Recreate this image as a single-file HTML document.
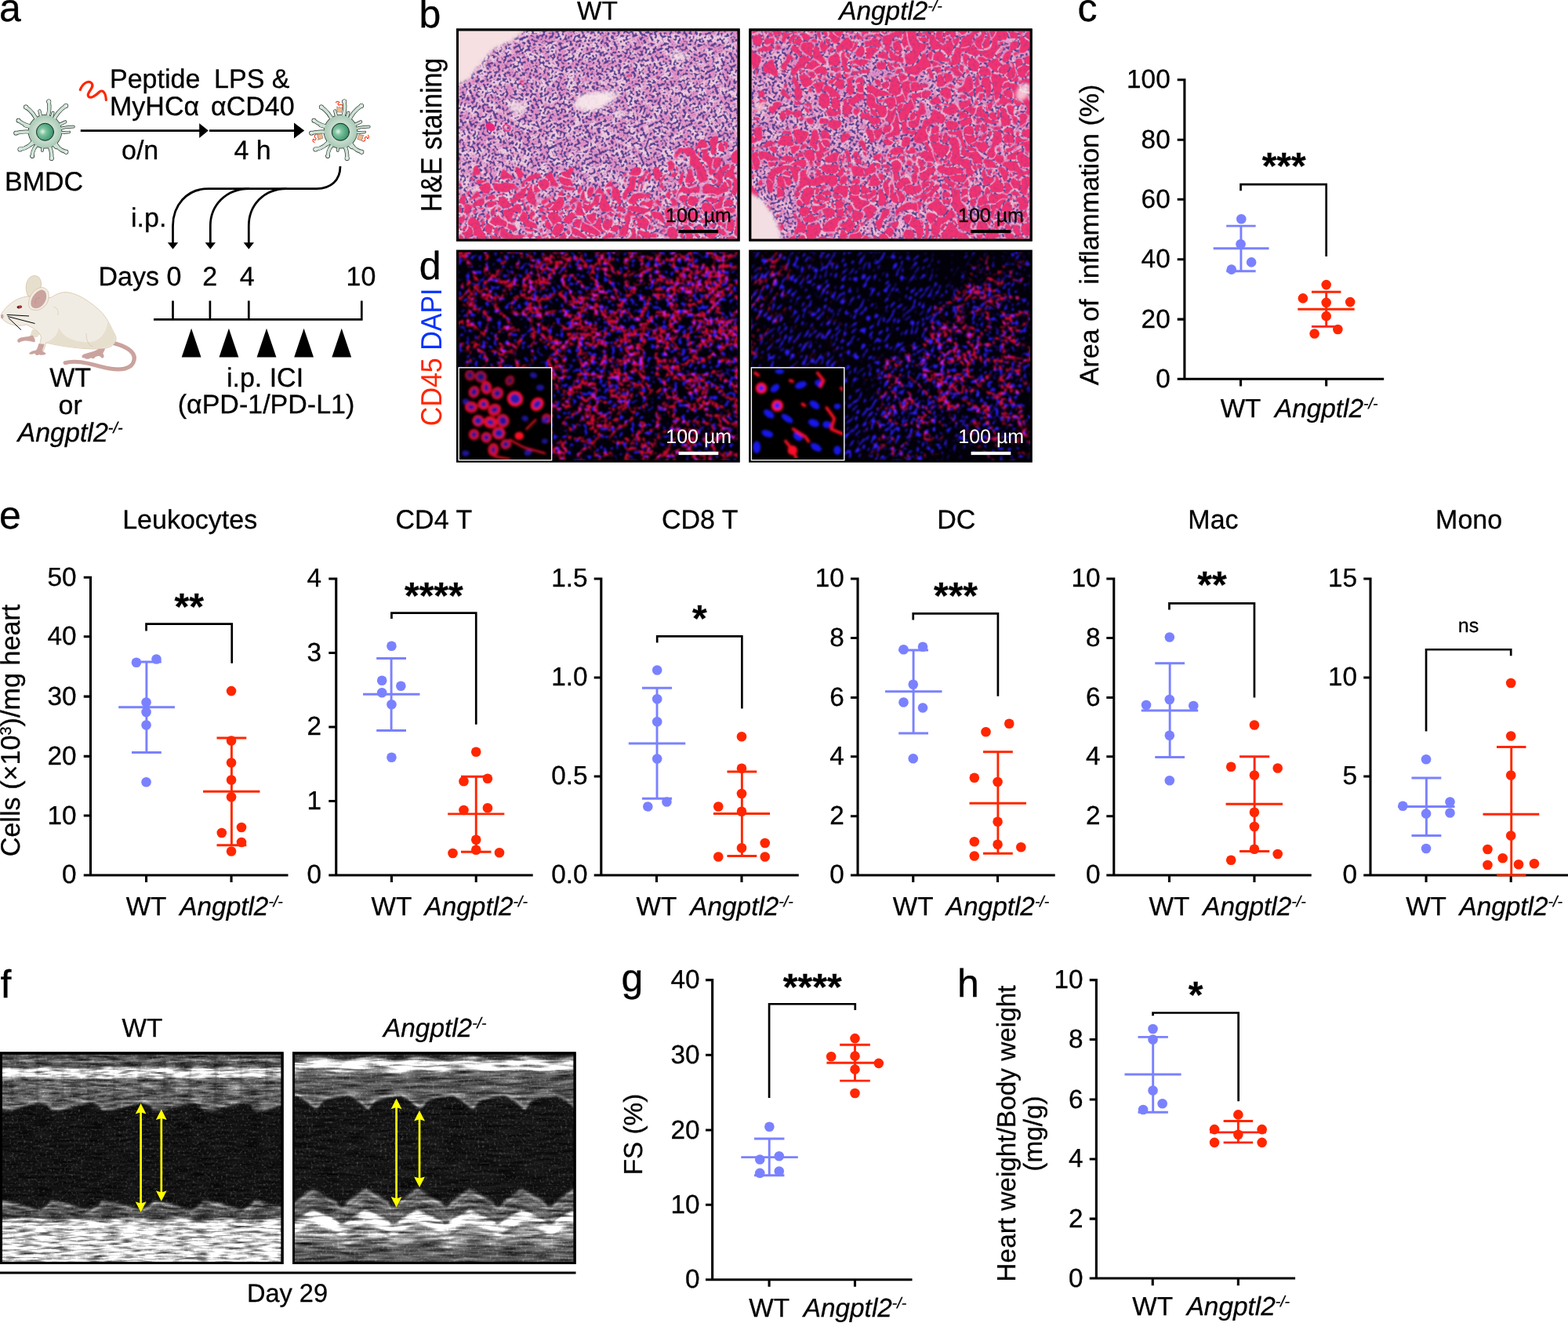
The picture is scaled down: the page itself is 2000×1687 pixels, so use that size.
<!DOCTYPE html>
<html lang="en">
<head>
<meta charset="utf-8">
<title>Figure</title>
<style>
html,body{margin:0;padding:0;background:#fff;}
body{width:2000px;height:1687px;overflow:hidden;}
svg{display:block;}
text{font-family:"Liberation Sans", sans-serif;text-rendering:geometricPrecision;}
text:not([fill]):not(.c){stroke:#000;stroke-width:0.3px;}
</style>
</head>
<body>
<svg width="2000" height="1687" viewBox="0 0 2000 1687">
<defs>
<clipPath id="clip_he_wt"><rect x="585.0" y="39.5" width="355.6" height="265.1"/></clipPath>
<clipPath id="clip_he_ko"><rect x="958.4" y="39.5" width="355.2" height="265.1"/></clipPath>
<clipPath id="clip_if_wt"><rect x="585.0" y="321.6" width="355.8" height="265.1"/></clipPath>
<clipPath id="clip_if_ko"><rect x="958.2" y="321.6" width="355.6" height="265.1"/></clipPath>
<g id="d_hewt_m"><rect x="562.0" y="16.5" width="401.6" height="311.1" fill="#000" fill-opacity="0.0"/><path d="M577.8 217.0 L628.5 210.1 L671.4 222.8 L706.5 217.0 L729.9 210.1 L745.5 238.4 L774.8 224.8 L794.3 213.1 L843.0 209.2 L858.6 187.7 L882.0 176.0 L917.1 172.1 L950.3 195.5 L950.3 316.4 L577.8 316.4Z" fill="#000" fill-opacity="0.9"/><path d="M577.8 250.1 L950.3 250.1 L950.3 316.4 L577.8 316.4Z" fill="#000" fill-opacity="0.6"/><ellipse cx="882.0" cy="189.7" rx="21.5" ry="13.7" fill="#000" fill-opacity="0.7"/><ellipse cx="913.2" cy="178.0" rx="9.8" ry="7.8" fill="#000" fill-opacity="0.7"/><ellipse cx="930.8" cy="224.8" rx="13.7" ry="11.7" fill="#000" fill-opacity="0.8"/><ellipse cx="726.0" cy="220.9" rx="17.6" ry="9.8" fill="#000" fill-opacity="0.6"/></g>
<g id="d_hewt_n"><rect x="562.0" y="16.5" width="401.6" height="311.1" fill="#000" fill-opacity="1.0"/></g>
<g id="d_heko_i"><rect x="935.4" y="16.5" width="401.2" height="311.1" fill="#000" fill-opacity="0.12"/><ellipse cx="984.9" cy="129.2" rx="33.2" ry="64.4" fill="#000" fill-opacity="0.55" transform="rotate(10 984.9 129.2)"/><ellipse cx="1094.1" cy="178.0" rx="33.2" ry="23.4" fill="#000" fill-opacity="0.7" transform="rotate(20 1094.1 178.0)"/><ellipse cx="1137.0" cy="277.4" rx="29.3" ry="17.6" fill="#000" fill-opacity="0.7"/><ellipse cx="984.9" cy="259.9" rx="23.4" ry="44.9" fill="#000" fill-opacity="0.6" transform="rotate(-35 984.9 259.9)"/><ellipse cx="1096.0" cy="101.9" rx="23.4" ry="39.0" fill="#000" fill-opacity="0.35" transform="rotate(30 1096.0 101.9)"/><ellipse cx="1049.2" cy="156.5" rx="39.0" ry="15.6" fill="#000" fill-opacity="0.4" transform="rotate(20 1049.2 156.5)"/><ellipse cx="1183.8" cy="137.0" rx="15.6" ry="58.5" fill="#000" fill-opacity="0.25" transform="rotate(15 1183.8 137.0)"/></g>
<g id="d_ifwt_r"><rect x="562.0" y="298.6" width="401.8" height="311.1" fill="#000" fill-opacity="0.5"/><ellipse cx="774.8" cy="441.5" rx="64.4" ry="81.9" fill="#000" fill-opacity="0.5"/><ellipse cx="891.8" cy="422.0" rx="54.6" ry="97.5" fill="#000" fill-opacity="0.5"/><ellipse cx="687.0" cy="363.5" rx="78.0" ry="39.0" fill="#000" fill-opacity="0.3"/><ellipse cx="872.3" cy="353.8" rx="48.8" ry="29.3" fill="#000" fill-opacity="0.4"/></g>
<g id="d_ifwt_b"><rect x="562.0" y="298.6" width="401.8" height="311.1" fill="#000" fill-opacity="1.0"/></g>
<g id="d_ifko_r"><rect x="935.2" y="298.6" width="401.6" height="311.1" fill="#000" fill-opacity="0.0"/><ellipse cx="1252.0" cy="451.3" rx="78.0" ry="93.6" fill="#000" fill-opacity="0.75"/><ellipse cx="1164.3" cy="490.3" rx="58.5" ry="50.7" fill="#000" fill-opacity="0.55"/><ellipse cx="1281.3" cy="548.8" rx="50.7" ry="50.7" fill="#000" fill-opacity="0.6"/><ellipse cx="1154.5" cy="558.5" rx="58.5" ry="39.0" fill="#000" fill-opacity="0.5"/><ellipse cx="1281.3" cy="353.8" rx="48.8" ry="39.0" fill="#000" fill-opacity="0.45"/></g>
<g id="d_ifko_bs"><rect x="935.2" y="298.6" width="401.6" height="311.1" fill="#000" fill-opacity="0.15"/><ellipse cx="1066.8" cy="422.0" rx="136.5" ry="175.5" fill="#000" fill-opacity="0.8"/><ellipse cx="1135.0" cy="558.5" rx="97.5" ry="58.5" fill="#000" fill-opacity="0.5"/></g>
<g id="d_ifko_rs"><rect x="935.2" y="298.6" width="401.6" height="311.1" fill="#000" fill-opacity="0.0"/><ellipse cx="973.2" cy="383.0" rx="25.4" ry="78.0" fill="#000" fill-opacity="0.9" transform="rotate(15 973.2 383.0)"/><ellipse cx="1037.5" cy="402.5" rx="48.8" ry="97.5" fill="#000" fill-opacity="0.3"/></g>
<filter id="heStroma" x="0" y="0" width="1" height="1" filterUnits="objectBoundingBox" color-interpolation-filters="sRGB"><feTurbulence type="fractalNoise" baseFrequency="0.09" numOctaves="2" seed="11" result="n"/><feComposite in="n" in2="SourceGraphic" operator="arithmetic" k1="0" k2="4.000" k3="-0.000" k4="-1.420" result="a"/><feFlood flood-color="#df8fc3" result="c"/><feComposite in="c" in2="a" operator="in"/></filter>
<filter id="heW" x="0" y="0" width="1" height="1" filterUnits="objectBoundingBox" color-interpolation-filters="sRGB"><feGaussianBlur in="SourceGraphic" stdDeviation="6" result="d"/><feTurbulence type="turbulence" baseFrequency="0.062" numOctaves="1" seed="5" result="n1"/><feTurbulence type="turbulence" baseFrequency="0.062" numOctaves="1" seed="36" result="n2"/><feComposite in="n1" in2="d" operator="arithmetic" k1="0" k2="16.000" k3="9.040" k4="-9.420" result="m1"/><feColorMatrix in="n2" type="matrix" values="0 0 0 0 0  0 0 0 0 0  0 0 0 0 0  0 0 0 16.000 -0.380" result="m2"/><feFlood flood-color="#f03272" flood-opacity="1" result="fib"/><feComposite in="fib" in2="m1" operator="in" result="fib"/><feComposite in="fib" in2="m2" operator="in" result="fib"/><feColorMatrix in="fib" type="matrix" values="1 0 0 0 0  0 1 0 0 0  0 0 1 0 0  0 0 0 0.80 0" result="fibA"/><feTurbulence type="fractalNoise" baseFrequency="0.31" numOctaves="1" seed="10" result="n3"/><feComposite in="n3" in2="d" operator="arithmetic" k1="0" k2="12.000" k3="-0.180" k4="-6.100" result="m3"/><feFlood flood-color="#55408f" flood-opacity="1" result="nuc"/><feComposite in="nuc" in2="m3" operator="in" result="nuc"/><feComposite in="nuc" in2="fibA" operator="out" result="nuc2"/><feMerge result="mg"><feMergeNode in="fib"/><feMergeNode in="nuc2"/></feMerge><feGaussianBlur in="mg" stdDeviation="0.55" result="o"/></filter>
<filter id="heK" x="0" y="0" width="1" height="1" filterUnits="objectBoundingBox" color-interpolation-filters="sRGB"><feGaussianBlur in="SourceGraphic" stdDeviation="8" result="d"/><feTurbulence type="turbulence" baseFrequency="0.062" numOctaves="1" seed="23" result="n1"/><feTurbulence type="turbulence" baseFrequency="0.062" numOctaves="1" seed="54" result="n2"/><feComposite in="n1" in2="d" operator="arithmetic" k1="0" k2="16.000" k3="-5.952" k4="0.052" result="m1"/><feColorMatrix in="n2" type="matrix" values="0 0 0 0 0  0 0 0 0 0  0 0 0 0 0  0 0 0 16.000 -0.140" result="m2"/><feFlood flood-color="#f03272" flood-opacity="1" result="fib"/><feComposite in="fib" in2="m1" operator="in" result="fib"/><feComposite in="fib" in2="m2" operator="in" result="fib"/><feColorMatrix in="fib" type="matrix" values="1 0 0 0 0  0 1 0 0 0  0 0 1 0 0  0 0 0 0.80 0" result="fibA"/><feTurbulence type="fractalNoise" baseFrequency="0.31" numOctaves="1" seed="28" result="n3"/><feComposite in="n3" in2="d" operator="arithmetic" k1="0" k2="12.000" k3="0.360" k4="-6.280" result="m3"/><feFlood flood-color="#55408f" flood-opacity="1" result="nuc"/><feComposite in="nuc" in2="m3" operator="in" result="nuc"/><feComposite in="nuc" in2="fibA" operator="out" result="nuc2"/><feMerge result="mg"><feMergeNode in="fib"/><feMergeNode in="nuc2"/></feMerge><feGaussianBlur in="mg" stdDeviation="0.55" result="o"/></filter>
<filter id="ifW" x="0" y="0" width="1" height="1" filterUnits="objectBoundingBox" color-interpolation-filters="sRGB"><feGaussianBlur in="SourceGraphic" stdDeviation="10" result="d"/><feTurbulence type="turbulence" baseFrequency="0.05" numOctaves="2" seed="4" result="n1"/><feTurbulence type="fractalNoise" baseFrequency="0.24" numOctaves="1" seed="11" result="n2"/><feTurbulence type="fractalNoise" baseFrequency="0.2" numOctaves="1" seed="17" result="n3"/><feComposite in="n1" in2="d" operator="arithmetic" k1="0" k2="-9.000" k3="2.430" k4="0.950" result="net"/><feColorMatrix in="n2" type="matrix" values="0 0 0 0 0  0 0 0 0 0  0 0 0 0 0  0 0 0 8.000 -3.380" result="m2"/><feFlood flood-color="#e80a34" flood-opacity="0.88" result="r"/><feComposite in="r" in2="net" operator="in" result="r"/><feComposite in="r" in2="m2" operator="in" result="r"/><feComposite in="n3" in2="d" operator="arithmetic" k1="0" k2="9.000" k3="1.260" k4="-5.800" result="m3"/><feFlood flood-color="#2418f0" flood-opacity="1" result="b"/><feComposite in="b" in2="m3" operator="in" result="b"/><feBlend in="r" in2="b" mode="screen" result="rb"/><feGaussianBlur in="rb" stdDeviation="0.95" result="o"/></filter>
<filter id="ifK" x="0" y="0" width="1" height="1" filterUnits="objectBoundingBox" color-interpolation-filters="sRGB"><feGaussianBlur in="SourceGraphic" stdDeviation="10" result="d"/><feTurbulence type="turbulence" baseFrequency="0.05" numOctaves="2" seed="9" result="n1"/><feTurbulence type="fractalNoise" baseFrequency="0.24" numOctaves="1" seed="16" result="n2"/><feTurbulence type="fractalNoise" baseFrequency="0.2" numOctaves="1" seed="22" result="n3"/><feComposite in="n1" in2="d" operator="arithmetic" k1="0" k2="-9.000" k3="3.060" k4="-0.040" result="net"/><feColorMatrix in="n2" type="matrix" values="0 0 0 0 0  0 0 0 0 0  0 0 0 0 0  0 0 0 8.000 -3.500" result="m2"/><feFlood flood-color="#e80a34" flood-opacity="0.88" result="r"/><feComposite in="r" in2="net" operator="in" result="r"/><feComposite in="r" in2="m2" operator="in" result="r"/><feComposite in="n3" in2="d" operator="arithmetic" k1="0" k2="9.000" k3="1.845" k4="-6.520" result="m3"/><feFlood flood-color="#2418f0" flood-opacity="1" result="b"/><feComposite in="b" in2="m3" operator="in" result="b"/><feBlend in="r" in2="b" mode="screen" result="rb"/><feGaussianBlur in="rb" stdDeviation="0.95" result="o"/></filter>
<filter id="ifKb" x="0" y="0" width="1" height="1" filterUnits="objectBoundingBox" color-interpolation-filters="sRGB"><feGaussianBlur in="SourceGraphic" stdDeviation="8" result="d"/><feTurbulence type="fractalNoise" baseFrequency="0.12 0.3" numOctaves="1" seed="31" result="n3"/><feComposite in="n3" in2="d" operator="arithmetic" k1="0" k2="10.000" k3="1.200" k4="-6.700" result="m3"/><feFlood flood-color="#2a1cff" flood-opacity="1" result="b"/><feComposite in="b" in2="m3" operator="in" result="b"/><feGaussianBlur in="b" stdDeviation="0.8" result="o"/></filter>
<filter id="ifKr" x="0" y="0" width="1" height="1" filterUnits="objectBoundingBox" color-interpolation-filters="sRGB"><feGaussianBlur in="SourceGraphic" stdDeviation="8" result="d"/><feTurbulence type="turbulence" baseFrequency="0.035 0.1" numOctaves="2" seed="12" result="n1"/><feTurbulence type="fractalNoise" baseFrequency="0.2" numOctaves="1" seed="19" result="n2"/><feComposite in="n1" in2="d" operator="arithmetic" k1="0" k2="-10.000" k3="2.300" k4="0.200" result="net"/><feColorMatrix in="n2" type="matrix" values="0 0 0 0 0  0 0 0 0 0  0 0 0 0 0  0 0 0 8.000 -3.500" result="m2"/><feFlood flood-color="#e80a34" flood-opacity="0.85" result="r"/><feComposite in="r" in2="net" operator="in" result="r"/><feComposite in="r" in2="m2" operator="in" result="r"/><feGaussianBlur in="r" stdDeviation="0.9" result="o"/></filter>
<clipPath id="clip_fwt"><rect x="2.8" y="1344.4" width="355.8" height="264.5"/></clipPath>
<clipPath id="clip_fko"><rect x="376.0" y="1344.4" width="355.6" height="264.5"/></clipPath>
<filter id="echoW" x="0" y="0" width="1" height="1" filterUnits="objectBoundingBox" color-interpolation-filters="sRGB"><feTurbulence type="fractalNoise" baseFrequency="0.045 0.30" numOctaves="2" seed="2" result="t1"/><feColorMatrix in="t1" type="matrix" values="0 0 0 1 0  0 0 0 1 0  0 0 0 1 0  0 0 0 0 1" result="g1"/><feTurbulence type="fractalNoise" baseFrequency="0.33" numOctaves="2" seed="5" result="t2"/><feColorMatrix in="t2" type="matrix" values="0 0 0 0.6 -0.33  0 0 0 0.6 -0.33  0 0 0 0.6 -0.33  0 0 0 0 1" result="g2"/><feComposite in="SourceGraphic" in2="g1" operator="arithmetic" k1="2.2" k2="-0.1" k3="0" k4="0" result="m"/><feComposite in="m" in2="g2" operator="arithmetic" k1="0" k2="1" k3="1" k4="0" result="o"/><feGaussianBlur in="o" stdDeviation="0.6"/></filter>
<filter id="echoK" x="0" y="0" width="1" height="1" filterUnits="objectBoundingBox" color-interpolation-filters="sRGB"><feTurbulence type="fractalNoise" baseFrequency="0.03 0.26" numOctaves="2" seed="6" result="t1"/><feColorMatrix in="t1" type="matrix" values="0 0 0 1 0  0 0 0 1 0  0 0 0 1 0  0 0 0 0 1" result="g1"/><feTurbulence type="fractalNoise" baseFrequency="0.33" numOctaves="2" seed="9" result="t2"/><feColorMatrix in="t2" type="matrix" values="0 0 0 0.6 -0.33  0 0 0 0.6 -0.33  0 0 0 0.6 -0.33  0 0 0 0 1" result="g2"/><feComposite in="SourceGraphic" in2="g1" operator="arithmetic" k1="2.2" k2="-0.1" k3="0" k4="0" result="m"/><feComposite in="m" in2="g2" operator="arithmetic" k1="0" k2="1" k3="1" k4="0" result="o"/><feGaussianBlur in="o" stdDeviation="0.6"/></filter>
<filter id="echoBlur" x="-0.05" y="-0.05" width="1.1" height="1.1"><feGaussianBlur stdDeviation="1.4"/></filter>
</defs>
<rect x="0" y="0" width="2000" height="1687" fill="#ffffff"/>
<g id="panel-a">
<text x="-1.00" y="27.00" font-size="50">a</text>
<radialGradient id="dcBody" cx="0" cy="0" r="166" gradientUnits="userSpaceOnUse"><stop offset="0" stop-color="#d9e8de"/><stop offset="0.62" stop-color="#c6dbcd"/><stop offset="1" stop-color="#a9c9b5"/></radialGradient>
<radialGradient id="dcNuc" cx="-25" cy="0" r="100" gradientUnits="userSpaceOnUse"><stop offset="0" stop-color="#e6f4ec"/><stop offset="0.35" stop-color="#7fc3a0"/><stop offset="1" stop-color="#3f9a72"/></radialGradient>
<g transform="translate(57.5 167.8) scale(0.125)" stroke-linecap="round">
<g fill="none" stroke="#24332b"><path d="M16 -129Q56 -215 38 -307" stroke-width="41"/><circle cx="38" cy="-307" r="24" stroke="none" fill="#24332b"/><path d="M82 -101Q120 -204 213 -263" stroke-width="41"/><circle cx="213" cy="-263" r="24" stroke="none" fill="#24332b"/><path d="M-80 -102Q-113 -196 -196 -250" stroke-width="41"/><circle cx="-196" cy="-250" r="24" stroke="none" fill="#24332b"/><path d="M-120 -50Q-205 -60 -272 -113" stroke-width="39"/><circle cx="-272" cy="-113" r="23" stroke="none" fill="#24332b"/><path d="M-130 7Q-215 -8 -298 15" stroke-width="39"/><circle cx="-298" cy="15" r="23" stroke="none" fill="#24332b"/><path d="M-106 75Q-153 167 -256 181" stroke-width="41"/><circle cx="-256" cy="181" r="24" stroke="none" fill="#24332b"/><path d="M-61 115Q-127 166 -131 250" stroke-width="39"/><circle cx="-131" cy="250" r="23" stroke="none" fill="#24332b"/><path d="M31 126Q73 194 66 273" stroke-width="41"/><circle cx="66" cy="273" r="24" stroke="none" fill="#24332b"/><path d="M94 90Q121 183 215 208" stroke-width="41"/><circle cx="215" cy="208" r="24" stroke="none" fill="#24332b"/><path d="M128 -21Q207 -51 291 -49" stroke-width="29"/><path d="M130 3Q188 14 247 6" stroke-width="27"/><path d="M117 -56Q162 -78 206 -99" stroke-width="33"/><path d="M-34 -125Q-46 -168 -57 -211" stroke-width="33"/><path d="M50 -120Q74 -152 80 -192" stroke-width="33"/><path d="M-125 -37Q-167 -49 -208 -61" stroke-width="31"/><path d="M-94 89Q-110 122 -143 135" stroke-width="31"/><path d="M-19 129Q-24 161 -29 193" stroke-width="29"/><path d="M74 107Q84 143 114 164" stroke-width="31"/></g>
<circle r="174" fill="#24332b"/>
<g fill="none" stroke="#cfe2d6"><path d="M16 -129Q56 -215 38 -307" stroke-width="30"/><circle cx="38" cy="-307" r="19" stroke="none" fill="#dcebe1"/><path d="M82 -101Q120 -204 213 -263" stroke-width="30"/><circle cx="213" cy="-263" r="19" stroke="none" fill="#dcebe1"/><path d="M-80 -102Q-113 -196 -196 -250" stroke-width="30"/><circle cx="-196" cy="-250" r="19" stroke="none" fill="#dcebe1"/><path d="M-120 -50Q-205 -60 -272 -113" stroke-width="28"/><circle cx="-272" cy="-113" r="17" stroke="none" fill="#dcebe1"/><path d="M-130 7Q-215 -8 -298 15" stroke-width="28"/><circle cx="-298" cy="15" r="17" stroke="none" fill="#dcebe1"/><path d="M-106 75Q-153 167 -256 181" stroke-width="30"/><circle cx="-256" cy="181" r="19" stroke="none" fill="#dcebe1"/><path d="M-61 115Q-127 166 -131 250" stroke-width="28"/><circle cx="-131" cy="250" r="17" stroke="none" fill="#dcebe1"/><path d="M31 126Q73 194 66 273" stroke-width="30"/><circle cx="66" cy="273" r="19" stroke="none" fill="#dcebe1"/><path d="M94 90Q121 183 215 208" stroke-width="30"/><circle cx="215" cy="208" r="19" stroke="none" fill="#dcebe1"/><path d="M128 -21Q207 -51 291 -49" stroke-width="18"/><path d="M130 3Q188 14 247 6" stroke-width="16"/><path d="M117 -56Q162 -78 206 -99" stroke-width="22"/><path d="M-34 -125Q-46 -168 -57 -211" stroke-width="22"/><path d="M50 -120Q74 -152 80 -192" stroke-width="22"/><path d="M-125 -37Q-167 -49 -208 -61" stroke-width="20"/><path d="M-94 89Q-110 122 -143 135" stroke-width="20"/><path d="M-19 129Q-24 161 -29 193" stroke-width="18"/><path d="M74 107Q84 143 114 164" stroke-width="20"/></g>
<circle r="168" fill="url(#dcBody)"/>
<circle cx="0" cy="4" r="88" fill="url(#dcNuc)" stroke="#14261d" stroke-width="8"/>
</g>
<g transform="translate(434.4 167.8) scale(0.125)" stroke-linecap="round">
<g fill="none" stroke="#24332b"><path d="M16 -129Q56 -215 38 -307" stroke-width="41"/><circle cx="38" cy="-307" r="24" stroke="none" fill="#24332b"/><path d="M82 -101Q120 -204 213 -263" stroke-width="41"/><circle cx="213" cy="-263" r="24" stroke="none" fill="#24332b"/><path d="M-80 -102Q-113 -196 -196 -250" stroke-width="41"/><circle cx="-196" cy="-250" r="24" stroke="none" fill="#24332b"/><path d="M-120 -50Q-205 -60 -272 -113" stroke-width="39"/><circle cx="-272" cy="-113" r="23" stroke="none" fill="#24332b"/><path d="M-130 7Q-215 -8 -298 15" stroke-width="39"/><circle cx="-298" cy="15" r="23" stroke="none" fill="#24332b"/><path d="M-106 75Q-153 167 -256 181" stroke-width="41"/><circle cx="-256" cy="181" r="24" stroke="none" fill="#24332b"/><path d="M-61 115Q-127 166 -131 250" stroke-width="39"/><circle cx="-131" cy="250" r="23" stroke="none" fill="#24332b"/><path d="M31 126Q73 194 66 273" stroke-width="41"/><circle cx="66" cy="273" r="24" stroke="none" fill="#24332b"/><path d="M94 90Q121 183 215 208" stroke-width="41"/><circle cx="215" cy="208" r="24" stroke="none" fill="#24332b"/><path d="M128 -21Q207 -51 291 -49" stroke-width="29"/><path d="M130 3Q188 14 247 6" stroke-width="27"/><path d="M117 -56Q162 -78 206 -99" stroke-width="33"/><path d="M-34 -125Q-46 -168 -57 -211" stroke-width="33"/><path d="M50 -120Q74 -152 80 -192" stroke-width="33"/><path d="M-125 -37Q-167 -49 -208 -61" stroke-width="31"/><path d="M-94 89Q-110 122 -143 135" stroke-width="31"/><path d="M-19 129Q-24 161 -29 193" stroke-width="29"/><path d="M74 107Q84 143 114 164" stroke-width="31"/></g>
<circle r="174" fill="#24332b"/>
<g fill="none" stroke="#cfe2d6"><path d="M16 -129Q56 -215 38 -307" stroke-width="30"/><circle cx="38" cy="-307" r="19" stroke="none" fill="#dcebe1"/><path d="M82 -101Q120 -204 213 -263" stroke-width="30"/><circle cx="213" cy="-263" r="19" stroke="none" fill="#dcebe1"/><path d="M-80 -102Q-113 -196 -196 -250" stroke-width="30"/><circle cx="-196" cy="-250" r="19" stroke="none" fill="#dcebe1"/><path d="M-120 -50Q-205 -60 -272 -113" stroke-width="28"/><circle cx="-272" cy="-113" r="17" stroke="none" fill="#dcebe1"/><path d="M-130 7Q-215 -8 -298 15" stroke-width="28"/><circle cx="-298" cy="15" r="17" stroke="none" fill="#dcebe1"/><path d="M-106 75Q-153 167 -256 181" stroke-width="30"/><circle cx="-256" cy="181" r="19" stroke="none" fill="#dcebe1"/><path d="M-61 115Q-127 166 -131 250" stroke-width="28"/><circle cx="-131" cy="250" r="17" stroke="none" fill="#dcebe1"/><path d="M31 126Q73 194 66 273" stroke-width="30"/><circle cx="66" cy="273" r="19" stroke="none" fill="#dcebe1"/><path d="M94 90Q121 183 215 208" stroke-width="30"/><circle cx="215" cy="208" r="19" stroke="none" fill="#dcebe1"/><path d="M128 -21Q207 -51 291 -49" stroke-width="18"/><path d="M130 3Q188 14 247 6" stroke-width="16"/><path d="M117 -56Q162 -78 206 -99" stroke-width="22"/><path d="M-34 -125Q-46 -168 -57 -211" stroke-width="22"/><path d="M50 -120Q74 -152 80 -192" stroke-width="22"/><path d="M-125 -37Q-167 -49 -208 -61" stroke-width="20"/><path d="M-94 89Q-110 122 -143 135" stroke-width="20"/><path d="M-19 129Q-24 161 -29 193" stroke-width="18"/><path d="M74 107Q84 143 114 164" stroke-width="20"/></g>
<circle r="168" fill="url(#dcBody)"/>
<circle cx="0" cy="4" r="88" fill="url(#dcNuc)" stroke="#14261d" stroke-width="8"/>
<g transform="translate(-10 -232) rotate(5)"><path d="M-24 30 L-28 -22 L-12 -8 L0 -20 L12 -8 L28 -22 L24 30 Z" fill="#f2b98c" stroke="#8a6a55" stroke-width="5"/><path d="M-44 -62 q22 -24 36 -2 q-28 14 -2 28 q28 -24 42 8" fill="none" stroke="#ff2600" stroke-width="8"/></g>
<g transform="translate(-218 52) rotate(-105)"><path d="M-24 30 L-28 -22 L-12 -8 L0 -20 L12 -8 L28 -22 L24 30 Z" fill="#f2b98c" stroke="#8a6a55" stroke-width="5"/><path d="M-44 -62 q22 -24 36 -2 q-28 14 -2 28 q28 -24 42 8" fill="none" stroke="#ff2600" stroke-width="8"/></g>
<g transform="translate(210 62) rotate(105)"><path d="M-24 30 L-28 -22 L-12 -8 L0 -20 L12 -8 L28 -22 L24 30 Z" fill="#f2b98c" stroke="#8a6a55" stroke-width="5"/><path d="M-44 -62 q22 -24 36 -2 q-28 14 -2 28 q28 -24 42 8" fill="none" stroke="#ff2600" stroke-width="8"/></g>
</g>
<path d="M102.3 114.5 C105 107 112.5 101.5 116.8 106 C121.5 111.5 110 118 112.5 122.5 C115 127 122.5 121.5 127 117 C131.5 113.5 135 119.5 135.3 127.5" fill="none" stroke="#ff2600" stroke-width="3.2" stroke-linecap="round"/>
<text x="140.00" y="111.80" font-size="34">Peptide</text>
<text x="140.00" y="147.00" font-size="34">MyHCα</text>
<text x="273.10" y="111.80" font-size="34">LPS &amp;</text>
<text x="269.00" y="147.00" font-size="34">αCD40</text>
<text x="155.00" y="202.60" font-size="34">o/n</text>
<text x="298.50" y="202.60" font-size="34">4 h</text>
<text x="6.00" y="242.50" font-size="34">BMDC</text>
<path d="M102.8 166.6 H256 M267 166.6 H377" fill="none" stroke="#000" stroke-width="2.75"/>
<path d="M254.2 157.2 L265.8 166.6 L254.2 176 Z M375 156.6 L388.2 166.6 L375 176.6 Z" fill="#000"/>
<path d="M434 212 C434 230 422 240.6 404 240.6 H266 C238 240.6 220.5 262 220.5 288 V310" fill="none" stroke="#000" stroke-width="2.75"/>
<path d="M318 240.6 C288 240.6 268.3 262 268.3 288 V310" fill="none" stroke="#000" stroke-width="2.75"/>
<path d="M366 240.6 C336 240.6 317.3 262 317.3 288 V310" fill="none" stroke="#000" stroke-width="2.75"/>
<path d="M213.8 309.2 H227.2 L220.5 317.8 Z" fill="#000"/>
<path d="M261.6 309.2 H275.0 L268.3 317.8 Z" fill="#000"/>
<path d="M310.6 309.2 H324.0 L317.3 317.8 Z" fill="#000"/>
<text x="167.00" y="289.30" font-size="34">i.p.</text>
<text x="125.50" y="363.50" font-size="34">Days 0</text>
<text x="267.60" y="363.50" font-size="34" text-anchor="middle">2</text>
<text x="315.30" y="363.50" font-size="34" text-anchor="middle">4</text>
<text x="460.50" y="363.50" font-size="34" text-anchor="middle">10</text>
<path d="M196 407.3 H462.6 M220.5 383.4 V407.3 M267.9 383.4 V407.3 M317.3 383.4 V407.3 M461.3 383.4 V407.3" fill="none" stroke="#000" stroke-width="2.7"/>
<path d="M244.1 418.8 L256.5 455.6 H231.7 Z" fill="#000"/>
<path d="M291.9 418.8 L304.29999999999995 455.6 H279.5 Z" fill="#000"/>
<path d="M340 418.8 L352.4 455.6 H327.6 Z" fill="#000"/>
<path d="M387.6 418.8 L400.0 455.6 H375.20000000000005 Z" fill="#000"/>
<path d="M435.75 418.8 L448.15 455.6 H423.35 Z" fill="#000"/>
<text x="338.00" y="493.40" font-size="34" text-anchor="middle">i.p. ICI</text>
<text x="339.50" y="527.30" font-size="34" text-anchor="middle">(αPD-1/PD-L1)</text>
<text x="89.70" y="493.40" font-size="34" text-anchor="middle">WT</text>
<text x="89.70" y="528.00" font-size="34" text-anchor="middle">or</text>
<text x="89.50" y="563.30" font-size="34" font-style="italic" text-anchor="middle">Angptl2<tspan font-size="19.82" dy="-11.32">-/-</tspan></text>
<g transform="translate(0 330) scale(0.125)" stroke-linejoin="round">
<path d="M1120 850 C1260 880 1390 940 1370 1030 C1350 1130 1230 1140 1120 1120 C980 1095 800 1020 665 1062" fill="none" stroke="#cba39e" stroke-width="40" stroke-linecap="round"/>
<path d="M1120 866 C1250 895 1360 950 1352 1030 C1338 1110 1230 1125 1120 1106" fill="none" stroke="#b98d88" stroke-width="8" stroke-linecap="round" opacity="0.5"/>
<path d="M285 380 C240 280 280 175 350 172 C415 170 435 250 410 310 C390 350 330 390 285 380Z" fill="#e7dfce" stroke="#cdb594" stroke-width="5"/>
<path d="M330 720 L300 800 L380 800 L420 740Z" fill="#e7dfce"/>
<path d="M178 832 C185 800 240 800 300 790 L330 780 C350 800 365 830 355 850 C330 850 300 835 280 838 C250 832 215 840 195 855 C180 850 175 842 178 832Z" fill="#cba39e"/>
<path d="M1010 915 C960 950 890 955 850 975 C825 990 835 1015 865 1012 C870 1025 900 1028 930 1010 C940 1025 960 1020 975 1000 C1000 990 1020 985 1035 1010 C1060 1020 1070 990 1050 965 C1060 945 1075 925 1070 910Z" fill="#cba39e"/>
<path d="M10 585 C5 560 60 490 130 440 C190 400 250 385 290 385 C380 380 470 400 520 395 C570 365 620 335 690 342 C800 355 920 440 1010 520 C1090 590 1130 690 1180 790 C1195 830 1170 880 1120 900 C1050 925 950 922 850 915 C720 905 560 880 470 855 L445 935 L395 925 L420 800 C400 740 340 705 270 672 C200 690 120 680 70 650 C40 630 15 610 10 585Z" fill="#f1ece3" stroke="#cdb594" stroke-width="5"/>
<path d="M600 700 C640 800 760 850 900 850 C1000 850 1080 780 1100 640 C1160 720 1185 800 1170 850 C1140 900 1050 920 850 912 C720 904 560 878 470 853 C520 830 590 790 600 700Z" fill="#e7dfce"/>
<path d="M880 760 C880 830 900 880 945 895" fill="none" stroke="#cdb594" stroke-width="4"/>
<path d="M545 490 C590 500 600 540 590 575" fill="none" stroke="#cdb594" stroke-width="4"/>
<path d="M395 865 C385 900 380 925 360 935 C330 935 305 950 295 968 C310 980 335 970 355 965 C365 985 385 992 395 975 C420 985 455 985 470 968 C455 950 440 945 430 935 C440 910 450 890 452 870Z" fill="#cba39e"/>
<path d="M300 500 C270 420 330 310 420 292 C480 290 510 340 495 410 C485 470 430 520 370 525 C340 525 310 515 300 500Z" fill="#f1ece3" stroke="#cdb594" stroke-width="5"/>
<path d="M318 478 C300 420 350 335 420 315 C465 315 480 360 470 410 C455 460 420 500 370 505 C345 505 325 495 318 478Z" fill="#cba39e"/>
<path d="M360 455 C355 420 375 390 405 400" fill="none" stroke="#b98d88" stroke-width="6" stroke-linecap="round"/>
<ellipse cx="22" cy="588" rx="14" ry="22" fill="#cba39e"/>
<ellipse cx="198" cy="492" rx="26" ry="15" transform="rotate(-8 198 492)" fill="#5a1a1a"/>
<ellipse cx="203" cy="492" rx="13" ry="10" fill="#d23a3a"/>
<path d="M70 571 L296 584 M78 588 L356 660 M86 603 L215 725" fill="none" stroke="#000" stroke-width="8"/>
</g>
</g>
<g id="images">
<filter id="softblur" x="-0.1" y="-0.1" width="1.2" height="1.2"><feGaussianBlur stdDeviation="2.2"/></filter>
<filter id="softblur1" x="-0.2" y="-0.2" width="1.4" height="1.4"><feGaussianBlur stdDeviation="0.7"/></filter>
<filter id="insblur" x="0" y="0" width="1" height="1"><feGaussianBlur stdDeviation="1.7"/></filter>
<text x="534.50" y="35.30" font-size="50">b</text>
<text x="534.80" y="355.60" font-size="50">d</text>
<text x="762.00" y="24.60" font-size="33.33" text-anchor="middle">WT</text>
<text x="1136.00" y="24.60" font-size="33.33" font-style="italic" text-anchor="middle">Angptl2<tspan font-size="19.43" dy="-11.10">-/-</tspan></text>
<text transform="translate(563 172) rotate(-90) scale(1 1.1)" font-size="34" text-anchor="middle">H&amp;E staining</text>
<text class="c" transform="translate(563 455.3) rotate(-90) scale(1 1.1)" font-size="34" text-anchor="middle"><tspan fill="#ff2600">CD45</tspan> <tspan fill="#0433ff">DAPI</tspan></text>
<rect x="582.0" y="36.5" width="361.6" height="271.1" fill="#000"/>
<rect x="585.0" y="39.5" width="355.6" height="265.1" fill="#eec9de"/>
<g clip-path="url(#clip_he_wt)"><g filter="url(#heStroma)"><use href="#d_hewt_n"/></g></g>
<g clip-path="url(#clip_he_wt)"><g transform="rotate(-24 762.8 172.1)"><g filter="url(#heW)"><g transform="rotate(24 762.8 172.1)"><use href="#d_hewt_m"/></g></g></g></g>
<g filter="url(#softblur1)"><ellipse cx="625.5" cy="161.8" rx="6.6" ry="4.8" transform="rotate(35 625.5 161.8)" fill="#e9267c"/><ellipse cx="646.3" cy="163" rx="4.6" ry="3.6" transform="rotate(30 646.3 163)" fill="none" stroke="#ee3f8c" stroke-width="2.2"/></g>
<g clip-path="url(#clip_he_wt)"><g filter="url(#softblur)"><path d="M577.8 31.7 L679.2 31.7 L653.9 51.2 L628.5 63.9 L611.0 84.4 L597.3 101.9 L577.8 110.7Z" fill="#f6e0e2" fill-opacity="1.0"/><ellipse cx="755.3" cy="129.2" rx="23.4" ry="11.7" fill="#f8e6ea" fill-opacity="0.95" transform="rotate(-10 755.3 129.2)"/><ellipse cx="774.8" cy="123.4" rx="13.7" ry="7.8" fill="#f8e6ea" fill-opacity="0.8" transform="rotate(-10 774.8 123.4)"/><ellipse cx="659.7" cy="137.0" rx="11.7" ry="7.8" fill="#f8e6ea" fill-opacity="0.8" transform="rotate(20 659.7 137.0)"/><ellipse cx="866.4" cy="71.7" rx="9.8" ry="5.9" fill="#f8e6ea" fill-opacity="0.7"/><ellipse cx="790.4" cy="144.8" rx="7.8" ry="4.9" fill="#f8e6ea" fill-opacity="0.7"/></g></g>
<rect x="955.4" y="36.5" width="361.2" height="271.1" fill="#000"/>
<rect x="958.4" y="39.5" width="355.2" height="265.1" fill="#efbad5"/>
<g clip-path="url(#clip_he_ko)"><g filter="url(#heStroma)"><use href="#d_heko_i"/></g></g>
<g clip-path="url(#clip_he_ko)"><g transform="rotate(33 1136.0 172.1)"><g filter="url(#heK)"><g transform="rotate(-33 1136.0 172.1)"><use href="#d_heko_i"/></g></g></g></g>
<g clip-path="url(#clip_he_ko)"><g filter="url(#softblur)"><path d="M951.7 242.3 L971.2 254.0 L984.9 271.6 L994.6 293.0 L998.5 312.5 L951.7 312.5Z" fill="#f3dfe3" fill-opacity="1.0"/><ellipse cx="1304.7" cy="117.5" rx="7.8" ry="11.7" fill="#f8e6ea" fill-opacity="0.8" transform="rotate(30 1304.7 117.5)"/><ellipse cx="969.3" cy="137.0" rx="7.8" ry="5.9" fill="#f8e6ea" fill-opacity="0.7"/></g></g>
<rect x="582.0" y="318.6" width="361.8" height="271.1" fill="#000"/>
<rect x="585.0" y="321.6" width="355.8" height="265.1" fill="#020008"/>
<g clip-path="url(#clip_if_wt)"><g filter="url(#ifW)"><use href="#d_ifwt_r"/></g></g>
<rect x="955.2" y="318.6" width="361.6" height="271.1" fill="#000"/>
<rect x="958.2" y="321.6" width="355.6" height="265.1" fill="#020008"/>
<g clip-path="url(#clip_if_ko)"><g transform="rotate(-58 1136.0 454.2)"><g filter="url(#ifKb)"><g transform="rotate(58 1136.0 454.2)"><use href="#d_ifko_bs"/></g></g></g></g>
<g style="mix-blend-mode:screen"><g clip-path="url(#clip_if_ko)"><g transform="rotate(-62 1136.0 454.2)"><g filter="url(#ifKr)"><g transform="rotate(62 1136.0 454.2)"><use href="#d_ifko_rs"/></g></g></g></g>
</g><g style="mix-blend-mode:screen"><g clip-path="url(#clip_if_ko)"><g filter="url(#ifK)"><use href="#d_ifko_r"/></g></g>
</g><rect x="585.2" y="468.8" width="118.4" height="118.0" fill="#000"/>
<g filter="url(#insblur)"><svg x="586.2" y="469.8" width="116.4" height="116.0" viewBox="0 0 600 600" preserveAspectRatio="none"><ellipse cx="365" cy="200" rx="42" ry="44" transform="rotate(119 365 200)" fill="#2a1ed0" fill-opacity="0.85" stroke="#ff1024" stroke-opacity="1.00" stroke-width="19"/><ellipse cx="510" cy="236" rx="39" ry="31" transform="rotate(131 510 236)" fill="#2a1ed0" fill-opacity="0.85" stroke="#ff1024" stroke-opacity="1.00" stroke-width="19"/><ellipse cx="95" cy="155" rx="32" ry="27" transform="rotate(114 95 155)" fill="#2a1ed0" fill-opacity="0.68" stroke="#ff1024" stroke-opacity="0.80" stroke-width="18"/><ellipse cx="176" cy="127" rx="26" ry="34" transform="rotate(177 176 127)" fill="#2a1ed0" fill-opacity="0.72" stroke="#ff1024" stroke-opacity="0.85" stroke-width="21"/><ellipse cx="248" cy="164" rx="32" ry="30" transform="rotate(115 248 164)" fill="#2a1ed0" fill-opacity="0.68" stroke="#ff1024" stroke-opacity="0.80" stroke-width="21"/><ellipse cx="77" cy="255" rx="32" ry="27" transform="rotate(3 77 255)" fill="#2a1ed0" fill-opacity="0.72" stroke="#ff1024" stroke-opacity="0.85" stroke-width="22"/><ellipse cx="158" cy="236" rx="28" ry="28" transform="rotate(61 158 236)" fill="#2a1ed0" fill-opacity="0.77" stroke="#ff1024" stroke-opacity="0.90" stroke-width="20"/><ellipse cx="230" cy="273" rx="34" ry="29" transform="rotate(151 230 273)" fill="#2a1ed0" fill-opacity="0.72" stroke="#ff1024" stroke-opacity="0.85" stroke-width="23"/><ellipse cx="122" cy="345" rx="31" ry="32" transform="rotate(127 122 345)" fill="#2a1ed0" fill-opacity="0.77" stroke="#ff1024" stroke-opacity="0.90" stroke-width="15"/><ellipse cx="203" cy="355" rx="28" ry="35" transform="rotate(104 203 355)" fill="#2a1ed0" fill-opacity="0.77" stroke="#ff1024" stroke-opacity="0.90" stroke-width="24"/><ellipse cx="285" cy="345" rx="36" ry="34" transform="rotate(65 285 345)" fill="#2a1ed0" fill-opacity="0.72" stroke="#ff1024" stroke-opacity="0.85" stroke-width="18"/><ellipse cx="95" cy="436" rx="26" ry="27" transform="rotate(17 95 436)" fill="#2a1ed0" fill-opacity="0.68" stroke="#ff1024" stroke-opacity="0.80" stroke-width="20"/><ellipse cx="176" cy="455" rx="27" ry="27" transform="rotate(74 176 455)" fill="#2a1ed0" fill-opacity="0.72" stroke="#ff1024" stroke-opacity="0.85" stroke-width="18"/><ellipse cx="258" cy="427" rx="36" ry="34" transform="rotate(0 258 427)" fill="#2a1ed0" fill-opacity="0.77" stroke="#ff1024" stroke-opacity="0.90" stroke-width="17"/><ellipse cx="222" cy="536" rx="33" ry="24" transform="rotate(96 222 536)" fill="#2a1ed0" fill-opacity="0.68" stroke="#ff1024" stroke-opacity="0.80" stroke-width="24"/><ellipse cx="304" cy="500" rx="28" ry="25" transform="rotate(161 304 500)" fill="#2a1ed0" fill-opacity="0.68" stroke="#ff1024" stroke-opacity="0.80" stroke-width="17"/><ellipse cx="68" cy="45" rx="28" ry="25" transform="rotate(79 68 45)" fill="#2a1ed0" fill-opacity="0.51" stroke="#ff1024" stroke-opacity="0.60" stroke-width="18"/><ellipse cx="140" cy="55" rx="33" ry="31" transform="rotate(30 140 55)" fill="#2a1ed0" fill-opacity="0.55" stroke="#ff1024" stroke-opacity="0.65" stroke-width="16"/><ellipse cx="330" cy="80" rx="26" ry="20" transform="rotate(119 330 80)" fill="#2a1ed0" fill-opacity="0.42" stroke="#ff1024" stroke-opacity="0.50" stroke-width="22"/><ellipse cx="575" cy="330" rx="22" ry="25" transform="rotate(114 575 330)" fill="#2a1ed0" fill-opacity="0.59" stroke="#ff1024" stroke-opacity="0.70" stroke-width="20"/><ellipse cx="392" cy="445" rx="30" ry="26" fill="#ff1024"/><ellipse cx="530" cy="127" rx="26" ry="20" fill="#2418c0" fill-opacity="0.8" transform="rotate(0 530 127)"/><ellipse cx="486" cy="45" rx="24" ry="18" fill="#2418c0" fill-opacity="0.8" transform="rotate(20 486 45)"/><ellipse cx="40" cy="218" rx="22" ry="18" fill="#2418c0" fill-opacity="0.8" transform="rotate(0 40 218)"/><ellipse cx="560" cy="345" rx="22" ry="18" fill="#2418c0" fill-opacity="0.8" transform="rotate(0 560 345)"/><ellipse cx="450" cy="555" rx="26" ry="20" fill="#2418c0" fill-opacity="0.8" transform="rotate(-20 450 555)"/><ellipse cx="430" cy="330" rx="22" ry="18" fill="#2418c0" fill-opacity="0.8" transform="rotate(30 430 330)"/><ellipse cx="560" cy="480" rx="20" ry="16" fill="#2418c0" fill-opacity="0.8" transform="rotate(0 560 480)"/><ellipse cx="40" cy="560" rx="24" ry="18" fill="#2418c0" fill-opacity="0.8" transform="rotate(0 40 560)"/><path d="M330 470 L420 520 L560 560 M230 580 L330 598 M440 400 L500 340" stroke="#ff1024" stroke-opacity="0.85" stroke-width="14" stroke-linecap="round" fill="none"/></svg></g>
<rect x="585.2" y="468.8" width="118.4" height="118.0" fill="none" stroke="#fff" stroke-width="1.4"/>
<rect x="958.4000000000001" y="468.8" width="118.4" height="118.0" fill="#000"/>
<g filter="url(#insblur)"><svg x="959.4000000000001" y="469.8" width="116.4" height="116.0" viewBox="0 0 600 600" preserveAspectRatio="none"><circle cx="165" cy="245" r="30" fill="#2a22ff" stroke="#ff1020" stroke-width="20"/><circle cx="60" cy="130" r="28" fill="#2a22ff" stroke="#ff1020" stroke-width="20"/><circle cx="265" cy="540" r="22" fill="#2a22ff" stroke="#ff1020" stroke-width="20"/><ellipse cx="320" cy="110" rx="40" ry="22" fill="#1414ee" transform="rotate(-20 320 110)"/><ellipse cx="150" cy="130" rx="34" ry="22" fill="#1414ee" transform="rotate(-40 150 130)"/><ellipse cx="440" cy="100" rx="30" ry="22" fill="#1414ee" transform="rotate(30 440 100)"/><ellipse cx="110" cy="300" rx="40" ry="22" fill="#1414ee" transform="rotate(35 110 300)"/><ellipse cx="230" cy="330" rx="44" ry="20" fill="#1414ee" transform="rotate(35 230 330)"/><ellipse cx="410" cy="240" rx="38" ry="22" fill="#1414ee" transform="rotate(35 410 240)"/><ellipse cx="405" cy="360" rx="38" ry="24" fill="#1414ee" transform="rotate(20 405 360)"/><ellipse cx="490" cy="370" rx="26" ry="24" fill="#1414ee" transform="rotate(0 490 370)"/><ellipse cx="300" cy="450" rx="34" ry="24" fill="#1414ee" transform="rotate(40 300 450)"/><ellipse cx="100" cy="430" rx="40" ry="22" fill="#1414ee" transform="rotate(20 100 430)"/><ellipse cx="30" cy="520" rx="26" ry="40" fill="#1414ee" transform="rotate(0 30 520)"/><ellipse cx="420" cy="520" rx="40" ry="22" fill="#1414ee" transform="rotate(30 420 520)"/><ellipse cx="560" cy="540" rx="24" ry="30" fill="#1414ee" transform="rotate(0 560 540)"/><ellipse cx="180" cy="20" rx="30" ry="16" fill="#1414ee" transform="rotate(0 180 20)"/><ellipse cx="560" cy="250" rx="22" ry="18" fill="#1414ee" transform="rotate(0 560 250)"/><path d="M430 30 L470 80 L450 120 M490 260 L540 330 L520 400 L590 430 M270 400 L350 450 L370 480 M220 480 L260 530 L290 590 M250 80 L265 85 M330 235 L345 245 M585 130 L595 140 M20 30 L40 45" stroke="#ff1020" stroke-width="20" stroke-linecap="round" stroke-linejoin="round" fill="none"/></svg></g>
<rect x="958.4000000000001" y="468.8" width="118.4" height="118.0" fill="none" stroke="#fff" stroke-width="1.4"/>
<rect x="583.5" y="38.0" width="358.6" height="268.1" fill="none" stroke="#000" stroke-width="3.0"/>
<rect x="956.9" y="38.0" width="358.2" height="268.1" fill="none" stroke="#000" stroke-width="3.0"/>
<text x="891.00" y="282.50" font-size="25" text-anchor="middle">100 µm</text>
<rect x="865.4" y="293.0" width="50.7" height="4.2" fill="#000"/>
<text x="1264.00" y="282.50" font-size="25" text-anchor="middle">100 µm</text>
<rect x="1238.4" y="293.0" width="50.7" height="4.2" fill="#000"/>
<text x="891.20" y="565.40" font-size="25" text-anchor="middle" fill="#fff">100 µm</text>
<rect x="865.6" y="575.9" width="50.7" height="4.2" fill="#fff"/>
<text x="1264.20" y="565.40" font-size="25" text-anchor="middle" fill="#fff">100 µm</text>
<rect x="1238.6" y="575.9" width="50.7" height="4.2" fill="#fff"/>
</g>
<g id="plots">
<text x="1374.50" y="27.00" font-size="50">c</text>
<text transform="translate(1401.00 299.50) rotate(-90)" font-size="34" text-anchor="middle" xml:space="preserve">Area of  inflammation (%)</text>
<path d="M1510.88 100.24 V484.79 M1501.69 483.24 H1765.18 M1501.69 101.79 H1510.88 M1501.69 178.23 H1510.88 M1501.69 254.30 H1510.88 M1501.69 330.74 H1510.88 M1501.69 407.17 H1510.88 M1582.54 483.24 V492.43 M1691.68 483.24 V492.43" fill="none" stroke="#000" stroke-width="3.1"/>
<text x="1492.70" y="112.33" font-size="33.33" text-anchor="end">100</text>
<text x="1492.70" y="188.76" font-size="33.33" text-anchor="end">80</text>
<text x="1492.70" y="264.83" font-size="33.33" text-anchor="end">60</text>
<text x="1492.70" y="341.27" font-size="33.33" text-anchor="end">40</text>
<text x="1492.70" y="417.71" font-size="33.33" text-anchor="end">20</text>
<text x="1492.70" y="493.77" font-size="33.33" text-anchor="end">0</text>
<text x="1582.54" y="532.22" font-size="33.33" text-anchor="middle">WT</text>
<text x="1691.68" y="532.22" font-size="33.33" font-style="italic" text-anchor="middle">Angptl2<tspan font-size="19.43" dy="-11.10">-/-</tspan></text>
<path d="M1582.54 243.28 V235.19 H1691.68 V327.06" fill="none" stroke="#000" stroke-width="2.7"/>
<text x="1637.66" y="228.35" font-size="48" text-anchor="middle" font-weight="bold">***</text>
<path d="M1547.63 316.77 H1618.55 M1564.17 288.11 H1601.65 M1564.17 345.80 H1601.65 M1582.91 288.11 V345.80" fill="none" stroke="#7a81ff" stroke-width="2.9"/>
<g fill="#7a81ff"><circle cx="1583.28" cy="279.29" r="6.3"/><circle cx="1582.54" cy="311.26" r="6.3"/><circle cx="1596.14" cy="334.41" r="6.3"/><circle cx="1570.78" cy="343.60" r="6.3"/></g>
<path d="M1655.30 394.31 H1727.70 M1672.94 372.26 H1710.42 M1672.94 416.36 H1710.42 M1691.68 372.26 V416.36" fill="none" stroke="#ff2600" stroke-width="2.9"/>
<g fill="#ff2600"><circle cx="1691.68" cy="363.08" r="6.3"/><circle cx="1661.92" cy="380.35" r="6.3"/><circle cx="1691.68" cy="385.86" r="6.3"/><circle cx="1722.18" cy="385.12" r="6.3"/><circle cx="1691.68" cy="403.13" r="6.3"/><circle cx="1706.38" cy="420.04" r="6.3"/><circle cx="1676.62" cy="425.55" r="6.3"/></g>
<text x="-1.00" y="674.00" font-size="50">e</text>
<text transform="translate(25.00 931.50) rotate(-90)" font-size="34.2" text-anchor="middle">Cells (×10<tspan font-size="19.8" dy="-11.3">3</tspan><tspan dy="11.3">)/mg heart</tspan></text>
<path d="M115.50 734.65 V1117.50 M106.75 1115.95 H367.50 M106.75 736.20 H115.50 M106.75 811.80 H115.50 M106.75 888.10 H115.50 M106.75 964.40 H115.50 M106.75 1040.00 H115.50 M186.55 1115.95 V1125.05 M295.05 1115.95 V1125.05" fill="none" stroke="#000" stroke-width="3.1"/>
<text x="97.55" y="746.73" font-size="33.33" text-anchor="end">50</text>
<text x="97.55" y="822.33" font-size="33.33" text-anchor="end">40</text>
<text x="97.55" y="898.63" font-size="33.33" text-anchor="end">30</text>
<text x="97.55" y="974.93" font-size="33.33" text-anchor="end">20</text>
<text x="97.55" y="1050.53" font-size="33.33" text-anchor="end">10</text>
<text x="97.55" y="1126.48" font-size="33.33" text-anchor="end">0</text>
<text x="186.55" y="1167.20" font-size="33.33" text-anchor="middle">WT</text>
<text x="295.05" y="1167.20" font-size="33.33" font-style="italic" text-anchor="middle">Angptl2<tspan font-size="19.43" dy="-11.10">-/-</tspan></text>
<text x="242.20" y="674.25" font-size="34" text-anchor="middle">Leukocytes</text>
<path d="M186.55 804.45 V795.70 H295.75 V845.75" fill="none" stroke="#000" stroke-width="2.7"/>
<text x="241.15" y="789.56" font-size="48" text-anchor="middle" font-weight="bold">**</text>
<path d="M151.20 901.75 H222.95 M168.00 844.00 H205.80 M168.00 959.50 H205.80 M186.90 844.00 V959.50" fill="none" stroke="#7a81ff" stroke-width="2.9"/>
<g fill="#7a81ff"><circle cx="173.95" cy="844.70" r="6.3"/><circle cx="199.50" cy="840.50" r="6.3"/><circle cx="186.55" cy="895.45" r="6.3"/><circle cx="186.55" cy="908.05" r="6.3"/><circle cx="186.55" cy="924.50" r="6.3"/><circle cx="186.55" cy="997.30" r="6.3"/></g>
<path d="M259.00 1009.20 H331.45 M276.50 940.95 H314.30 M276.50 1077.80 H314.30 M295.40 940.95 V1077.80" fill="none" stroke="#ff2600" stroke-width="2.9"/>
<g fill="#ff2600"><circle cx="295.05" cy="881.10" r="6.3"/><circle cx="295.05" cy="944.45" r="6.3"/><circle cx="295.05" cy="972.45" r="6.3"/><circle cx="295.05" cy="994.50" r="6.3"/><circle cx="295.05" cy="1016.20" r="6.3"/><circle cx="308.00" cy="1055.05" r="6.3"/><circle cx="282.80" cy="1062.05" r="6.3"/><circle cx="308.00" cy="1073.95" r="6.3"/><circle cx="295.05" cy="1085.50" r="6.3"/></g>
<path d="M428.75 736.40 V1117.50 M419.30 1115.95 H679.70 M419.30 737.95 H428.75 M419.30 832.45 H428.75 M419.30 926.95 H428.75 M419.30 1021.45 H428.75 M499.45 1115.95 V1125.05 M607.25 1115.95 V1125.05" fill="none" stroke="#000" stroke-width="3.1"/>
<text x="410.10" y="748.48" font-size="33.33" text-anchor="end">4</text>
<text x="410.10" y="842.98" font-size="33.33" text-anchor="end">3</text>
<text x="410.10" y="937.48" font-size="33.33" text-anchor="end">2</text>
<text x="410.10" y="1031.98" font-size="33.33" text-anchor="end">1</text>
<text x="410.10" y="1126.48" font-size="33.33" text-anchor="end">0</text>
<text x="499.45" y="1167.20" font-size="33.33" text-anchor="middle">WT</text>
<text x="607.25" y="1167.20" font-size="33.33" font-style="italic" text-anchor="middle">Angptl2<tspan font-size="19.43" dy="-11.10">-/-</tspan></text>
<text x="553.35" y="674.25" font-size="34" text-anchor="middle">CD4 T</text>
<path d="M499.45 789.05 V781.70 H607.25 V923.80" fill="none" stroke="#000" stroke-width="2.7"/>
<text x="553.35" y="775.56" font-size="48" text-anchor="middle" font-weight="bold">****</text>
<path d="M463.05 885.30 H535.50 M480.20 839.45 H518.00 M480.20 931.50 H518.00 M499.10 839.45 V931.50" fill="none" stroke="#7a81ff" stroke-width="2.9"/>
<g fill="#7a81ff"><circle cx="499.45" cy="823.70" r="6.3"/><circle cx="487.20" cy="867.80" r="6.3"/><circle cx="511.35" cy="874.80" r="6.3"/><circle cx="487.20" cy="883.20" r="6.3"/><circle cx="499.45" cy="898.25" r="6.3"/><circle cx="499.45" cy="965.80" r="6.3"/></g>
<path d="M571.20 1037.90 H643.30 M588.00 990.30 H626.50 M588.00 1086.20 H626.50 M607.25 990.30 V1086.20" fill="none" stroke="#ff2600" stroke-width="2.9"/>
<g fill="#ff2600"><circle cx="607.25" cy="958.80" r="6.3"/><circle cx="591.50" cy="996.25" r="6.3"/><circle cx="621.95" cy="992.75" r="6.3"/><circle cx="591.50" cy="1033.00" r="6.3"/><circle cx="621.95" cy="1030.20" r="6.3"/><circle cx="607.25" cy="1070.80" r="6.3"/><circle cx="607.25" cy="1083.75" r="6.3"/><circle cx="577.50" cy="1087.95" r="6.3"/><circle cx="637.00" cy="1087.25" r="6.3"/></g>
<path d="M766.80 736.40 V1117.50 M757.70 1115.95 H1018.80 M757.70 737.95 H766.80 M757.70 863.95 H766.80 M757.70 989.95 H766.80 M837.50 1115.95 V1125.05 M946.00 1115.95 V1125.05" fill="none" stroke="#000" stroke-width="3.1"/>
<text x="749.55" y="748.48" font-size="33.33" text-anchor="end">1.5</text>
<text x="749.55" y="874.48" font-size="33.33" text-anchor="end">1.0</text>
<text x="749.55" y="1000.48" font-size="33.33" text-anchor="end">0.5</text>
<text x="749.55" y="1126.48" font-size="33.33" text-anchor="end">0.0</text>
<text x="837.50" y="1167.20" font-size="33.33" text-anchor="middle">WT</text>
<text x="946.00" y="1167.20" font-size="33.33" font-style="italic" text-anchor="middle">Angptl2<tspan font-size="19.43" dy="-11.10">-/-</tspan></text>
<text x="892.80" y="674.25" font-size="34" text-anchor="middle">CD8 T</text>
<path d="M838.20 819.50 V811.45 H946.35 V903.50" fill="none" stroke="#000" stroke-width="2.7"/>
<text x="892.45" y="805.31" font-size="48" text-anchor="middle" font-weight="bold">*</text>
<path d="M801.80 947.95 H874.25 M818.95 877.25 H857.10 M818.95 1018.30 H857.10 M838.03 877.25 V1018.30" fill="none" stroke="#7a81ff" stroke-width="2.9"/>
<g fill="#7a81ff"><circle cx="838.20" cy="854.50" r="6.3"/><circle cx="838.20" cy="891.25" r="6.3"/><circle cx="838.20" cy="920.30" r="6.3"/><circle cx="838.20" cy="967.55" r="6.3"/><circle cx="850.45" cy="1022.50" r="6.3"/><circle cx="826.30" cy="1028.45" r="6.3"/></g>
<path d="M909.95 1037.55 H982.05 M927.45 984.00 H965.25 M927.45 1091.45 H965.25 M946.35 984.00 V1091.45" fill="none" stroke="#ff2600" stroke-width="2.9"/>
<g fill="#ff2600"><circle cx="946.00" cy="939.20" r="6.3"/><circle cx="946.00" cy="979.80" r="6.3"/><circle cx="946.00" cy="1012.00" r="6.3"/><circle cx="916.25" cy="1028.45" r="6.3"/><circle cx="946.00" cy="1034.75" r="6.3"/><circle cx="975.75" cy="1075.00" r="6.3"/><circle cx="946.00" cy="1081.30" r="6.3"/><circle cx="916.25" cy="1092.50" r="6.3"/><circle cx="975.75" cy="1092.50" r="6.3"/></g>
<path d="M1094.05 736.40 V1117.50 M1084.95 1115.95 H1345.70 M1084.95 737.95 H1094.05 M1084.95 813.55 H1094.05 M1084.95 889.50 H1094.05 M1084.95 964.75 H1094.05 M1084.95 1040.70 H1094.05 M1164.75 1115.95 V1125.05 M1272.55 1115.95 V1125.05" fill="none" stroke="#000" stroke-width="3.1"/>
<text x="1076.80" y="748.48" font-size="33.33" text-anchor="end">10</text>
<text x="1076.80" y="824.08" font-size="33.33" text-anchor="end">8</text>
<text x="1076.80" y="900.03" font-size="33.33" text-anchor="end">6</text>
<text x="1076.80" y="975.28" font-size="33.33" text-anchor="end">4</text>
<text x="1076.80" y="1051.23" font-size="33.33" text-anchor="end">2</text>
<text x="1076.80" y="1126.48" font-size="33.33" text-anchor="end">0</text>
<text x="1164.75" y="1167.20" font-size="33.33" text-anchor="middle">WT</text>
<text x="1272.55" y="1167.20" font-size="33.33" font-style="italic" text-anchor="middle">Angptl2<tspan font-size="19.43" dy="-11.10">-/-</tspan></text>
<text x="1219.70" y="674.25" font-size="34" text-anchor="middle">DC</text>
<path d="M1164.75 790.45 V782.40 H1272.90 V887.75" fill="none" stroke="#000" stroke-width="2.7"/>
<text x="1219.00" y="775.56" font-size="48" text-anchor="middle" font-weight="bold">***</text>
<path d="M1129.05 881.80 H1201.50 M1146.20 828.95 H1184.00 M1146.20 935.00 H1184.00 M1165.10 828.95 V935.00" fill="none" stroke="#7a81ff" stroke-width="2.9"/>
<g fill="#7a81ff"><circle cx="1152.50" cy="828.25" r="6.3"/><circle cx="1177.00" cy="824.75" r="6.3"/><circle cx="1164.75" cy="872.70" r="6.3"/><circle cx="1152.50" cy="895.45" r="6.3"/><circle cx="1177.00" cy="902.45" r="6.3"/><circle cx="1164.75" cy="967.20" r="6.3"/></g>
<path d="M1236.50 1024.25 H1308.95 M1254.00 958.80 H1291.80 M1254.00 1088.30 H1291.80 M1272.90 958.80 V1088.30" fill="none" stroke="#ff2600" stroke-width="2.9"/>
<g fill="#ff2600"><circle cx="1257.50" cy="933.25" r="6.3"/><circle cx="1287.25" cy="922.75" r="6.3"/><circle cx="1242.80" cy="991.70" r="6.3"/><circle cx="1272.55" cy="996.95" r="6.3"/><circle cx="1272.55" cy="1047.70" r="6.3"/><circle cx="1242.80" cy="1073.25" r="6.3"/><circle cx="1272.55" cy="1076.75" r="6.3"/><circle cx="1302.30" cy="1080.25" r="6.3"/><circle cx="1242.80" cy="1091.45" r="6.3"/></g>
<path d="M1420.75 736.40 V1117.50 M1411.30 1115.95 H1672.75 M1411.30 737.95 H1420.75 M1411.30 813.55 H1420.75 M1411.30 889.50 H1420.75 M1411.30 964.75 H1420.75 M1411.30 1040.70 H1420.75 M1491.45 1115.95 V1125.05 M1599.95 1115.95 V1125.05" fill="none" stroke="#000" stroke-width="3.1"/>
<text x="1403.50" y="748.48" font-size="33.33" text-anchor="end">10</text>
<text x="1403.50" y="824.08" font-size="33.33" text-anchor="end">8</text>
<text x="1403.50" y="900.03" font-size="33.33" text-anchor="end">6</text>
<text x="1403.50" y="975.28" font-size="33.33" text-anchor="end">4</text>
<text x="1403.50" y="1051.23" font-size="33.33" text-anchor="end">2</text>
<text x="1403.50" y="1126.48" font-size="33.33" text-anchor="end">0</text>
<text x="1491.45" y="1167.20" font-size="33.33" text-anchor="middle">WT</text>
<text x="1599.95" y="1167.20" font-size="33.33" font-style="italic" text-anchor="middle">Angptl2<tspan font-size="19.43" dy="-11.10">-/-</tspan></text>
<text x="1547.45" y="674.25" font-size="34" text-anchor="middle">Mac</text>
<path d="M1491.45 777.50 V769.45 H1599.95 V889.50" fill="none" stroke="#000" stroke-width="2.7"/>
<text x="1546.05" y="761.56" font-size="48" text-anchor="middle" font-weight="bold">**</text>
<path d="M1455.75 905.95 H1528.20 M1473.25 845.75 H1511.05 M1473.25 965.45 H1511.05 M1492.15 845.75 V965.45" fill="none" stroke="#7a81ff" stroke-width="2.9"/>
<g fill="#7a81ff"><circle cx="1491.80" cy="812.50" r="6.3"/><circle cx="1462.05" cy="898.95" r="6.3"/><circle cx="1491.80" cy="891.95" r="6.3"/><circle cx="1522.25" cy="900.00" r="6.3"/><circle cx="1491.80" cy="937.80" r="6.3"/><circle cx="1491.80" cy="995.20" r="6.3"/></g>
<path d="M1563.55 1025.30 H1636.00 M1581.05 964.75 H1619.20 M1581.05 1085.50 H1619.20 M1600.12 964.75 V1085.50" fill="none" stroke="#ff2600" stroke-width="2.9"/>
<g fill="#ff2600"><circle cx="1599.95" cy="924.50" r="6.3"/><circle cx="1570.20" cy="977.70" r="6.3"/><circle cx="1629.70" cy="979.45" r="6.3"/><circle cx="1599.95" cy="988.55" r="6.3"/><circle cx="1599.95" cy="1035.80" r="6.3"/><circle cx="1599.95" cy="1054.00" r="6.3"/><circle cx="1599.95" cy="1082.70" r="6.3"/><circle cx="1570.20" cy="1096.70" r="6.3"/><circle cx="1629.70" cy="1089.00" r="6.3"/></g>
<path d="M1748.00 736.40 V1117.50 M1739.25 1115.95 H2000.70 M1739.25 737.95 H1748.00 M1739.25 863.95 H1748.00 M1739.25 989.95 H1748.00 M1819.05 1115.95 V1125.05 M1927.20 1115.95 V1125.05" fill="none" stroke="#000" stroke-width="3.1"/>
<text x="1731.10" y="748.48" font-size="33.33" text-anchor="end">15</text>
<text x="1731.10" y="874.48" font-size="33.33" text-anchor="end">10</text>
<text x="1731.10" y="1000.48" font-size="33.33" text-anchor="end">5</text>
<text x="1731.10" y="1126.48" font-size="33.33" text-anchor="end">0</text>
<text x="1819.05" y="1167.20" font-size="33.33" text-anchor="middle">WT</text>
<text x="1927.20" y="1167.20" font-size="33.33" font-style="italic" text-anchor="middle">Angptl2<tspan font-size="19.43" dy="-11.10">-/-</tspan></text>
<text x="1873.65" y="674.25" font-size="34" text-anchor="middle">Mono</text>
<path d="M1819.05 932.55 V828.25 H1927.20 V836.30" fill="none" stroke="#000" stroke-width="2.7"/>
<text x="1872.95" y="805.65" font-size="25" text-anchor="middle">ns</text>
<path d="M1783.00 1028.45 H1855.45 M1800.50 992.05 H1838.30 M1800.50 1065.55 H1838.30 M1819.40 992.05 V1065.55" fill="none" stroke="#7a81ff" stroke-width="2.9"/>
<g fill="#7a81ff"><circle cx="1819.05" cy="968.25" r="6.3"/><circle cx="1789.30" cy="1027.75" r="6.3"/><circle cx="1849.50" cy="1022.50" r="6.3"/><circle cx="1819.05" cy="1037.55" r="6.3"/><circle cx="1849.50" cy="1036.50" r="6.3"/><circle cx="1819.05" cy="1082.00" r="6.3"/></g>
<path d="M1891.50 1038.25 H1963.25 M1909.00 952.50 H1946.45 M1909.00 1115.95 H1946.45 M1927.72 952.50 V1115.95" fill="none" stroke="#ff2600" stroke-width="2.9"/>
<g fill="#ff2600"><circle cx="1927.20" cy="870.95" r="6.3"/><circle cx="1927.20" cy="938.50" r="6.3"/><circle cx="1927.20" cy="988.55" r="6.3"/><circle cx="1927.20" cy="1065.55" r="6.3"/><circle cx="1897.45" cy="1083.05" r="6.3"/><circle cx="1916.70" cy="1094.25" r="6.3"/><circle cx="1897.45" cy="1103.00" r="6.3"/><circle cx="1937.00" cy="1102.30" r="6.3"/><circle cx="1956.95" cy="1101.25" r="6.3"/></g>
<text x="792.50" y="1263.50" font-size="50">g</text>
<text transform="translate(819.00 1446.50) rotate(-90)" font-size="33.33" text-anchor="middle">FS (%)</text>
<path d="M908.65 1248.10 V1633.35 M899.99 1631.80 H1163.51 M899.99 1249.65 H908.65 M899.99 1345.18 H908.65 M899.99 1441.01 H908.65 M899.99 1536.26 H908.65 M981.09 1631.80 V1640.75 M1090.49 1631.80 V1640.75" fill="none" stroke="#000" stroke-width="3.1"/>
<text x="892.63" y="1260.18" font-size="33.33" text-anchor="end">40</text>
<text x="892.63" y="1355.72" font-size="33.33" text-anchor="end">30</text>
<text x="892.63" y="1451.54" font-size="33.33" text-anchor="end">20</text>
<text x="892.63" y="1546.79" font-size="33.33" text-anchor="end">10</text>
<text x="892.63" y="1642.33" font-size="33.33" text-anchor="end">0</text>
<text x="981.09" y="1678.89" font-size="33.33" text-anchor="middle">WT</text>
<text x="1090.49" y="1678.89" font-size="33.33" font-style="italic" text-anchor="middle">Angptl2<tspan font-size="19.43" dy="-11.10">-/-</tspan></text>
<path d="M981.09 1400.02 V1280.24 H1090.78 V1288.03" fill="none" stroke="#000" stroke-width="2.7"/>
<text x="1036.22" y="1274.51" font-size="48" text-anchor="middle" font-weight="bold">****</text>
<path d="M945.30 1475.65 H1017.75 M962.04 1451.98 H1000.43 M962.04 1498.74 H1000.43 M981.24 1451.98 V1498.74" fill="none" stroke="#7a81ff" stroke-width="2.9"/>
<g fill="#7a81ff"><circle cx="981.38" cy="1436.68" r="6.3"/><circle cx="969.26" cy="1478.53" r="6.3"/><circle cx="993.79" cy="1474.20" r="6.3"/><circle cx="969.26" cy="1495.85" r="6.3"/><circle cx="993.79" cy="1493.54" r="6.3"/></g>
<path d="M1054.41 1355.29 H1126.57 M1071.15 1332.19 H1109.83 M1071.15 1378.09 H1109.83 M1090.49 1332.19 V1378.09" fill="none" stroke="#ff2600" stroke-width="2.9"/>
<g fill="#ff2600"><circle cx="1090.49" cy="1324.11" r="6.3"/><circle cx="1060.18" cy="1347.20" r="6.3"/><circle cx="1090.49" cy="1346.63" r="6.3"/><circle cx="1120.79" cy="1355.86" r="6.3"/><circle cx="1090.49" cy="1363.66" r="6.3"/><circle cx="1090.49" cy="1393.96" r="6.3"/></g>
<text x="1221.00" y="1270.70" font-size="50">h</text>
<text transform="translate(1294.50 1445.50) rotate(-90)" font-size="33.33" text-anchor="middle">Heart weight/Body weight</text>
<text transform="translate(1329.00 1445.50) rotate(-90)" font-size="33.33" text-anchor="middle">(mg/g)</text>
<path d="M1398.38 1248.10 V1631.62 M1389.72 1630.07 H1652.09 M1389.72 1249.65 H1398.38 M1389.72 1325.56 H1398.38 M1389.72 1402.04 H1398.38 M1389.72 1477.96 H1398.38 M1389.72 1554.16 H1398.38 M1470.25 1630.07 V1639.30 M1579.35 1630.07 V1639.30" fill="none" stroke="#000" stroke-width="3.1"/>
<text x="1381.49" y="1260.18" font-size="33.33" text-anchor="end">10</text>
<text x="1381.49" y="1336.09" font-size="33.33" text-anchor="end">8</text>
<text x="1381.49" y="1412.58" font-size="33.33" text-anchor="end">6</text>
<text x="1381.49" y="1488.49" font-size="33.33" text-anchor="end">4</text>
<text x="1381.49" y="1564.69" font-size="33.33" text-anchor="end">2</text>
<text x="1381.49" y="1640.60" font-size="33.33" text-anchor="end">0</text>
<text x="1470.25" y="1677.45" font-size="33.33" text-anchor="middle">WT</text>
<text x="1579.35" y="1677.45" font-size="33.33" font-style="italic" text-anchor="middle">Angptl2<tspan font-size="19.43" dy="-11.10">-/-</tspan></text>
<path d="M1470.54 1295.25 V1291.50 H1579.64 V1404.35" fill="none" stroke="#000" stroke-width="2.7"/>
<text x="1525.09" y="1284.62" font-size="48" text-anchor="middle" font-weight="bold">*</text>
<path d="M1434.46 1370.01 H1506.61 M1451.49 1322.38 H1489.87 M1451.49 1418.21 H1489.87 M1470.68 1322.38 V1418.21" fill="none" stroke="#7a81ff" stroke-width="2.9"/>
<g fill="#7a81ff"><circle cx="1470.54" cy="1311.99" r="6.3"/><circle cx="1470.54" cy="1325.56" r="6.3"/><circle cx="1470.54" cy="1390.50" r="6.3"/><circle cx="1482.66" cy="1407.24" r="6.3"/><circle cx="1458.12" cy="1415.03" r="6.3"/></g>
<path d="M1543.27 1443.90 H1614.85 M1560.59 1429.46 H1598.11 M1560.59 1456.89 H1598.11 M1579.35 1429.46 V1456.89" fill="none" stroke="#ff2600" stroke-width="2.9"/>
<g fill="#ff2600"><circle cx="1579.35" cy="1421.38" r="6.3"/><circle cx="1549.04" cy="1440.14" r="6.3"/><circle cx="1609.66" cy="1440.14" r="6.3"/><circle cx="1579.35" cy="1446.78" r="6.3"/><circle cx="1549.04" cy="1456.89" r="6.3"/><circle cx="1609.66" cy="1456.89" r="6.3"/></g>
</g>
<g id="panel-f">
<text x="0.50" y="1272.30" font-size="50">f</text>
<text x="181.40" y="1321.60" font-size="33.33" text-anchor="middle">WT</text>
<text x="554.80" y="1321.60" font-size="33.33" font-style="italic" text-anchor="middle">Angptl2<tspan font-size="19.43" dy="-11.10">-/-</tspan></text>
<rect x="-0.2" y="1341.4" width="361.8" height="270.5" fill="#000"/>
<g clip-path="url(#clip_fwt)"><g filter="url(#echoW)"><rect x="-0.2" y="1341.4" width="361.8" height="270.5" fill="#111111"/><g filter="url(#echoBlur)"><path d="M-3.8 1341.4 -1.0 1341.4 1.9 1341.4 4.8 1341.4 7.6 1341.4 10.5 1341.4 13.3 1341.4 16.2 1341.4 19.0 1341.4 21.9 1341.4 24.7 1341.4 27.6 1341.4 30.4 1341.4 33.3 1341.4 36.1 1341.4 39.0 1341.4 41.8 1341.4 44.7 1341.4 47.5 1341.4 50.4 1341.4 53.2 1341.4 56.1 1341.4 58.9 1341.4 61.8 1341.4 64.6 1341.4 67.5 1341.4 70.3 1341.4 73.2 1341.4 76.0 1341.4 78.9 1341.4 81.7 1341.4 84.6 1341.4 87.4 1341.4 90.3 1341.4 93.1 1341.4 96.0 1341.4 98.8 1341.4 101.7 1341.4 104.5 1341.4 107.4 1341.4 110.2 1341.4 113.1 1341.4 115.9 1341.4 118.8 1341.4 121.6 1341.4 124.5 1341.4 127.3 1341.4 130.2 1341.4 133.0 1341.4 135.9 1341.4 138.7 1341.4 141.6 1341.4 144.4 1341.4 147.3 1341.4 150.1 1341.4 153.0 1341.4 155.8 1341.4 158.7 1341.4 161.5 1341.4 164.4 1341.4 167.2 1341.4 170.1 1341.4 172.9 1341.4 175.8 1341.4 178.6 1341.4 181.5 1341.4 184.3 1341.4 187.2 1341.4 190.0 1341.4 192.9 1341.4 195.7 1341.4 198.6 1341.4 201.4 1341.4 204.3 1341.4 207.1 1341.4 210.0 1341.4 212.8 1341.4 215.7 1341.4 218.5 1341.4 221.4 1341.4 224.2 1341.4 227.1 1341.4 229.9 1341.4 232.8 1341.4 235.6 1341.4 238.5 1341.4 241.3 1341.4 244.2 1341.4 247.0 1341.4 249.9 1341.4 252.7 1341.4 255.6 1341.4 258.4 1341.4 261.3 1341.4 264.1 1341.4 267.0 1341.4 269.8 1341.4 272.7 1341.4 275.5 1341.4 278.4 1341.4 281.2 1341.4 284.1 1341.4 286.9 1341.4 289.8 1341.4 292.6 1341.4 295.5 1341.4 298.3 1341.4 301.2 1341.4 304.0 1341.4 306.9 1341.4 309.7 1341.4 312.6 1341.4 315.4 1341.4 318.3 1341.4 321.1 1341.4 324.0 1341.4 326.8 1341.4 329.7 1341.4 332.5 1341.4 335.4 1341.4 338.2 1341.4 341.1 1341.4 343.9 1341.4 346.8 1341.4 349.6 1341.4 352.5 1341.4 355.3 1341.4 358.2 1341.4 361.0 1341.4 363.9 1341.4 366.7 1341.4 369.6 1341.4 372.4 1341.4 375.3 1341.4 378.1 1341.4 378.1 1363.3 375.3 1363.3 372.4 1363.3 369.6 1363.3 366.7 1363.3 363.9 1363.3 361.0 1363.3 358.2 1363.3 355.3 1363.3 352.5 1363.3 349.6 1363.3 346.8 1363.3 343.9 1363.3 341.1 1363.3 338.2 1363.3 335.4 1363.3 332.5 1363.3 329.7 1363.3 326.8 1363.3 324.0 1363.3 321.1 1363.3 318.3 1363.3 315.4 1363.3 312.6 1363.3 309.7 1363.3 306.9 1363.3 304.0 1363.3 301.2 1363.3 298.3 1363.3 295.5 1363.3 292.6 1363.3 289.8 1363.3 286.9 1363.3 284.1 1363.3 281.2 1363.3 278.4 1363.3 275.5 1363.3 272.7 1363.3 269.8 1363.3 267.0 1363.3 264.1 1363.3 261.3 1363.3 258.4 1363.3 255.6 1363.3 252.7 1363.3 249.9 1363.3 247.0 1363.3 244.2 1363.3 241.3 1363.3 238.5 1363.3 235.6 1363.3 232.8 1363.3 229.9 1363.3 227.1 1363.3 224.2 1363.3 221.4 1363.3 218.5 1363.3 215.7 1363.3 212.8 1363.3 210.0 1363.3 207.1 1363.3 204.3 1363.3 201.4 1363.3 198.6 1363.3 195.7 1363.3 192.9 1363.3 190.0 1363.3 187.2 1363.3 184.3 1363.3 181.5 1363.3 178.6 1363.3 175.8 1363.3 172.9 1363.3 170.1 1363.3 167.2 1363.3 164.4 1363.3 161.5 1363.3 158.7 1363.3 155.8 1363.3 153.0 1363.3 150.1 1363.3 147.3 1363.3 144.4 1363.3 141.6 1363.3 138.7 1363.3 135.9 1363.3 133.0 1363.3 130.2 1363.3 127.3 1363.3 124.5 1363.3 121.6 1363.3 118.8 1363.3 115.9 1363.3 113.1 1363.3 110.2 1363.3 107.4 1363.3 104.5 1363.3 101.7 1363.3 98.8 1363.3 96.0 1363.3 93.1 1363.3 90.3 1363.3 87.4 1363.3 84.6 1363.3 81.7 1363.3 78.9 1363.3 76.0 1363.3 73.2 1363.3 70.3 1363.3 67.5 1363.3 64.6 1363.3 61.8 1363.3 58.9 1363.3 56.1 1363.3 53.2 1363.3 50.4 1363.3 47.5 1363.3 44.7 1363.3 41.8 1363.3 39.0 1363.3 36.1 1363.3 33.3 1363.3 30.4 1363.3 27.6 1363.3 24.7 1363.3 21.9 1363.3 19.0 1363.3 16.2 1363.3 13.3 1363.3 10.5 1363.3 7.6 1363.3 4.8 1363.3 1.9 1363.3 -1.0 1363.3 -3.8 1363.3Z" fill="#575757"/><path d="M-3.8 1348.1 -1.0 1348.1 1.9 1348.1 4.8 1348.1 7.6 1348.1 10.5 1348.1 13.3 1348.1 16.2 1348.1 19.0 1348.1 21.9 1348.1 24.7 1348.1 27.6 1348.1 30.4 1348.1 33.3 1348.1 36.1 1348.1 39.0 1348.1 41.8 1348.1 44.7 1348.1 47.5 1348.1 50.4 1348.1 53.2 1348.1 56.1 1348.1 58.9 1348.1 61.8 1348.1 64.6 1348.1 67.5 1348.1 70.3 1348.1 73.2 1348.1 76.0 1348.1 78.9 1348.1 81.7 1348.1 84.6 1348.1 87.4 1348.1 90.3 1348.1 93.1 1348.1 96.0 1348.1 98.8 1348.1 101.7 1348.1 104.5 1348.1 107.4 1348.1 110.2 1348.1 113.1 1348.1 115.9 1348.1 118.8 1348.1 121.6 1348.1 124.5 1348.1 127.3 1348.1 130.2 1348.1 133.0 1348.1 135.9 1348.1 138.7 1348.1 141.6 1348.1 144.4 1348.1 147.3 1348.1 150.1 1348.1 153.0 1348.1 155.8 1348.1 158.7 1348.1 161.5 1348.1 164.4 1348.1 167.2 1348.1 170.1 1348.1 172.9 1348.1 175.8 1348.1 178.6 1348.1 181.5 1348.1 184.3 1348.1 187.2 1348.1 190.0 1348.1 192.9 1348.1 195.7 1348.1 198.6 1348.1 201.4 1348.1 204.3 1348.1 207.1 1348.1 210.0 1348.1 212.8 1348.1 215.7 1348.1 218.5 1348.1 221.4 1348.1 224.2 1348.1 227.1 1348.1 229.9 1348.1 232.8 1348.1 235.6 1348.1 238.5 1348.1 241.3 1348.1 244.2 1348.1 247.0 1348.1 249.9 1348.1 252.7 1348.1 255.6 1348.1 258.4 1348.1 261.3 1348.1 264.1 1348.1 267.0 1348.1 269.8 1348.1 272.7 1348.1 275.5 1348.1 278.4 1348.1 281.2 1348.1 284.1 1348.1 286.9 1348.1 289.8 1348.1 292.6 1348.1 295.5 1348.1 298.3 1348.1 301.2 1348.1 304.0 1348.1 306.9 1348.1 309.7 1348.1 312.6 1348.1 315.4 1348.1 318.3 1348.1 321.1 1348.1 324.0 1348.1 326.8 1348.1 329.7 1348.1 332.5 1348.1 335.4 1348.1 338.2 1348.1 341.1 1348.1 343.9 1348.1 346.8 1348.1 349.6 1348.1 352.5 1348.1 355.3 1348.1 358.2 1348.1 361.0 1348.1 363.9 1348.1 366.7 1348.1 369.6 1348.1 372.4 1348.1 375.3 1348.1 378.1 1348.1" fill="none" stroke="#1f1f1f" stroke-width="2.4" stroke-opacity="1.0"/><path d="M-3.8 1352.4 -1.0 1352.4 1.9 1352.4 4.8 1352.4 7.6 1352.4 10.5 1352.4 13.3 1352.4 16.2 1352.4 19.0 1352.4 21.9 1352.4 24.7 1352.4 27.6 1352.4 30.4 1352.4 33.3 1352.4 36.1 1352.4 39.0 1352.4 41.8 1352.4 44.7 1352.4 47.5 1352.4 50.4 1352.4 53.2 1352.4 56.1 1352.4 58.9 1352.4 61.8 1352.4 64.6 1352.4 67.5 1352.4 70.3 1352.4 73.2 1352.4 76.0 1352.4 78.9 1352.4 81.7 1352.4 84.6 1352.4 87.4 1352.4 90.3 1352.4 93.1 1352.4 96.0 1352.4 98.8 1352.4 101.7 1352.4 104.5 1352.4 107.4 1352.4 110.2 1352.4 113.1 1352.4 115.9 1352.4 118.8 1352.4 121.6 1352.4 124.5 1352.4 127.3 1352.4 130.2 1352.4 133.0 1352.4 135.9 1352.4 138.7 1352.4 141.6 1352.4 144.4 1352.4 147.3 1352.4 150.1 1352.4 153.0 1352.4 155.8 1352.4 158.7 1352.4 161.5 1352.4 164.4 1352.4 167.2 1352.4 170.1 1352.4 172.9 1352.4 175.8 1352.4 178.6 1352.4 181.5 1352.4 184.3 1352.4 187.2 1352.4 190.0 1352.4 192.9 1352.4 195.7 1352.4 198.6 1352.4 201.4 1352.4 204.3 1352.4 207.1 1352.4 210.0 1352.4 212.8 1352.4 215.7 1352.4 218.5 1352.4 221.4 1352.4 224.2 1352.4 227.1 1352.4 229.9 1352.4 232.8 1352.4 235.6 1352.4 238.5 1352.4 241.3 1352.4 244.2 1352.4 247.0 1352.4 249.9 1352.4 252.7 1352.4 255.6 1352.4 258.4 1352.4 261.3 1352.4 264.1 1352.4 267.0 1352.4 269.8 1352.4 272.7 1352.4 275.5 1352.4 278.4 1352.4 281.2 1352.4 284.1 1352.4 286.9 1352.4 289.8 1352.4 292.6 1352.4 295.5 1352.4 298.3 1352.4 301.2 1352.4 304.0 1352.4 306.9 1352.4 309.7 1352.4 312.6 1352.4 315.4 1352.4 318.3 1352.4 321.1 1352.4 324.0 1352.4 326.8 1352.4 329.7 1352.4 332.5 1352.4 335.4 1352.4 338.2 1352.4 341.1 1352.4 343.9 1352.4 346.8 1352.4 349.6 1352.4 352.5 1352.4 355.3 1352.4 358.2 1352.4 361.0 1352.4 363.9 1352.4 366.7 1352.4 369.6 1352.4 372.4 1352.4 375.3 1352.4 378.1 1352.4" fill="none" stroke="#808080" stroke-width="2.4" stroke-opacity="1.0"/><path d="M-3.8 1356.6 -1.0 1356.6 1.9 1356.6 4.8 1356.6 7.6 1356.6 10.5 1356.6 13.3 1356.6 16.2 1356.6 19.0 1356.6 21.9 1356.6 24.7 1356.6 27.6 1356.6 30.4 1356.6 33.3 1356.6 36.1 1356.6 39.0 1356.6 41.8 1356.6 44.7 1356.6 47.5 1356.6 50.4 1356.6 53.2 1356.6 56.1 1356.6 58.9 1356.6 61.8 1356.6 64.6 1356.6 67.5 1356.6 70.3 1356.6 73.2 1356.6 76.0 1356.6 78.9 1356.6 81.7 1356.6 84.6 1356.6 87.4 1356.6 90.3 1356.6 93.1 1356.6 96.0 1356.6 98.8 1356.6 101.7 1356.6 104.5 1356.6 107.4 1356.6 110.2 1356.6 113.1 1356.6 115.9 1356.6 118.8 1356.6 121.6 1356.6 124.5 1356.6 127.3 1356.6 130.2 1356.6 133.0 1356.6 135.9 1356.6 138.7 1356.6 141.6 1356.6 144.4 1356.6 147.3 1356.6 150.1 1356.6 153.0 1356.6 155.8 1356.6 158.7 1356.6 161.5 1356.6 164.4 1356.6 167.2 1356.6 170.1 1356.6 172.9 1356.6 175.8 1356.6 178.6 1356.6 181.5 1356.6 184.3 1356.6 187.2 1356.6 190.0 1356.6 192.9 1356.6 195.7 1356.6 198.6 1356.6 201.4 1356.6 204.3 1356.6 207.1 1356.6 210.0 1356.6 212.8 1356.6 215.7 1356.6 218.5 1356.6 221.4 1356.6 224.2 1356.6 227.1 1356.6 229.9 1356.6 232.8 1356.6 235.6 1356.6 238.5 1356.6 241.3 1356.6 244.2 1356.6 247.0 1356.6 249.9 1356.6 252.7 1356.6 255.6 1356.6 258.4 1356.6 261.3 1356.6 264.1 1356.6 267.0 1356.6 269.8 1356.6 272.7 1356.6 275.5 1356.6 278.4 1356.6 281.2 1356.6 284.1 1356.6 286.9 1356.6 289.8 1356.6 292.6 1356.6 295.5 1356.6 298.3 1356.6 301.2 1356.6 304.0 1356.6 306.9 1356.6 309.7 1356.6 312.6 1356.6 315.4 1356.6 318.3 1356.6 321.1 1356.6 324.0 1356.6 326.8 1356.6 329.7 1356.6 332.5 1356.6 335.4 1356.6 338.2 1356.6 341.1 1356.6 343.9 1356.6 346.8 1356.6 349.6 1356.6 352.5 1356.6 355.3 1356.6 358.2 1356.6 361.0 1356.6 363.9 1356.6 366.7 1356.6 369.6 1356.6 372.4 1356.6 375.3 1356.6 378.1 1356.6" fill="none" stroke="#242424" stroke-width="2.4" stroke-opacity="1.0"/><path d="M-3.8 1360.4 -1.0 1360.4 1.9 1360.4 4.8 1360.4 7.6 1360.4 10.5 1360.4 13.3 1360.4 16.2 1360.4 19.0 1360.4 21.9 1360.4 24.7 1360.4 27.6 1360.4 30.4 1360.4 33.3 1360.4 36.1 1360.4 39.0 1360.4 41.8 1360.4 44.7 1360.4 47.5 1360.4 50.4 1360.4 53.2 1360.4 56.1 1360.4 58.9 1360.4 61.8 1360.4 64.6 1360.4 67.5 1360.4 70.3 1360.4 73.2 1360.4 76.0 1360.4 78.9 1360.4 81.7 1360.4 84.6 1360.4 87.4 1360.4 90.3 1360.4 93.1 1360.4 96.0 1360.4 98.8 1360.4 101.7 1360.4 104.5 1360.4 107.4 1360.4 110.2 1360.4 113.1 1360.4 115.9 1360.4 118.8 1360.4 121.6 1360.4 124.5 1360.4 127.3 1360.4 130.2 1360.4 133.0 1360.4 135.9 1360.4 138.7 1360.4 141.6 1360.4 144.4 1360.4 147.3 1360.4 150.1 1360.4 153.0 1360.4 155.8 1360.4 158.7 1360.4 161.5 1360.4 164.4 1360.4 167.2 1360.4 170.1 1360.4 172.9 1360.4 175.8 1360.4 178.6 1360.4 181.5 1360.4 184.3 1360.4 187.2 1360.4 190.0 1360.4 192.9 1360.4 195.7 1360.4 198.6 1360.4 201.4 1360.4 204.3 1360.4 207.1 1360.4 210.0 1360.4 212.8 1360.4 215.7 1360.4 218.5 1360.4 221.4 1360.4 224.2 1360.4 227.1 1360.4 229.9 1360.4 232.8 1360.4 235.6 1360.4 238.5 1360.4 241.3 1360.4 244.2 1360.4 247.0 1360.4 249.9 1360.4 252.7 1360.4 255.6 1360.4 258.4 1360.4 261.3 1360.4 264.1 1360.4 267.0 1360.4 269.8 1360.4 272.7 1360.4 275.5 1360.4 278.4 1360.4 281.2 1360.4 284.1 1360.4 286.9 1360.4 289.8 1360.4 292.6 1360.4 295.5 1360.4 298.3 1360.4 301.2 1360.4 304.0 1360.4 306.9 1360.4 309.7 1360.4 312.6 1360.4 315.4 1360.4 318.3 1360.4 321.1 1360.4 324.0 1360.4 326.8 1360.4 329.7 1360.4 332.5 1360.4 335.4 1360.4 338.2 1360.4 341.1 1360.4 343.9 1360.4 346.8 1360.4 349.6 1360.4 352.5 1360.4 355.3 1360.4 358.2 1360.4 361.0 1360.4 363.9 1360.4 366.7 1360.4 369.6 1360.4 372.4 1360.4 375.3 1360.4 378.1 1360.4" fill="none" stroke="#4c4c4c" stroke-width="2.4" stroke-opacity="1.0"/><path d="M-3.8 1362.3 -1.0 1362.3 1.9 1362.3 4.8 1362.3 7.6 1362.3 10.5 1362.3 13.3 1362.3 16.2 1362.3 19.0 1362.3 21.9 1362.3 24.7 1362.3 27.6 1362.3 30.4 1362.3 33.3 1362.3 36.1 1362.3 39.0 1362.3 41.8 1362.3 44.7 1362.3 47.5 1362.3 50.4 1362.3 53.2 1362.3 56.1 1362.3 58.9 1362.3 61.8 1362.3 64.6 1362.3 67.5 1362.3 70.3 1362.3 73.2 1362.3 76.0 1362.3 78.9 1362.3 81.7 1362.3 84.6 1362.3 87.4 1362.3 90.3 1362.3 93.1 1362.3 96.0 1362.3 98.8 1362.3 101.7 1362.3 104.5 1362.3 107.4 1362.3 110.2 1362.3 113.1 1362.3 115.9 1362.3 118.8 1362.3 121.6 1362.3 124.5 1362.3 127.3 1362.3 130.2 1362.3 133.0 1362.3 135.9 1362.3 138.7 1362.3 141.6 1362.3 144.4 1362.3 147.3 1362.3 150.1 1362.3 153.0 1362.3 155.8 1362.3 158.7 1362.3 161.5 1362.3 164.4 1362.3 167.2 1362.3 170.1 1362.3 172.9 1362.3 175.8 1362.3 178.6 1362.3 181.5 1362.3 184.3 1362.3 187.2 1362.3 190.0 1362.3 192.9 1362.3 195.7 1362.3 198.6 1362.3 201.4 1362.3 204.3 1362.3 207.1 1362.3 210.0 1362.3 212.8 1362.3 215.7 1362.3 218.5 1362.3 221.4 1362.3 224.2 1362.3 227.1 1362.3 229.9 1362.3 232.8 1362.3 235.6 1362.3 238.5 1362.3 241.3 1362.3 244.2 1362.3 247.0 1362.3 249.9 1362.3 252.7 1362.3 255.6 1362.3 258.4 1362.3 261.3 1362.3 264.1 1362.3 267.0 1362.3 269.8 1362.3 272.7 1362.3 275.5 1362.3 278.4 1362.3 281.2 1362.3 284.1 1362.3 286.9 1362.3 289.8 1362.3 292.6 1362.3 295.5 1362.3 298.3 1362.3 301.2 1362.3 304.0 1362.3 306.9 1362.3 309.7 1362.3 312.6 1362.3 315.4 1362.3 318.3 1362.3 321.1 1362.3 324.0 1362.3 326.8 1362.3 329.7 1362.3 332.5 1362.3 335.4 1362.3 338.2 1362.3 341.1 1362.3 343.9 1362.3 346.8 1362.3 349.6 1362.3 352.5 1362.3 355.3 1362.3 358.2 1362.3 361.0 1362.3 363.9 1362.3 366.7 1362.3 369.6 1362.3 372.4 1362.3 375.3 1362.3 378.1 1362.3 378.1 1374.1 375.3 1374.1 372.4 1374.1 369.6 1374.1 366.7 1374.1 363.9 1374.1 361.0 1374.1 358.2 1374.1 355.3 1374.1 352.5 1374.1 349.6 1374.1 346.8 1374.1 343.9 1374.1 341.1 1374.1 338.2 1374.1 335.4 1374.1 332.5 1374.1 329.7 1374.1 326.8 1374.1 324.0 1374.1 321.1 1374.1 318.3 1374.1 315.4 1374.1 312.6 1374.1 309.7 1374.1 306.9 1374.1 304.0 1374.1 301.2 1374.1 298.3 1374.1 295.5 1374.1 292.6 1374.1 289.8 1374.1 286.9 1374.1 284.1 1374.1 281.2 1374.1 278.4 1374.1 275.5 1374.1 272.7 1374.1 269.8 1374.1 267.0 1374.1 264.1 1374.1 261.3 1374.1 258.4 1374.1 255.6 1374.1 252.7 1374.1 249.9 1374.1 247.0 1374.1 244.2 1374.1 241.3 1374.1 238.5 1374.1 235.6 1374.1 232.8 1374.1 229.9 1374.1 227.1 1374.1 224.2 1374.1 221.4 1374.1 218.5 1374.1 215.7 1374.1 212.8 1374.1 210.0 1374.1 207.1 1374.1 204.3 1374.1 201.4 1374.1 198.6 1374.1 195.7 1374.1 192.9 1374.1 190.0 1374.1 187.2 1374.1 184.3 1374.1 181.5 1374.1 178.6 1374.1 175.8 1374.1 172.9 1374.1 170.1 1374.1 167.2 1374.1 164.4 1374.1 161.5 1374.1 158.7 1374.1 155.8 1374.1 153.0 1374.1 150.1 1374.1 147.3 1374.1 144.4 1374.1 141.6 1374.1 138.7 1374.1 135.9 1374.1 133.0 1374.1 130.2 1374.1 127.3 1374.1 124.5 1374.1 121.6 1374.1 118.8 1374.1 115.9 1374.1 113.1 1374.1 110.2 1374.1 107.4 1374.1 104.5 1374.1 101.7 1374.1 98.8 1374.1 96.0 1374.1 93.1 1374.1 90.3 1374.1 87.4 1374.1 84.6 1374.1 81.7 1374.1 78.9 1374.1 76.0 1374.1 73.2 1374.1 70.3 1374.1 67.5 1374.1 64.6 1374.1 61.8 1374.1 58.9 1374.1 56.1 1374.1 53.2 1374.1 50.4 1374.1 47.5 1374.1 44.7 1374.1 41.8 1374.1 39.0 1374.1 36.1 1374.1 33.3 1374.1 30.4 1374.1 27.6 1374.1 24.7 1374.1 21.9 1374.1 19.0 1374.1 16.2 1374.1 13.3 1374.1 10.5 1374.1 7.6 1374.1 4.8 1374.1 1.9 1374.1 -1.0 1374.1 -3.8 1374.1Z" fill="#e0e0e0"/><path d="M-3.8 1374.1 -1.0 1374.1 1.9 1374.1 4.8 1374.1 7.6 1374.1 10.5 1374.1 13.3 1374.1 16.2 1374.1 19.0 1374.1 21.9 1374.1 24.7 1374.1 27.6 1374.1 30.4 1374.1 33.3 1374.1 36.1 1374.1 39.0 1374.1 41.8 1374.1 44.7 1374.1 47.5 1374.1 50.4 1374.1 53.2 1374.1 56.1 1374.1 58.9 1374.1 61.8 1374.1 64.6 1374.1 67.5 1374.1 70.3 1374.1 73.2 1374.1 76.0 1374.1 78.9 1374.1 81.7 1374.1 84.6 1374.1 87.4 1374.1 90.3 1374.1 93.1 1374.1 96.0 1374.1 98.8 1374.1 101.7 1374.1 104.5 1374.1 107.4 1374.1 110.2 1374.1 113.1 1374.1 115.9 1374.1 118.8 1374.1 121.6 1374.1 124.5 1374.1 127.3 1374.1 130.2 1374.1 133.0 1374.1 135.9 1374.1 138.7 1374.1 141.6 1374.1 144.4 1374.1 147.3 1374.1 150.1 1374.1 153.0 1374.1 155.8 1374.1 158.7 1374.1 161.5 1374.1 164.4 1374.1 167.2 1374.1 170.1 1374.1 172.9 1374.1 175.8 1374.1 178.6 1374.1 181.5 1374.1 184.3 1374.1 187.2 1374.1 190.0 1374.1 192.9 1374.1 195.7 1374.1 198.6 1374.1 201.4 1374.1 204.3 1374.1 207.1 1374.1 210.0 1374.1 212.8 1374.1 215.7 1374.1 218.5 1374.1 221.4 1374.1 224.2 1374.1 227.1 1374.1 229.9 1374.1 232.8 1374.1 235.6 1374.1 238.5 1374.1 241.3 1374.1 244.2 1374.1 247.0 1374.1 249.9 1374.1 252.7 1374.1 255.6 1374.1 258.4 1374.1 261.3 1374.1 264.1 1374.1 267.0 1374.1 269.8 1374.1 272.7 1374.1 275.5 1374.1 278.4 1374.1 281.2 1374.1 284.1 1374.1 286.9 1374.1 289.8 1374.1 292.6 1374.1 295.5 1374.1 298.3 1374.1 301.2 1374.1 304.0 1374.1 306.9 1374.1 309.7 1374.1 312.6 1374.1 315.4 1374.1 318.3 1374.1 321.1 1374.1 324.0 1374.1 326.8 1374.1 329.7 1374.1 332.5 1374.1 335.4 1374.1 338.2 1374.1 341.1 1374.1 343.9 1374.1 346.8 1374.1 349.6 1374.1 352.5 1374.1 355.3 1374.1 358.2 1374.1 361.0 1374.1 363.9 1374.1 366.7 1374.1 369.6 1374.1 372.4 1374.1 375.3 1374.1 378.1 1374.1 378.1 1407.3 375.3 1406.3 372.4 1406.5 369.6 1407.2 366.7 1407.9 363.9 1408.6 361.0 1409.3 358.2 1410.0 355.3 1410.8 352.5 1411.5 349.6 1412.2 346.8 1412.9 343.9 1413.6 341.1 1414.7 338.2 1415.9 335.4 1415.9 332.5 1415.9 329.7 1415.9 326.8 1415.9 324.0 1415.9 321.1 1410.0 318.3 1409.0 315.4 1408.0 312.6 1407.0 309.7 1406.0 306.9 1406.7 304.0 1407.4 301.2 1408.1 298.3 1408.9 295.5 1409.6 292.6 1410.3 289.8 1411.0 286.9 1411.7 284.1 1412.4 281.2 1413.1 278.4 1414.0 275.5 1415.1 272.7 1415.9 269.8 1415.9 267.0 1415.9 264.1 1415.9 261.3 1415.9 258.4 1415.9 255.6 1409.6 252.7 1408.6 249.9 1407.6 247.0 1406.7 244.2 1406.2 241.3 1407.0 238.5 1407.7 235.6 1408.4 232.8 1409.1 229.9 1409.8 227.1 1410.5 224.2 1411.2 221.4 1411.9 218.5 1412.7 215.7 1413.4 212.8 1414.4 210.0 1415.5 207.1 1415.9 204.3 1415.9 201.4 1415.9 198.6 1415.9 195.7 1415.9 192.9 1410.3 190.0 1409.3 187.2 1408.3 184.3 1407.3 181.5 1406.3 178.6 1406.5 175.8 1407.2 172.9 1407.9 170.1 1408.6 167.2 1409.3 164.4 1410.0 161.5 1410.8 158.7 1411.5 155.8 1412.2 153.0 1412.9 150.1 1413.6 147.3 1414.7 144.4 1415.9 141.6 1415.9 138.7 1415.9 135.9 1415.9 133.0 1415.9 130.2 1415.9 127.3 1410.0 124.5 1409.0 121.6 1408.0 118.8 1407.0 115.9 1406.0 113.1 1406.7 110.2 1407.4 107.4 1408.1 104.5 1408.9 101.7 1409.6 98.8 1410.3 96.0 1411.0 93.1 1411.7 90.3 1412.4 87.4 1413.1 84.6 1414.0 81.7 1415.1 78.9 1415.9 76.0 1415.9 73.2 1415.9 70.3 1415.9 67.5 1415.9 64.6 1415.9 61.8 1409.6 58.9 1408.6 56.1 1407.6 53.2 1406.7 50.4 1406.2 47.5 1407.0 44.7 1407.7 41.8 1408.4 39.0 1409.1 36.1 1409.8 33.3 1410.5 30.4 1411.2 27.6 1411.9 24.7 1412.7 21.9 1413.4 19.0 1414.4 16.2 1415.5 13.3 1415.9 10.5 1415.9 7.6 1415.9 4.8 1415.9 1.9 1415.9 -1.0 1410.3 -3.8 1409.3Z" fill="#5c5c5c"/><path d="M-3.8 1406.6 -1.0 1407.6 1.9 1413.2 4.8 1413.2 7.6 1413.2 10.5 1413.2 13.3 1413.2 16.2 1412.8 19.0 1411.7 21.9 1410.7 24.7 1410.0 27.6 1409.3 30.4 1408.6 33.3 1407.9 36.1 1407.1 39.0 1406.4 41.8 1405.7 44.7 1405.0 47.5 1404.3 50.4 1403.6 53.2 1404.0 56.1 1405.0 58.9 1406.0 61.8 1407.0 64.6 1413.2 67.5 1413.2 70.3 1413.2 73.2 1413.2 76.0 1413.2 78.9 1413.2 81.7 1412.5 84.6 1411.3 87.4 1410.5 90.3 1409.8 93.1 1409.0 96.0 1408.3 98.8 1407.6 101.7 1406.9 104.5 1406.2 107.4 1405.5 110.2 1404.8 113.1 1404.1 115.9 1403.3 118.8 1404.3 121.6 1405.3 124.5 1406.3 127.3 1407.3 130.2 1413.2 133.0 1413.2 135.9 1413.2 138.7 1413.2 141.6 1413.2 144.4 1413.2 147.3 1412.1 150.1 1410.9 153.0 1410.2 155.8 1409.5 158.7 1408.8 161.5 1408.1 164.4 1407.4 167.2 1406.7 170.1 1406.0 172.9 1405.2 175.8 1404.5 178.6 1403.8 181.5 1403.7 184.3 1404.7 187.2 1405.6 190.0 1406.6 192.9 1407.6 195.7 1413.2 198.6 1413.2 201.4 1413.2 204.3 1413.2 207.1 1413.2 210.0 1412.8 212.8 1411.7 215.7 1410.7 218.5 1410.0 221.4 1409.3 224.2 1408.6 227.1 1407.9 229.9 1407.1 232.8 1406.4 235.6 1405.7 238.5 1405.0 241.3 1404.3 244.2 1403.6 247.0 1404.0 249.9 1405.0 252.7 1406.0 255.6 1407.0 258.4 1413.2 261.3 1413.2 264.1 1413.2 267.0 1413.2 269.8 1413.2 272.7 1413.2 275.5 1412.5 278.4 1411.3 281.2 1410.5 284.1 1409.8 286.9 1409.0 289.8 1408.3 292.6 1407.6 295.5 1406.9 298.3 1406.2 301.2 1405.5 304.0 1404.8 306.9 1404.1 309.7 1403.3 312.6 1404.3 315.4 1405.3 318.3 1406.3 321.1 1407.3 324.0 1413.2 326.8 1413.2 329.7 1413.2 332.5 1413.2 335.4 1413.2 338.2 1413.2 341.1 1412.1 343.9 1410.9 346.8 1410.2 349.6 1409.5 352.5 1408.8 355.3 1408.1 358.2 1407.4 361.0 1406.7 363.9 1406.0 366.7 1405.2 369.6 1404.5 372.4 1403.8 375.3 1403.7 378.1 1404.7" fill="none" stroke="#8c8c8c" stroke-width="2.0" stroke-opacity="1.0"/><path d="M-3.8 1387.0 -1.0 1387.0 1.9 1387.0 4.8 1387.0 7.6 1387.0 10.5 1387.0 13.3 1387.0 16.2 1387.0 19.0 1387.0 21.9 1387.0 24.7 1387.0 27.6 1387.0 30.4 1387.0 33.3 1387.0 36.1 1387.0 39.0 1387.0 41.8 1387.0 44.7 1387.0 47.5 1387.0 50.4 1387.0 53.2 1387.0 56.1 1387.0 58.9 1387.0 61.8 1387.0 64.6 1387.0 67.5 1387.0 70.3 1387.0 73.2 1387.0 76.0 1387.0 78.9 1387.0 81.7 1387.0 84.6 1387.0 87.4 1387.0 90.3 1387.0 93.1 1387.0 96.0 1387.0 98.8 1387.0 101.7 1387.0 104.5 1387.0 107.4 1387.0 110.2 1387.0 113.1 1387.0 115.9 1387.0 118.8 1387.0 121.6 1387.0 124.5 1387.0 127.3 1387.0 130.2 1387.0 133.0 1387.0 135.9 1387.0 138.7 1387.0 141.6 1387.0 144.4 1387.0 147.3 1387.0 150.1 1387.0 153.0 1387.0 155.8 1387.0 158.7 1387.0 161.5 1387.0 164.4 1387.0 167.2 1387.0 170.1 1387.0 172.9 1387.0 175.8 1387.0 178.6 1387.0 181.5 1387.0 184.3 1387.0 187.2 1387.0 190.0 1387.0 192.9 1387.0 195.7 1387.0 198.6 1387.0 201.4 1387.0 204.3 1387.0 207.1 1387.0 210.0 1387.0 212.8 1387.0 215.7 1387.0 218.5 1387.0 221.4 1387.0 224.2 1387.0 227.1 1387.0 229.9 1387.0 232.8 1387.0 235.6 1387.0 238.5 1387.0 241.3 1387.0 244.2 1387.0 247.0 1387.0 249.9 1387.0 252.7 1387.0 255.6 1387.0 258.4 1387.0 261.3 1387.0 264.1 1387.0 267.0 1387.0 269.8 1387.0 272.7 1387.0 275.5 1387.0 278.4 1387.0 281.2 1387.0 284.1 1387.0 286.9 1387.0 289.8 1387.0 292.6 1387.0 295.5 1387.0 298.3 1387.0 301.2 1387.0 304.0 1387.0 306.9 1387.0 309.7 1387.0 312.6 1387.0 315.4 1387.0 318.3 1387.0 321.1 1387.0 324.0 1387.0 326.8 1387.0 329.7 1387.0 332.5 1387.0 335.4 1387.0 338.2 1387.0 341.1 1387.0 343.9 1387.0 346.8 1387.0 349.6 1387.0 352.5 1387.0 355.3 1387.0 358.2 1387.0 361.0 1387.0 363.9 1387.0 366.7 1387.0 369.6 1387.0 372.4 1387.0 375.3 1387.0 378.1 1387.0" fill="none" stroke="#808080" stroke-width="3.0" stroke-opacity="0.6"/><path d="M15.0 1345 V1404 M47.5 1345 V1404 M80.0 1345 V1404 M112.5 1345 V1404 M145.0 1345 V1404 M177.5 1345 V1404 M210.0 1345 V1404 M242.5 1345 V1404 M275.0 1345 V1404 M307.5 1345 V1404 M340.0 1345 V1404 M372.5 1345 V1404 " stroke="#000" stroke-opacity="0.4" stroke-width="2" fill="none"/><path d="M15.0 1548 V1608 M47.5 1548 V1608 M80.0 1548 V1608 M112.5 1548 V1608 M145.0 1548 V1608 M177.5 1548 V1608 M210.0 1548 V1608 M242.5 1548 V1608 M275.0 1548 V1608 M307.5 1548 V1608 M340.0 1548 V1608 M372.5 1548 V1608 " stroke="#000" stroke-opacity="0.25" stroke-width="2" fill="none"/><path d="M-3.8 1535.9 -1.0 1534.2 1.9 1530.3 4.8 1530.3 7.6 1530.6 10.5 1531.2 13.3 1531.8 16.2 1532.4 19.0 1532.9 21.9 1533.8 24.7 1534.6 27.6 1535.4 30.4 1536.2 33.3 1537.1 36.1 1537.9 39.0 1538.7 41.8 1539.6 44.7 1540.4 47.5 1541.2 50.4 1542.0 53.2 1540.4 56.1 1538.7 58.9 1537.0 61.8 1535.3 64.6 1530.3 67.5 1530.3 70.3 1530.3 73.2 1530.8 76.0 1531.4 78.9 1532.0 81.7 1532.5 84.6 1533.2 87.4 1534.0 90.3 1534.9 93.1 1535.7 96.0 1536.5 98.8 1537.3 101.7 1538.2 104.5 1539.0 107.4 1539.8 110.2 1540.7 113.1 1541.5 115.9 1541.5 118.8 1539.8 121.6 1538.1 124.5 1536.4 127.3 1534.8 130.2 1530.3 133.0 1530.3 135.9 1530.5 138.7 1531.0 141.6 1531.6 144.4 1532.2 147.3 1532.7 150.1 1533.5 153.0 1534.3 155.8 1535.1 158.7 1536.0 161.5 1536.8 164.4 1537.6 167.2 1538.5 170.1 1539.3 172.9 1540.1 175.8 1540.9 178.6 1541.8 181.5 1540.9 184.3 1539.2 187.2 1537.6 190.0 1535.9 192.9 1534.2 195.7 1530.3 198.6 1530.3 201.4 1530.6 204.3 1531.2 207.1 1531.8 210.0 1532.4 212.8 1532.9 215.7 1533.8 218.5 1534.6 221.4 1535.4 224.2 1536.2 227.1 1537.1 229.9 1537.9 232.8 1538.7 235.6 1539.6 238.5 1540.4 241.3 1541.2 244.2 1542.0 247.0 1540.4 249.9 1538.7 252.7 1537.0 255.6 1535.3 258.4 1530.3 261.3 1530.3 264.1 1530.3 267.0 1530.8 269.8 1531.4 272.7 1532.0 275.5 1532.5 278.4 1533.2 281.2 1534.0 284.1 1534.9 286.9 1535.7 289.8 1536.5 292.6 1537.3 295.5 1538.2 298.3 1539.0 301.2 1539.8 304.0 1540.7 306.9 1541.5 309.7 1541.5 312.6 1539.8 315.4 1538.1 318.3 1536.4 321.1 1534.8 324.0 1530.3 326.8 1530.3 329.7 1530.5 332.5 1531.0 335.4 1531.6 338.2 1532.2 341.1 1532.7 343.9 1533.5 346.8 1534.3 349.6 1535.1 352.5 1536.0 355.3 1536.8 358.2 1537.6 361.0 1538.5 363.9 1539.3 366.7 1540.1 369.6 1540.9 372.4 1541.8 375.3 1540.9 378.1 1539.2 378.1 1556.0 375.3 1555.6 372.4 1555.2 369.6 1554.8 366.7 1554.4 363.9 1554.1 361.0 1553.9 358.2 1553.8 355.3 1553.9 352.5 1554.0 349.6 1554.2 346.8 1554.5 343.9 1554.9 341.1 1555.3 338.2 1555.8 335.4 1556.1 332.5 1556.5 329.7 1556.7 326.8 1556.8 324.0 1556.9 321.1 1556.8 318.3 1556.6 315.4 1556.3 312.6 1555.9 309.7 1555.5 306.9 1555.1 304.0 1554.7 301.2 1554.3 298.3 1554.1 295.5 1553.9 292.6 1553.8 289.8 1553.9 286.9 1554.1 284.1 1554.3 281.2 1554.7 278.4 1555.1 275.5 1555.5 272.7 1555.9 269.8 1556.3 267.0 1556.6 264.1 1556.8 261.3 1556.9 258.4 1556.8 255.6 1556.7 252.7 1556.5 249.9 1556.1 247.0 1555.8 244.2 1555.3 241.3 1554.9 238.5 1554.5 235.6 1554.2 232.8 1554.0 229.9 1553.9 227.1 1553.8 224.2 1553.9 221.4 1554.1 218.5 1554.4 215.7 1554.8 212.8 1555.2 210.0 1555.6 207.1 1556.0 204.3 1556.4 201.4 1556.6 198.6 1556.8 195.7 1556.9 192.9 1556.8 190.0 1556.6 187.2 1556.4 184.3 1556.0 181.5 1555.6 178.6 1555.2 175.8 1554.8 172.9 1554.4 170.1 1554.1 167.2 1553.9 164.4 1553.8 161.5 1553.9 158.7 1554.0 155.8 1554.2 153.0 1554.5 150.1 1554.9 147.3 1555.3 144.4 1555.8 141.6 1556.1 138.7 1556.5 135.9 1556.7 133.0 1556.8 130.2 1556.9 127.3 1556.8 124.5 1556.6 121.6 1556.3 118.8 1555.9 115.9 1555.5 113.1 1555.1 110.2 1554.7 107.4 1554.3 104.5 1554.1 101.7 1553.9 98.8 1553.8 96.0 1553.9 93.1 1554.1 90.3 1554.3 87.4 1554.7 84.6 1555.1 81.7 1555.5 78.9 1555.9 76.0 1556.3 73.2 1556.6 70.3 1556.8 67.5 1556.9 64.6 1556.8 61.8 1556.7 58.9 1556.5 56.1 1556.1 53.2 1555.8 50.4 1555.3 47.5 1554.9 44.7 1554.5 41.8 1554.2 39.0 1554.0 36.1 1553.9 33.3 1553.8 30.4 1553.9 27.6 1554.1 24.7 1554.4 21.9 1554.8 19.0 1555.2 16.2 1555.6 13.3 1556.0 10.5 1556.4 7.6 1556.6 4.8 1556.8 1.9 1556.9 -1.0 1556.8 -3.8 1556.6Z" fill="#333333"/><path d="M-3.8 1539.7 -1.0 1538.0 1.9 1534.1 4.8 1534.1 7.6 1534.4 10.5 1535.0 13.3 1535.6 16.2 1536.2 19.0 1536.7 21.9 1537.6 24.7 1538.4 27.6 1539.2 30.4 1540.0 33.3 1540.9 36.1 1541.7 39.0 1542.5 41.8 1543.4 44.7 1544.2 47.5 1545.0 50.4 1545.8 53.2 1544.2 56.1 1542.5 58.9 1540.8 61.8 1539.1 64.6 1534.1 67.5 1534.1 70.3 1534.1 73.2 1534.6 76.0 1535.2 78.9 1535.8 81.7 1536.3 84.6 1537.0 87.4 1537.8 90.3 1538.7 93.1 1539.5 96.0 1540.3 98.8 1541.1 101.7 1542.0 104.5 1542.8 107.4 1543.6 110.2 1544.5 113.1 1545.3 115.9 1545.3 118.8 1543.6 121.6 1541.9 124.5 1540.2 127.3 1538.6 130.2 1534.1 133.0 1534.1 135.9 1534.3 138.7 1534.8 141.6 1535.4 144.4 1536.0 147.3 1536.5 150.1 1537.3 153.0 1538.1 155.8 1538.9 158.7 1539.8 161.5 1540.6 164.4 1541.4 167.2 1542.3 170.1 1543.1 172.9 1543.9 175.8 1544.7 178.6 1545.6 181.5 1544.7 184.3 1543.0 187.2 1541.4 190.0 1539.7 192.9 1538.0 195.7 1534.1 198.6 1534.1 201.4 1534.4 204.3 1535.0 207.1 1535.6 210.0 1536.2 212.8 1536.7 215.7 1537.6 218.5 1538.4 221.4 1539.2 224.2 1540.0 227.1 1540.9 229.9 1541.7 232.8 1542.5 235.6 1543.4 238.5 1544.2 241.3 1545.0 244.2 1545.8 247.0 1544.2 249.9 1542.5 252.7 1540.8 255.6 1539.1 258.4 1534.1 261.3 1534.1 264.1 1534.1 267.0 1534.6 269.8 1535.2 272.7 1535.8 275.5 1536.3 278.4 1537.0 281.2 1537.8 284.1 1538.7 286.9 1539.5 289.8 1540.3 292.6 1541.1 295.5 1542.0 298.3 1542.8 301.2 1543.6 304.0 1544.5 306.9 1545.3 309.7 1545.3 312.6 1543.6 315.4 1541.9 318.3 1540.2 321.1 1538.6 324.0 1534.1 326.8 1534.1 329.7 1534.3 332.5 1534.8 335.4 1535.4 338.2 1536.0 341.1 1536.5 343.9 1537.3 346.8 1538.1 349.6 1538.9 352.5 1539.8 355.3 1540.6 358.2 1541.4 361.0 1542.3 363.9 1543.1 366.7 1543.9 369.6 1544.7 372.4 1545.6 375.3 1544.7 378.1 1543.0" fill="none" stroke="#9e9e9e" stroke-width="2.2" stroke-opacity="1.0"/><path d="M-3.8 1545.8 -1.0 1544.1 1.9 1540.1 4.8 1540.1 7.6 1540.5 10.5 1541.1 13.3 1541.7 16.2 1542.2 19.0 1542.8 21.9 1543.6 24.7 1544.5 27.6 1545.3 30.4 1546.1 33.3 1547.0 36.1 1547.8 39.0 1548.6 41.8 1549.4 44.7 1550.3 47.5 1551.1 50.4 1551.9 53.2 1550.2 56.1 1548.6 58.9 1546.9 61.8 1545.2 64.6 1540.1 67.5 1540.1 70.3 1540.1 73.2 1540.7 76.0 1541.3 78.9 1541.9 81.7 1542.4 84.6 1543.1 87.4 1543.9 90.3 1544.7 93.1 1545.6 96.0 1546.4 98.8 1547.2 101.7 1548.1 104.5 1548.9 107.4 1549.7 110.2 1550.5 113.1 1551.4 115.9 1551.4 118.8 1549.7 121.6 1548.0 124.5 1546.3 127.3 1544.6 130.2 1540.1 133.0 1540.1 135.9 1540.3 138.7 1540.9 141.6 1541.5 144.4 1542.0 147.3 1542.6 150.1 1543.4 153.0 1544.2 155.8 1545.0 158.7 1545.8 161.5 1546.7 164.4 1547.5 167.2 1548.3 170.1 1549.2 172.9 1550.0 175.8 1550.8 178.6 1551.7 181.5 1550.8 184.3 1549.1 187.2 1547.4 190.0 1545.8 192.9 1544.1 195.7 1540.1 198.6 1540.1 201.4 1540.5 204.3 1541.1 207.1 1541.7 210.0 1542.2 212.8 1542.8 215.7 1543.6 218.5 1544.5 221.4 1545.3 224.2 1546.1 227.1 1547.0 229.9 1547.8 232.8 1548.6 235.6 1549.4 238.5 1550.3 241.3 1551.1 244.2 1551.9 247.0 1550.2 249.9 1548.6 252.7 1546.9 255.6 1545.2 258.4 1540.1 261.3 1540.1 264.1 1540.1 267.0 1540.7 269.8 1541.3 272.7 1541.9 275.5 1542.4 278.4 1543.1 281.2 1543.9 284.1 1544.7 286.9 1545.6 289.8 1546.4 292.6 1547.2 295.5 1548.1 298.3 1548.9 301.2 1549.7 304.0 1550.5 306.9 1551.4 309.7 1551.4 312.6 1549.7 315.4 1548.0 318.3 1546.3 321.1 1544.6 324.0 1540.1 326.8 1540.1 329.7 1540.3 332.5 1540.9 335.4 1541.5 338.2 1542.0 341.1 1542.6 343.9 1543.4 346.8 1544.2 349.6 1545.0 352.5 1545.8 355.3 1546.7 358.2 1547.5 361.0 1548.3 363.9 1549.2 366.7 1550.0 369.6 1550.8 372.4 1551.7 375.3 1550.8 378.1 1549.1" fill="none" stroke="#6b6b6b" stroke-width="2.0" stroke-opacity="1.0"/><path d="M-3.8 1551.5 -1.0 1549.8 1.9 1545.8 4.8 1545.8 7.6 1546.2 10.5 1546.8 13.3 1547.4 16.2 1547.9 19.0 1548.5 21.9 1549.3 24.7 1550.2 27.6 1551.0 30.4 1551.8 33.3 1552.7 36.1 1553.5 39.0 1554.3 41.8 1555.1 44.7 1556.0 47.5 1556.8 50.4 1557.6 53.2 1555.9 56.1 1554.3 58.9 1552.6 61.8 1550.9 64.6 1545.8 67.5 1545.8 70.3 1545.8 73.2 1546.4 76.0 1547.0 78.9 1547.6 81.7 1548.1 84.6 1548.8 87.4 1549.6 90.3 1550.4 93.1 1551.3 96.0 1552.1 98.8 1552.9 101.7 1553.8 104.5 1554.6 107.4 1555.4 110.2 1556.2 113.1 1557.1 115.9 1557.1 118.8 1555.4 121.6 1553.7 124.5 1552.0 127.3 1550.3 130.2 1545.8 133.0 1545.8 135.9 1546.0 138.7 1546.6 141.6 1547.2 144.4 1547.7 147.3 1548.3 150.1 1549.1 153.0 1549.9 155.8 1550.7 158.7 1551.5 161.5 1552.4 164.4 1553.2 167.2 1554.0 170.1 1554.9 172.9 1555.7 175.8 1556.5 178.6 1557.4 181.5 1556.5 184.3 1554.8 187.2 1553.1 190.0 1551.5 192.9 1549.8 195.7 1545.8 198.6 1545.8 201.4 1546.2 204.3 1546.8 207.1 1547.4 210.0 1547.9 212.8 1548.5 215.7 1549.3 218.5 1550.2 221.4 1551.0 224.2 1551.8 227.1 1552.7 229.9 1553.5 232.8 1554.3 235.6 1555.1 238.5 1556.0 241.3 1556.8 244.2 1557.6 247.0 1555.9 249.9 1554.3 252.7 1552.6 255.6 1550.9 258.4 1545.8 261.3 1545.8 264.1 1545.8 267.0 1546.4 269.8 1547.0 272.7 1547.6 275.5 1548.1 278.4 1548.8 281.2 1549.6 284.1 1550.4 286.9 1551.3 289.8 1552.1 292.6 1552.9 295.5 1553.8 298.3 1554.6 301.2 1555.4 304.0 1556.2 306.9 1557.1 309.7 1557.1 312.6 1555.4 315.4 1553.7 318.3 1552.0 321.1 1550.3 324.0 1545.8 326.8 1545.8 329.7 1546.0 332.5 1546.6 335.4 1547.2 338.2 1547.7 341.1 1548.3 343.9 1549.1 346.8 1549.9 349.6 1550.7 352.5 1551.5 355.3 1552.4 358.2 1553.2 361.0 1554.0 363.9 1554.9 366.7 1555.7 369.6 1556.5 372.4 1557.4 375.3 1556.5 378.1 1554.8" fill="none" stroke="#5c5c5c" stroke-width="2.0" stroke-opacity="1.0"/><path d="M-3.8 1556.6 -1.0 1556.8 1.9 1556.9 4.8 1556.8 7.6 1556.6 10.5 1556.4 13.3 1556.0 16.2 1555.6 19.0 1555.2 21.9 1554.8 24.7 1554.4 27.6 1554.1 30.4 1553.9 33.3 1553.8 36.1 1553.9 39.0 1554.0 41.8 1554.2 44.7 1554.5 47.5 1554.9 50.4 1555.3 53.2 1555.8 56.1 1556.1 58.9 1556.5 61.8 1556.7 64.6 1556.8 67.5 1556.9 70.3 1556.8 73.2 1556.6 76.0 1556.3 78.9 1555.9 81.7 1555.5 84.6 1555.1 87.4 1554.7 90.3 1554.3 93.1 1554.1 96.0 1553.9 98.8 1553.8 101.7 1553.9 104.5 1554.1 107.4 1554.3 110.2 1554.7 113.1 1555.1 115.9 1555.5 118.8 1555.9 121.6 1556.3 124.5 1556.6 127.3 1556.8 130.2 1556.9 133.0 1556.8 135.9 1556.7 138.7 1556.5 141.6 1556.1 144.4 1555.8 147.3 1555.3 150.1 1554.9 153.0 1554.5 155.8 1554.2 158.7 1554.0 161.5 1553.9 164.4 1553.8 167.2 1553.9 170.1 1554.1 172.9 1554.4 175.8 1554.8 178.6 1555.2 181.5 1555.6 184.3 1556.0 187.2 1556.4 190.0 1556.6 192.9 1556.8 195.7 1556.9 198.6 1556.8 201.4 1556.6 204.3 1556.4 207.1 1556.0 210.0 1555.6 212.8 1555.2 215.7 1554.8 218.5 1554.4 221.4 1554.1 224.2 1553.9 227.1 1553.8 229.9 1553.9 232.8 1554.0 235.6 1554.2 238.5 1554.5 241.3 1554.9 244.2 1555.3 247.0 1555.8 249.9 1556.1 252.7 1556.5 255.6 1556.7 258.4 1556.8 261.3 1556.9 264.1 1556.8 267.0 1556.6 269.8 1556.3 272.7 1555.9 275.5 1555.5 278.4 1555.1 281.2 1554.7 284.1 1554.3 286.9 1554.1 289.8 1553.9 292.6 1553.8 295.5 1553.9 298.3 1554.1 301.2 1554.3 304.0 1554.7 306.9 1555.1 309.7 1555.5 312.6 1555.9 315.4 1556.3 318.3 1556.6 321.1 1556.8 324.0 1556.9 326.8 1556.8 329.7 1556.7 332.5 1556.5 335.4 1556.1 338.2 1555.8 341.1 1555.3 343.9 1554.9 346.8 1554.5 349.6 1554.2 352.5 1554.0 355.3 1553.9 358.2 1553.8 361.0 1553.9 363.9 1554.1 366.7 1554.4 369.6 1554.8 372.4 1555.2 375.3 1555.6 378.1 1556.0 378.1 1615.0 375.3 1615.0 372.4 1615.0 369.6 1615.0 366.7 1615.0 363.9 1615.0 361.0 1615.0 358.2 1615.0 355.3 1615.0 352.5 1615.0 349.6 1615.0 346.8 1615.0 343.9 1615.0 341.1 1615.0 338.2 1615.0 335.4 1615.0 332.5 1615.0 329.7 1615.0 326.8 1615.0 324.0 1615.0 321.1 1615.0 318.3 1615.0 315.4 1615.0 312.6 1615.0 309.7 1615.0 306.9 1615.0 304.0 1615.0 301.2 1615.0 298.3 1615.0 295.5 1615.0 292.6 1615.0 289.8 1615.0 286.9 1615.0 284.1 1615.0 281.2 1615.0 278.4 1615.0 275.5 1615.0 272.7 1615.0 269.8 1615.0 267.0 1615.0 264.1 1615.0 261.3 1615.0 258.4 1615.0 255.6 1615.0 252.7 1615.0 249.9 1615.0 247.0 1615.0 244.2 1615.0 241.3 1615.0 238.5 1615.0 235.6 1615.0 232.8 1615.0 229.9 1615.0 227.1 1615.0 224.2 1615.0 221.4 1615.0 218.5 1615.0 215.7 1615.0 212.8 1615.0 210.0 1615.0 207.1 1615.0 204.3 1615.0 201.4 1615.0 198.6 1615.0 195.7 1615.0 192.9 1615.0 190.0 1615.0 187.2 1615.0 184.3 1615.0 181.5 1615.0 178.6 1615.0 175.8 1615.0 172.9 1615.0 170.1 1615.0 167.2 1615.0 164.4 1615.0 161.5 1615.0 158.7 1615.0 155.8 1615.0 153.0 1615.0 150.1 1615.0 147.3 1615.0 144.4 1615.0 141.6 1615.0 138.7 1615.0 135.9 1615.0 133.0 1615.0 130.2 1615.0 127.3 1615.0 124.5 1615.0 121.6 1615.0 118.8 1615.0 115.9 1615.0 113.1 1615.0 110.2 1615.0 107.4 1615.0 104.5 1615.0 101.7 1615.0 98.8 1615.0 96.0 1615.0 93.1 1615.0 90.3 1615.0 87.4 1615.0 84.6 1615.0 81.7 1615.0 78.9 1615.0 76.0 1615.0 73.2 1615.0 70.3 1615.0 67.5 1615.0 64.6 1615.0 61.8 1615.0 58.9 1615.0 56.1 1615.0 53.2 1615.0 50.4 1615.0 47.5 1615.0 44.7 1615.0 41.8 1615.0 39.0 1615.0 36.1 1615.0 33.3 1615.0 30.4 1615.0 27.6 1615.0 24.7 1615.0 21.9 1615.0 19.0 1615.0 16.2 1615.0 13.3 1615.0 10.5 1615.0 7.6 1615.0 4.8 1615.0 1.9 1615.0 -1.0 1615.0 -3.8 1615.0Z" fill="#d1d1d1"/></g></g></g>
<rect x="373.0" y="1341.4" width="361.6" height="270.5" fill="#000"/>
<g clip-path="url(#clip_fko)"><g filter="url(#echoK)"><rect x="373.0" y="1341.4" width="361.6" height="270.5" fill="#131313"/><g filter="url(#echoBlur)"><path d="M361.2 1341.4 364.0 1341.4 366.9 1341.4 369.8 1341.4 372.6 1341.4 375.5 1341.4 378.3 1341.4 381.2 1341.4 384.0 1341.4 386.9 1341.4 389.7 1341.4 392.6 1341.4 395.4 1341.4 398.3 1341.4 401.1 1341.4 404.0 1341.4 406.8 1341.4 409.7 1341.4 412.5 1341.4 415.4 1341.4 418.2 1341.4 421.1 1341.4 423.9 1341.4 426.8 1341.4 429.6 1341.4 432.5 1341.4 435.3 1341.4 438.2 1341.4 441.0 1341.4 443.9 1341.4 446.7 1341.4 449.6 1341.4 452.4 1341.4 455.3 1341.4 458.1 1341.4 461.0 1341.4 463.8 1341.4 466.7 1341.4 469.5 1341.4 472.4 1341.4 475.2 1341.4 478.1 1341.4 480.9 1341.4 483.8 1341.4 486.6 1341.4 489.5 1341.4 492.3 1341.4 495.2 1341.4 498.0 1341.4 500.9 1341.4 503.7 1341.4 506.6 1341.4 509.4 1341.4 512.3 1341.4 515.1 1341.4 518.0 1341.4 520.8 1341.4 523.7 1341.4 526.5 1341.4 529.4 1341.4 532.2 1341.4 535.1 1341.4 537.9 1341.4 540.8 1341.4 543.6 1341.4 546.5 1341.4 549.3 1341.4 552.2 1341.4 555.0 1341.4 557.9 1341.4 560.7 1341.4 563.6 1341.4 566.4 1341.4 569.3 1341.4 572.1 1341.4 575.0 1341.4 577.8 1341.4 580.7 1341.4 583.5 1341.4 586.4 1341.4 589.2 1341.4 592.1 1341.4 594.9 1341.4 597.8 1341.4 600.6 1341.4 603.5 1341.4 606.3 1341.4 609.2 1341.4 612.0 1341.4 614.9 1341.4 617.7 1341.4 620.6 1341.4 623.4 1341.4 626.3 1341.4 629.1 1341.4 632.0 1341.4 634.8 1341.4 637.7 1341.4 640.5 1341.4 643.4 1341.4 646.2 1341.4 649.1 1341.4 651.9 1341.4 654.8 1341.4 657.6 1341.4 660.5 1341.4 663.3 1341.4 666.2 1341.4 669.0 1341.4 671.9 1341.4 674.7 1341.4 677.6 1341.4 680.4 1341.4 683.3 1341.4 686.1 1341.4 689.0 1341.4 691.8 1341.4 694.7 1341.4 697.5 1341.4 700.4 1341.4 703.2 1341.4 706.1 1341.4 708.9 1341.4 711.8 1341.4 714.6 1341.4 717.5 1341.4 720.3 1341.4 723.2 1341.4 726.0 1341.4 728.9 1341.4 731.7 1341.4 734.6 1341.4 737.4 1341.4 740.3 1341.4 743.1 1341.4 743.1 1350.0 740.3 1349.7 737.4 1349.6 734.6 1349.6 731.7 1349.8 728.9 1350.2 726.0 1350.7 723.2 1351.2 720.3 1351.8 717.5 1352.4 714.6 1353.0 711.8 1353.5 708.9 1353.8 706.1 1354.1 703.2 1354.1 700.4 1354.0 697.5 1353.8 694.7 1353.4 691.8 1352.9 689.0 1352.3 686.1 1351.7 683.3 1351.1 680.4 1350.5 677.6 1350.1 674.7 1349.8 671.9 1349.6 669.0 1349.6 666.2 1349.7 663.3 1350.1 660.5 1350.5 657.6 1351.0 654.8 1351.6 651.9 1352.2 649.1 1352.8 646.2 1353.3 643.4 1353.7 640.5 1354.0 637.7 1354.1 634.8 1354.1 632.0 1353.9 629.1 1353.5 626.3 1353.0 623.4 1352.5 620.6 1351.9 617.7 1351.3 614.9 1350.7 612.0 1350.2 609.2 1349.9 606.3 1349.6 603.5 1349.6 600.6 1349.7 597.8 1349.9 594.9 1350.3 592.1 1350.8 589.2 1351.4 586.4 1352.0 583.5 1352.6 580.7 1353.2 577.8 1353.6 575.0 1353.9 572.1 1354.1 569.3 1354.1 566.4 1354.0 563.6 1353.7 560.7 1353.2 557.9 1352.7 555.0 1352.1 552.2 1351.5 549.3 1350.9 546.5 1350.4 543.6 1350.0 540.8 1349.7 537.9 1349.6 535.1 1349.6 532.2 1349.8 529.4 1350.2 526.5 1350.7 523.7 1351.2 520.8 1351.8 518.0 1352.4 515.1 1353.0 512.3 1353.5 509.4 1353.8 506.6 1354.1 503.7 1354.1 500.9 1354.0 498.0 1353.8 495.2 1353.4 492.3 1352.9 489.5 1352.3 486.6 1351.7 483.8 1351.1 480.9 1350.5 478.1 1350.1 475.2 1349.8 472.4 1349.6 469.5 1349.6 466.7 1349.7 463.8 1350.1 461.0 1350.5 458.1 1351.0 455.3 1351.6 452.4 1352.2 449.6 1352.8 446.7 1353.3 443.9 1353.7 441.0 1354.0 438.2 1354.1 435.3 1354.1 432.5 1353.9 429.6 1353.5 426.8 1353.0 423.9 1352.5 421.1 1351.9 418.2 1351.3 415.4 1350.7 412.5 1350.2 409.7 1349.9 406.8 1349.6 404.0 1349.6 401.1 1349.7 398.3 1349.9 395.4 1350.3 392.6 1350.8 389.7 1351.4 386.9 1352.0 384.0 1352.6 381.2 1353.2 378.3 1353.6 375.5 1353.9 372.6 1354.1 369.8 1354.1 366.9 1354.0 364.0 1353.7 361.2 1353.2Z" fill="#333333"/><path d="M361.2 1352.6 364.0 1353.1 366.9 1353.4 369.8 1353.5 372.6 1353.5 375.5 1353.4 378.3 1353.0 381.2 1352.6 384.0 1352.1 386.9 1351.5 389.7 1350.8 392.6 1350.3 395.4 1349.8 398.3 1349.4 401.1 1349.1 404.0 1349.0 406.8 1349.1 409.7 1349.3 412.5 1349.7 415.4 1350.1 418.2 1350.7 421.1 1351.3 423.9 1351.9 426.8 1352.5 429.6 1352.9 432.5 1353.3 435.3 1353.5 438.2 1353.6 441.0 1353.4 443.9 1353.2 446.7 1352.8 449.6 1352.2 452.4 1351.7 455.3 1351.0 458.1 1350.5 461.0 1349.9 463.8 1349.5 466.7 1349.2 469.5 1349.0 472.4 1349.0 475.2 1349.2 478.1 1349.5 480.9 1350.0 483.8 1350.5 486.6 1351.1 489.5 1351.7 492.3 1352.3 495.2 1352.8 498.0 1353.2 500.9 1353.5 503.7 1353.6 506.6 1353.5 509.4 1353.3 512.3 1352.9 515.1 1352.4 518.0 1351.9 520.8 1351.3 523.7 1350.6 526.5 1350.1 529.4 1349.6 532.2 1349.3 535.1 1349.1 537.9 1349.0 540.8 1349.1 543.6 1349.4 546.5 1349.8 549.3 1350.3 552.2 1350.9 555.0 1351.5 557.9 1352.1 560.7 1352.6 563.6 1353.1 566.4 1353.4 569.3 1353.5 572.1 1353.5 575.0 1353.4 577.8 1353.0 580.7 1352.6 583.5 1352.1 586.4 1351.5 589.2 1350.8 592.1 1350.3 594.9 1349.8 597.8 1349.4 600.6 1349.1 603.5 1349.0 606.3 1349.1 609.2 1349.3 612.0 1349.7 614.9 1350.1 617.7 1350.7 620.6 1351.3 623.4 1351.9 626.3 1352.5 629.1 1352.9 632.0 1353.3 634.8 1353.5 637.7 1353.6 640.5 1353.4 643.4 1353.2 646.2 1352.8 649.1 1352.2 651.9 1351.7 654.8 1351.0 657.6 1350.5 660.5 1349.9 663.3 1349.5 666.2 1349.2 669.0 1349.0 671.9 1349.0 674.7 1349.2 677.6 1349.5 680.4 1350.0 683.3 1350.5 686.1 1351.1 689.0 1351.7 691.8 1352.3 694.7 1352.8 697.5 1353.2 700.4 1353.5 703.2 1353.6 706.1 1353.5 708.9 1353.3 711.8 1352.9 714.6 1352.4 717.5 1351.9 720.3 1351.3 723.2 1350.6 726.0 1350.1 728.9 1349.6 731.7 1349.3 734.6 1349.1 737.4 1349.0 740.3 1349.1 743.1 1349.4 743.1 1363.3 740.3 1363.0 737.4 1362.9 734.6 1362.9 731.7 1363.1 728.9 1363.5 726.0 1364.0 723.2 1364.5 720.3 1365.1 717.5 1365.7 714.6 1366.3 711.8 1366.8 708.9 1367.1 706.1 1367.4 703.2 1367.4 700.4 1367.3 697.5 1367.1 694.7 1366.7 691.8 1366.2 689.0 1365.6 686.1 1365.0 683.3 1364.4 680.4 1363.8 677.6 1363.4 674.7 1363.1 671.9 1362.9 669.0 1362.9 666.2 1363.0 663.3 1363.4 660.5 1363.8 657.6 1364.3 654.8 1364.9 651.9 1365.5 649.1 1366.1 646.2 1366.6 643.4 1367.0 640.5 1367.3 637.7 1367.4 634.8 1367.4 632.0 1367.2 629.1 1366.8 626.3 1366.3 623.4 1365.8 620.6 1365.2 617.7 1364.6 614.9 1364.0 612.0 1363.5 609.2 1363.2 606.3 1362.9 603.5 1362.9 600.6 1363.0 597.8 1363.2 594.9 1363.6 592.1 1364.1 589.2 1364.7 586.4 1365.3 583.5 1365.9 580.7 1366.5 577.8 1366.9 575.0 1367.2 572.1 1367.4 569.3 1367.4 566.4 1367.3 563.6 1367.0 560.7 1366.5 557.9 1366.0 555.0 1365.4 552.2 1364.8 549.3 1364.2 546.5 1363.7 543.6 1363.3 540.8 1363.0 537.9 1362.9 535.1 1362.9 532.2 1363.1 529.4 1363.5 526.5 1364.0 523.7 1364.5 520.8 1365.1 518.0 1365.7 515.1 1366.3 512.3 1366.8 509.4 1367.1 506.6 1367.4 503.7 1367.4 500.9 1367.3 498.0 1367.1 495.2 1366.7 492.3 1366.2 489.5 1365.6 486.6 1365.0 483.8 1364.4 480.9 1363.8 478.1 1363.4 475.2 1363.1 472.4 1362.9 469.5 1362.9 466.7 1363.0 463.8 1363.4 461.0 1363.8 458.1 1364.3 455.3 1364.9 452.4 1365.5 449.6 1366.1 446.7 1366.6 443.9 1367.0 441.0 1367.3 438.2 1367.4 435.3 1367.4 432.5 1367.2 429.6 1366.8 426.8 1366.3 423.9 1365.8 421.1 1365.2 418.2 1364.6 415.4 1364.0 412.5 1363.5 409.7 1363.2 406.8 1362.9 404.0 1362.9 401.1 1363.0 398.3 1363.2 395.4 1363.6 392.6 1364.1 389.7 1364.7 386.9 1365.3 384.0 1365.9 381.2 1366.5 378.3 1366.9 375.5 1367.2 372.6 1367.4 369.8 1367.4 366.9 1367.3 364.0 1367.0 361.2 1366.5Z" fill="#ebebeb"/><path d="M361.2 1366.5 364.0 1367.0 366.9 1367.3 369.8 1367.4 372.6 1367.4 375.5 1367.2 378.3 1366.9 381.2 1366.5 384.0 1365.9 386.9 1365.3 389.7 1364.7 392.6 1364.1 395.4 1363.6 398.3 1363.2 401.1 1363.0 404.0 1362.9 406.8 1362.9 409.7 1363.2 412.5 1363.5 415.4 1364.0 418.2 1364.6 421.1 1365.2 423.9 1365.8 426.8 1366.3 429.6 1366.8 432.5 1367.2 435.3 1367.4 438.2 1367.4 441.0 1367.3 443.9 1367.0 446.7 1366.6 449.6 1366.1 452.4 1365.5 455.3 1364.9 458.1 1364.3 461.0 1363.8 463.8 1363.4 466.7 1363.0 469.5 1362.9 472.4 1362.9 475.2 1363.1 478.1 1363.4 480.9 1363.8 483.8 1364.4 486.6 1365.0 489.5 1365.6 492.3 1366.2 495.2 1366.7 498.0 1367.1 500.9 1367.3 503.7 1367.4 506.6 1367.4 509.4 1367.1 512.3 1366.8 515.1 1366.3 518.0 1365.7 520.8 1365.1 523.7 1364.5 526.5 1364.0 529.4 1363.5 532.2 1363.1 535.1 1362.9 537.9 1362.9 540.8 1363.0 543.6 1363.3 546.5 1363.7 549.3 1364.2 552.2 1364.8 555.0 1365.4 557.9 1366.0 560.7 1366.5 563.6 1367.0 566.4 1367.3 569.3 1367.4 572.1 1367.4 575.0 1367.2 577.8 1366.9 580.7 1366.5 583.5 1365.9 586.4 1365.3 589.2 1364.7 592.1 1364.1 594.9 1363.6 597.8 1363.2 600.6 1363.0 603.5 1362.9 606.3 1362.9 609.2 1363.2 612.0 1363.5 614.9 1364.0 617.7 1364.6 620.6 1365.2 623.4 1365.8 626.3 1366.3 629.1 1366.8 632.0 1367.2 634.8 1367.4 637.7 1367.4 640.5 1367.3 643.4 1367.0 646.2 1366.6 649.1 1366.1 651.9 1365.5 654.8 1364.9 657.6 1364.3 660.5 1363.8 663.3 1363.4 666.2 1363.0 669.0 1362.9 671.9 1362.9 674.7 1363.1 677.6 1363.4 680.4 1363.8 683.3 1364.4 686.1 1365.0 689.0 1365.6 691.8 1366.2 694.7 1366.7 697.5 1367.1 700.4 1367.3 703.2 1367.4 706.1 1367.4 708.9 1367.1 711.8 1366.8 714.6 1366.3 717.5 1365.7 720.3 1365.1 723.2 1364.5 726.0 1364.0 728.9 1363.5 731.7 1363.1 734.6 1362.9 737.4 1362.9 740.3 1363.0 743.1 1363.3 743.1 1405.0 740.3 1408.7 737.4 1412.4 734.6 1414.1 731.7 1411.4 728.9 1408.8 726.0 1406.2 723.2 1403.9 720.3 1402.3 717.5 1400.7 714.6 1399.1 711.8 1397.4 708.9 1397.1 706.1 1397.5 703.2 1397.9 700.4 1398.3 697.5 1398.7 694.7 1399.0 691.8 1399.7 689.0 1400.5 686.1 1401.3 683.3 1402.1 680.4 1402.9 677.6 1403.7 674.7 1407.5 671.9 1411.2 669.0 1414.9 666.2 1412.3 663.3 1409.7 660.5 1407.1 657.6 1404.5 654.8 1402.9 651.9 1401.2 649.1 1399.6 646.2 1398.0 643.4 1397.0 640.5 1397.4 637.7 1397.8 634.8 1398.1 632.0 1398.5 629.1 1398.9 626.3 1399.4 623.4 1400.2 620.6 1401.0 617.7 1401.8 614.9 1402.6 612.0 1403.5 609.2 1406.2 606.3 1410.0 603.5 1413.7 600.6 1413.2 597.8 1410.6 594.9 1408.0 592.1 1405.4 589.2 1403.4 586.4 1401.8 583.5 1400.1 580.7 1398.5 577.8 1396.9 575.0 1397.3 572.1 1397.6 569.3 1398.0 566.4 1398.4 563.6 1398.8 560.7 1399.2 557.9 1400.0 555.0 1400.8 552.2 1401.6 549.3 1402.4 546.5 1403.2 543.6 1405.0 540.8 1408.7 537.9 1412.4 535.1 1414.1 532.2 1411.4 529.4 1408.8 526.5 1406.2 523.7 1403.9 520.8 1402.3 518.0 1400.7 515.1 1399.1 512.3 1397.4 509.4 1397.1 506.6 1397.5 503.7 1397.9 500.9 1398.3 498.0 1398.7 495.2 1399.0 492.3 1399.7 489.5 1400.5 486.6 1401.3 483.8 1402.1 480.9 1402.9 478.1 1403.7 475.2 1407.5 472.4 1411.2 469.5 1414.9 466.7 1412.3 463.8 1409.7 461.0 1407.1 458.1 1404.5 455.3 1402.9 452.4 1401.2 449.6 1399.6 446.7 1398.0 443.9 1397.0 441.0 1397.4 438.2 1397.8 435.3 1398.1 432.5 1398.5 429.6 1398.9 426.8 1399.4 423.9 1400.2 421.1 1401.0 418.2 1401.8 415.4 1402.6 412.5 1403.5 409.7 1406.2 406.8 1410.0 404.0 1413.7 401.1 1413.2 398.3 1410.6 395.4 1408.0 392.6 1405.4 389.7 1403.4 386.9 1401.8 384.0 1400.1 381.2 1398.5 378.3 1396.9 375.5 1397.3 372.6 1397.6 369.8 1398.0 366.9 1398.4 364.0 1398.8 361.2 1399.2Z" fill="#525252"/><path d="M361.2 1371.3 364.0 1371.7 366.9 1372.0 369.8 1372.2 372.6 1372.2 375.5 1372.0 378.3 1371.7 381.2 1371.2 384.0 1370.7 386.9 1370.1 389.7 1369.5 392.6 1368.9 395.4 1368.4 398.3 1368.0 401.1 1367.7 404.0 1367.6 406.8 1367.7 409.7 1367.9 412.5 1368.3 415.4 1368.8 418.2 1369.3 421.1 1369.9 423.9 1370.5 426.8 1371.1 429.6 1371.6 432.5 1371.9 435.3 1372.1 438.2 1372.2 441.0 1372.1 443.9 1371.8 446.7 1371.4 449.6 1370.9 452.4 1370.3 455.3 1369.7 458.1 1369.1 461.0 1368.5 463.8 1368.1 466.7 1367.8 469.5 1367.6 472.4 1367.6 475.2 1367.8 478.1 1368.1 480.9 1368.6 483.8 1369.1 486.6 1369.7 489.5 1370.3 492.3 1370.9 495.2 1371.4 498.0 1371.8 500.9 1372.1 503.7 1372.2 506.6 1372.1 509.4 1371.9 512.3 1371.5 515.1 1371.0 518.0 1370.5 520.8 1369.9 523.7 1369.3 526.5 1368.7 529.4 1368.2 532.2 1367.9 535.1 1367.7 537.9 1367.6 540.8 1367.7 543.6 1368.0 546.5 1368.4 549.3 1368.9 552.2 1369.5 555.0 1370.1 557.9 1370.7 560.7 1371.3 563.6 1371.7 566.4 1372.0 569.3 1372.2 572.1 1372.2 575.0 1372.0 577.8 1371.7 580.7 1371.2 583.5 1370.7 586.4 1370.1 589.2 1369.5 592.1 1368.9 594.9 1368.4 597.8 1368.0 600.6 1367.7 603.5 1367.6 606.3 1367.7 609.2 1367.9 612.0 1368.3 614.9 1368.8 617.7 1369.3 620.6 1369.9 623.4 1370.5 626.3 1371.1 629.1 1371.6 632.0 1371.9 634.8 1372.1 637.7 1372.2 640.5 1372.1 643.4 1371.8 646.2 1371.4 649.1 1370.9 651.9 1370.3 654.8 1369.7 657.6 1369.1 660.5 1368.5 663.3 1368.1 666.2 1367.8 669.0 1367.6 671.9 1367.6 674.7 1367.8 677.6 1368.1 680.4 1368.6 683.3 1369.1 686.1 1369.7 689.0 1370.3 691.8 1370.9 694.7 1371.4 697.5 1371.8 700.4 1372.1 703.2 1372.2 706.1 1372.1 708.9 1371.9 711.8 1371.5 714.6 1371.0 717.5 1370.5 720.3 1369.9 723.2 1369.3 726.0 1368.7 728.9 1368.2 731.7 1367.9 734.6 1367.7 737.4 1367.6 740.3 1367.7 743.1 1368.0" fill="none" stroke="#8c8c8c" stroke-width="2.0" stroke-opacity="0.7"/><path d="M361.2 1397.6 364.0 1397.3 366.9 1396.9 369.8 1396.5 372.6 1396.1 375.5 1395.7 378.3 1395.4 381.2 1397.0 384.0 1398.6 386.9 1400.2 389.7 1401.9 392.6 1403.8 395.4 1406.4 398.3 1409.1 401.1 1411.7 404.0 1412.2 406.8 1408.4 409.7 1404.7 412.5 1401.9 415.4 1401.1 418.2 1400.3 421.1 1399.5 423.9 1398.7 426.8 1397.9 429.6 1397.4 432.5 1397.0 435.3 1396.6 438.2 1396.2 441.0 1395.9 443.9 1395.5 446.7 1396.4 449.6 1398.1 452.4 1399.7 455.3 1401.3 458.1 1403.0 461.0 1405.6 463.8 1408.2 466.7 1410.8 469.5 1413.4 472.4 1409.7 475.2 1405.9 478.1 1402.2 480.9 1401.4 483.8 1400.6 486.6 1399.8 489.5 1399.0 492.3 1398.2 495.2 1397.5 498.0 1397.1 500.9 1396.8 503.7 1396.4 506.6 1396.0 509.4 1395.6 512.3 1395.9 515.1 1397.5 518.0 1399.2 520.8 1400.8 523.7 1402.4 526.5 1404.7 529.4 1407.3 532.2 1409.9 535.1 1412.5 537.9 1410.9 540.8 1407.2 543.6 1403.4 546.5 1401.7 549.3 1400.9 552.2 1400.1 555.0 1399.3 557.9 1398.4 560.7 1397.6 563.6 1397.3 566.4 1396.9 569.3 1396.5 572.1 1396.1 575.0 1395.7 577.8 1395.4 580.7 1397.0 583.5 1398.6 586.4 1400.2 589.2 1401.9 592.1 1403.8 594.9 1406.4 597.8 1409.1 600.6 1411.7 603.5 1412.2 606.3 1408.4 609.2 1404.7 612.0 1401.9 614.9 1401.1 617.7 1400.3 620.6 1399.5 623.4 1398.7 626.3 1397.9 629.1 1397.4 632.0 1397.0 634.8 1396.6 637.7 1396.2 640.5 1395.9 643.4 1395.5 646.2 1396.4 649.1 1398.1 651.9 1399.7 654.8 1401.3 657.6 1403.0 660.5 1405.6 663.3 1408.2 666.2 1410.8 669.0 1413.4 671.9 1409.7 674.7 1405.9 677.6 1402.2 680.4 1401.4 683.3 1400.6 686.1 1399.8 689.0 1399.0 691.8 1398.2 694.7 1397.5 697.5 1397.1 700.4 1396.8 703.2 1396.4 706.1 1396.0 708.9 1395.6 711.8 1395.9 714.6 1397.5 717.5 1399.2 720.3 1400.8 723.2 1402.4 726.0 1404.7 728.9 1407.3 731.7 1409.9 734.6 1412.5 737.4 1410.9 740.3 1407.2 743.1 1403.4" fill="none" stroke="#a8a8a8" stroke-width="2.2" stroke-opacity="1.0"/><path d="M361.2 1391.6 364.0 1391.2 366.9 1390.8 369.8 1390.4 372.6 1390.0 375.5 1389.7 378.3 1389.3 381.2 1390.9 384.0 1392.5 386.9 1394.2 389.7 1395.8 392.6 1397.8 395.4 1400.4 398.3 1403.0 401.1 1405.6 404.0 1406.1 406.8 1402.3 409.7 1398.6 412.5 1395.9 415.4 1395.0 418.2 1394.2 421.1 1393.4 423.9 1392.6 426.8 1391.8 429.6 1391.3 432.5 1390.9 435.3 1390.5 438.2 1390.2 441.0 1389.8 443.9 1389.4 446.7 1390.4 449.6 1392.0 452.4 1393.6 455.3 1395.3 458.1 1396.9 461.0 1399.5 463.8 1402.1 466.7 1404.7 469.5 1407.3 472.4 1403.6 475.2 1399.9 478.1 1396.1 480.9 1395.3 483.8 1394.5 486.6 1393.7 489.5 1392.9 492.3 1392.1 495.2 1391.4 498.0 1391.1 500.9 1390.7 503.7 1390.3 506.6 1389.9 509.4 1389.5 512.3 1389.8 515.1 1391.5 518.0 1393.1 520.8 1394.7 523.7 1396.3 526.5 1398.6 529.4 1401.2 532.2 1403.8 535.1 1406.5 537.9 1404.8 540.8 1401.1 543.6 1397.4 546.5 1395.6 549.3 1394.8 552.2 1394.0 555.0 1393.2 557.9 1392.4 560.7 1391.6 563.6 1391.2 566.4 1390.8 569.3 1390.4 572.1 1390.0 575.0 1389.7 577.8 1389.3 580.7 1390.9 583.5 1392.5 586.4 1394.2 589.2 1395.8 592.1 1397.8 594.9 1400.4 597.8 1403.0 600.6 1405.6 603.5 1406.1 606.3 1402.3 609.2 1398.6 612.0 1395.9 614.9 1395.0 617.7 1394.2 620.6 1393.4 623.4 1392.6 626.3 1391.8 629.1 1391.3 632.0 1390.9 634.8 1390.5 637.7 1390.2 640.5 1389.8 643.4 1389.4 646.2 1390.4 649.1 1392.0 651.9 1393.6 654.8 1395.3 657.6 1396.9 660.5 1399.5 663.3 1402.1 666.2 1404.7 669.0 1407.3 671.9 1403.6 674.7 1399.9 677.6 1396.1 680.4 1395.3 683.3 1394.5 686.1 1393.7 689.0 1392.9 691.8 1392.1 694.7 1391.4 697.5 1391.1 700.4 1390.7 703.2 1390.3 706.1 1389.9 708.9 1389.5 711.8 1389.8 714.6 1391.5 717.5 1393.1 720.3 1394.7 723.2 1396.3 726.0 1398.6 728.9 1401.2 731.7 1403.8 734.6 1406.5 737.4 1404.8 740.3 1401.1 743.1 1397.4" fill="none" stroke="#757575" stroke-width="2.0" stroke-opacity="0.7"/><path d="M361.2 1531.0 364.0 1532.6 366.9 1537.5 369.8 1537.5 372.6 1537.5 375.5 1532.9 378.3 1530.0 381.2 1527.9 384.0 1525.8 386.9 1523.7 389.7 1521.7 392.6 1519.6 395.4 1517.5 398.3 1515.4 401.1 1515.8 404.0 1517.4 406.8 1519.0 409.7 1520.7 412.5 1522.3 415.4 1523.9 418.2 1525.5 421.1 1527.2 423.9 1528.8 426.8 1530.4 429.6 1532.1 432.5 1537.5 435.3 1537.5 438.2 1537.5 441.0 1534.4 443.9 1530.7 446.7 1528.6 449.6 1526.5 452.4 1524.4 455.3 1522.3 458.1 1520.3 461.0 1518.2 463.8 1516.1 466.7 1515.2 469.5 1516.9 472.4 1518.5 475.2 1520.1 478.1 1521.7 480.9 1523.4 483.8 1525.0 486.6 1526.6 489.5 1528.3 492.3 1529.9 495.2 1531.5 498.0 1537.5 500.9 1537.5 503.7 1537.5 506.6 1536.0 509.4 1531.4 512.3 1529.3 515.1 1527.2 518.0 1525.1 520.8 1523.0 523.7 1521.0 526.5 1518.9 529.4 1516.8 532.2 1514.7 535.1 1516.3 537.9 1517.9 540.8 1519.6 543.6 1521.2 546.5 1522.8 549.3 1524.5 552.2 1526.1 555.0 1527.7 557.9 1529.3 560.7 1531.0 563.6 1532.6 566.4 1537.5 569.3 1537.5 572.1 1537.5 575.0 1532.9 577.8 1530.0 580.7 1527.9 583.5 1525.8 586.4 1523.7 589.2 1521.7 592.1 1519.6 594.9 1517.5 597.8 1515.4 600.6 1515.8 603.5 1517.4 606.3 1519.0 609.2 1520.7 612.0 1522.3 614.9 1523.9 617.7 1525.5 620.6 1527.2 623.4 1528.8 626.3 1530.4 629.1 1532.1 632.0 1537.5 634.8 1537.5 637.7 1537.5 640.5 1534.4 643.4 1530.7 646.2 1528.6 649.1 1526.5 651.9 1524.4 654.8 1522.3 657.6 1520.3 660.5 1518.2 663.3 1516.1 666.2 1515.2 669.0 1516.9 671.9 1518.5 674.7 1520.1 677.6 1521.7 680.4 1523.4 683.3 1525.0 686.1 1526.6 689.0 1528.3 691.8 1529.9 694.7 1531.5 697.5 1537.5 700.4 1537.5 703.2 1537.5 706.1 1536.0 708.9 1531.4 711.8 1529.3 714.6 1527.2 717.5 1525.1 720.3 1523.0 723.2 1521.0 726.0 1518.9 728.9 1516.8 731.7 1514.7 734.6 1516.3 737.4 1517.9 740.3 1519.6 743.1 1521.2 743.1 1550.6 740.3 1549.3 737.4 1548.0 734.6 1546.7 731.7 1545.4 728.9 1547.1 726.0 1548.7 723.2 1550.4 720.3 1552.1 717.5 1553.8 714.6 1555.4 711.8 1557.1 708.9 1558.8 706.1 1562.4 703.2 1563.6 700.4 1563.6 697.5 1563.6 694.7 1558.9 691.8 1557.6 689.0 1556.2 686.1 1554.9 683.3 1553.6 680.4 1552.3 677.6 1551.0 674.7 1549.7 671.9 1548.4 669.0 1547.1 666.2 1545.8 663.3 1546.5 660.5 1548.2 657.6 1549.8 654.8 1551.5 651.9 1553.2 649.1 1554.9 646.2 1556.5 643.4 1558.2 640.5 1561.2 637.7 1563.6 634.8 1563.6 632.0 1563.6 629.1 1559.3 626.3 1558.0 623.4 1556.7 620.6 1555.4 617.7 1554.1 614.9 1552.8 612.0 1551.5 609.2 1550.2 606.3 1548.9 603.5 1547.6 600.6 1546.3 597.8 1545.9 594.9 1547.6 592.1 1549.3 589.2 1551.0 586.4 1552.6 583.5 1554.3 580.7 1556.0 577.8 1557.7 575.0 1560.0 572.1 1563.6 569.3 1563.6 566.4 1563.6 563.6 1559.7 560.7 1558.4 557.9 1557.1 555.0 1555.8 552.2 1554.5 549.3 1553.2 546.5 1551.9 543.6 1550.6 540.8 1549.3 537.9 1548.0 535.1 1546.7 532.2 1545.4 529.4 1547.1 526.5 1548.7 523.7 1550.4 520.8 1552.1 518.0 1553.8 515.1 1555.4 512.3 1557.1 509.4 1558.8 506.6 1562.4 503.7 1563.6 500.9 1563.6 498.0 1563.6 495.2 1558.9 492.3 1557.6 489.5 1556.2 486.6 1554.9 483.8 1553.6 480.9 1552.3 478.1 1551.0 475.2 1549.7 472.4 1548.4 469.5 1547.1 466.7 1545.8 463.8 1546.5 461.0 1548.2 458.1 1549.8 455.3 1551.5 452.4 1553.2 449.6 1554.9 446.7 1556.5 443.9 1558.2 441.0 1561.2 438.2 1563.6 435.3 1563.6 432.5 1563.6 429.6 1559.3 426.8 1558.0 423.9 1556.7 421.1 1555.4 418.2 1554.1 415.4 1552.8 412.5 1551.5 409.7 1550.2 406.8 1548.9 404.0 1547.6 401.1 1546.3 398.3 1545.9 395.4 1547.6 392.6 1549.3 389.7 1551.0 386.9 1552.6 384.0 1554.3 381.2 1556.0 378.3 1557.7 375.5 1560.0 372.6 1563.6 369.8 1563.6 366.9 1563.6 364.0 1559.7 361.2 1558.4Z" fill="#4c4c4c"/><path d="M361.2 1535.2 364.0 1536.8 366.9 1541.7 369.8 1541.7 372.6 1541.7 375.5 1537.1 378.3 1534.2 381.2 1532.1 384.0 1530.0 386.9 1527.9 389.7 1525.8 392.6 1523.7 395.4 1521.7 398.3 1519.6 401.1 1520.0 404.0 1521.6 406.8 1523.2 409.7 1524.8 412.5 1526.5 415.4 1528.1 418.2 1529.7 421.1 1531.4 423.9 1533.0 426.8 1534.6 429.6 1536.2 432.5 1541.7 435.3 1541.7 438.2 1541.7 441.0 1538.6 443.9 1534.9 446.7 1532.8 449.6 1530.7 452.4 1528.6 455.3 1526.5 458.1 1524.4 461.0 1522.3 463.8 1520.3 466.7 1519.4 469.5 1521.0 472.4 1522.7 475.2 1524.3 478.1 1525.9 480.9 1527.6 483.8 1529.2 486.6 1530.8 489.5 1532.4 492.3 1534.1 495.2 1535.7 498.0 1541.7 500.9 1541.7 503.7 1541.7 506.6 1540.1 509.4 1535.6 512.3 1533.5 515.1 1531.4 518.0 1529.3 520.8 1527.2 523.7 1525.1 526.5 1523.0 529.4 1521.0 532.2 1518.9 535.1 1520.5 537.9 1522.1 540.8 1523.8 543.6 1525.4 546.5 1527.0 549.3 1528.6 552.2 1530.3 555.0 1531.9 557.9 1533.5 560.7 1535.2 563.6 1536.8 566.4 1541.7 569.3 1541.7 572.1 1541.7 575.0 1537.1 577.8 1534.2 580.7 1532.1 583.5 1530.0 586.4 1527.9 589.2 1525.8 592.1 1523.7 594.9 1521.7 597.8 1519.6 600.6 1520.0 603.5 1521.6 606.3 1523.2 609.2 1524.8 612.0 1526.5 614.9 1528.1 617.7 1529.7 620.6 1531.4 623.4 1533.0 626.3 1534.6 629.1 1536.2 632.0 1541.7 634.8 1541.7 637.7 1541.7 640.5 1538.6 643.4 1534.9 646.2 1532.8 649.1 1530.7 651.9 1528.6 654.8 1526.5 657.6 1524.4 660.5 1522.3 663.3 1520.3 666.2 1519.4 669.0 1521.0 671.9 1522.7 674.7 1524.3 677.6 1525.9 680.4 1527.6 683.3 1529.2 686.1 1530.8 689.0 1532.4 691.8 1534.1 694.7 1535.7 697.5 1541.7 700.4 1541.7 703.2 1541.7 706.1 1540.1 708.9 1535.6 711.8 1533.5 714.6 1531.4 717.5 1529.3 720.3 1527.2 723.2 1525.1 726.0 1523.0 728.9 1521.0 731.7 1518.9 734.6 1520.5 737.4 1522.1 740.3 1523.8 743.1 1525.4" fill="none" stroke="#999999" stroke-width="2.2" stroke-opacity="1.0"/><path d="M361.2 1542.0 364.0 1543.6 366.9 1548.5 369.8 1548.5 372.6 1548.5 375.5 1543.9 378.3 1541.0 381.2 1538.9 384.0 1536.9 386.9 1534.8 389.7 1532.7 392.6 1530.6 395.4 1528.5 398.3 1526.4 401.1 1526.8 404.0 1528.4 406.8 1530.0 409.7 1531.7 412.5 1533.3 415.4 1534.9 418.2 1536.6 421.1 1538.2 423.9 1539.8 426.8 1541.4 429.6 1543.1 432.5 1548.5 435.3 1548.5 438.2 1548.5 441.0 1545.5 443.9 1541.7 446.7 1539.6 449.6 1537.5 452.4 1535.5 455.3 1533.4 458.1 1531.3 461.0 1529.2 463.8 1527.1 466.7 1526.2 469.5 1527.9 472.4 1529.5 475.2 1531.1 478.1 1532.8 480.9 1534.4 483.8 1536.0 486.6 1537.6 489.5 1539.3 492.3 1540.9 495.2 1542.5 498.0 1548.5 500.9 1548.5 503.7 1548.5 506.6 1547.0 509.4 1542.4 512.3 1540.3 515.1 1538.2 518.0 1536.2 520.8 1534.1 523.7 1532.0 526.5 1529.9 529.4 1527.8 532.2 1525.7 535.1 1527.3 537.9 1529.0 540.8 1530.6 543.6 1532.2 546.5 1533.8 549.3 1535.5 552.2 1537.1 555.0 1538.7 557.9 1540.4 560.7 1542.0 563.6 1543.6 566.4 1548.5 569.3 1548.5 572.1 1548.5 575.0 1543.9 577.8 1541.0 580.7 1538.9 583.5 1536.9 586.4 1534.8 589.2 1532.7 592.1 1530.6 594.9 1528.5 597.8 1526.4 600.6 1526.8 603.5 1528.4 606.3 1530.0 609.2 1531.7 612.0 1533.3 614.9 1534.9 617.7 1536.6 620.6 1538.2 623.4 1539.8 626.3 1541.4 629.1 1543.1 632.0 1548.5 634.8 1548.5 637.7 1548.5 640.5 1545.5 643.4 1541.7 646.2 1539.6 649.1 1537.5 651.9 1535.5 654.8 1533.4 657.6 1531.3 660.5 1529.2 663.3 1527.1 666.2 1526.2 669.0 1527.9 671.9 1529.5 674.7 1531.1 677.6 1532.8 680.4 1534.4 683.3 1536.0 686.1 1537.6 689.0 1539.3 691.8 1540.9 694.7 1542.5 697.5 1548.5 700.4 1548.5 703.2 1548.5 706.1 1547.0 708.9 1542.4 711.8 1540.3 714.6 1538.2 717.5 1536.2 720.3 1534.1 723.2 1532.0 726.0 1529.9 728.9 1527.8 731.7 1525.7 734.6 1527.3 737.4 1529.0 740.3 1530.6 743.1 1532.2" fill="none" stroke="#808080" stroke-width="2.0" stroke-opacity="1.0"/><path d="M361.2 1549.0 364.0 1550.7 366.9 1555.5 369.8 1555.5 372.6 1555.5 375.5 1551.0 378.3 1548.1 381.2 1546.0 384.0 1543.9 386.9 1541.8 389.7 1539.7 392.6 1537.6 395.4 1535.5 398.3 1533.4 401.1 1533.8 404.0 1535.5 406.8 1537.1 409.7 1538.7 412.5 1540.3 415.4 1542.0 418.2 1543.6 421.1 1545.2 423.9 1546.9 426.8 1548.5 429.6 1550.1 432.5 1555.5 435.3 1555.5 438.2 1555.5 441.0 1552.5 443.9 1548.8 446.7 1546.7 449.6 1544.6 452.4 1542.5 455.3 1540.4 458.1 1538.3 461.0 1536.2 463.8 1534.1 466.7 1533.3 469.5 1534.9 472.4 1536.5 475.2 1538.2 478.1 1539.8 480.9 1541.4 483.8 1543.1 486.6 1544.7 489.5 1546.3 492.3 1547.9 495.2 1549.6 498.0 1555.5 500.9 1555.5 503.7 1555.5 506.6 1554.0 509.4 1549.5 512.3 1547.4 515.1 1545.3 518.0 1543.2 520.8 1541.1 523.7 1539.0 526.5 1536.9 529.4 1534.8 532.2 1532.7 535.1 1534.4 537.9 1536.0 540.8 1537.6 543.6 1539.3 546.5 1540.9 549.3 1542.5 552.2 1544.1 555.0 1545.8 557.9 1547.4 560.7 1549.0 563.6 1550.7 566.4 1555.5 569.3 1555.5 572.1 1555.5 575.0 1551.0 577.8 1548.1 580.7 1546.0 583.5 1543.9 586.4 1541.8 589.2 1539.7 592.1 1537.6 594.9 1535.5 597.8 1533.4 600.6 1533.8 603.5 1535.5 606.3 1537.1 609.2 1538.7 612.0 1540.3 614.9 1542.0 617.7 1543.6 620.6 1545.2 623.4 1546.9 626.3 1548.5 629.1 1550.1 632.0 1555.5 634.8 1555.5 637.7 1555.5 640.5 1552.5 643.4 1548.8 646.2 1546.7 649.1 1544.6 651.9 1542.5 654.8 1540.4 657.6 1538.3 660.5 1536.2 663.3 1534.1 666.2 1533.3 669.0 1534.9 671.9 1536.5 674.7 1538.2 677.6 1539.8 680.4 1541.4 683.3 1543.1 686.1 1544.7 689.0 1546.3 691.8 1547.9 694.7 1549.6 697.5 1555.5 700.4 1555.5 703.2 1555.5 706.1 1554.0 708.9 1549.5 711.8 1547.4 714.6 1545.3 717.5 1543.2 720.3 1541.1 723.2 1539.0 726.0 1536.9 728.9 1534.8 731.7 1532.7 734.6 1534.4 737.4 1536.0 740.3 1537.6 743.1 1539.3" fill="none" stroke="#737373" stroke-width="2.0" stroke-opacity="1.0"/><path d="M361.2 1556.5 364.0 1557.8 366.9 1561.7 369.8 1561.7 372.6 1561.7 375.5 1558.1 378.3 1555.8 381.2 1554.1 384.0 1552.4 386.9 1550.7 389.7 1549.1 392.6 1547.4 395.4 1545.7 398.3 1544.0 401.1 1544.4 404.0 1545.7 406.8 1547.0 409.7 1548.3 412.5 1549.6 415.4 1550.9 418.2 1552.2 421.1 1553.5 423.9 1554.8 426.8 1556.1 429.6 1557.4 432.5 1561.7 435.3 1561.7 438.2 1561.7 441.0 1559.3 443.9 1556.3 446.7 1554.6 449.6 1553.0 452.4 1551.3 455.3 1549.6 458.1 1547.9 461.0 1546.3 463.8 1544.6 466.7 1543.9 469.5 1545.2 472.4 1546.5 475.2 1547.8 478.1 1549.1 480.9 1550.4 483.8 1551.7 486.6 1553.0 489.5 1554.3 492.3 1555.7 495.2 1557.0 498.0 1561.7 500.9 1561.7 503.7 1561.7 506.6 1560.5 509.4 1556.9 512.3 1555.2 515.1 1553.5 518.0 1551.9 520.8 1550.2 523.7 1548.5 526.5 1546.8 529.4 1545.2 532.2 1543.5 535.1 1544.8 537.9 1546.1 540.8 1547.4 543.6 1548.7 546.5 1550.0 549.3 1551.3 552.2 1552.6 555.0 1553.9 557.9 1555.2 560.7 1556.5 563.6 1557.8 566.4 1561.7 569.3 1561.7 572.1 1561.7 575.0 1558.1 577.8 1555.8 580.7 1554.1 583.5 1552.4 586.4 1550.7 589.2 1549.1 592.1 1547.4 594.9 1545.7 597.8 1544.0 600.6 1544.4 603.5 1545.7 606.3 1547.0 609.2 1548.3 612.0 1549.6 614.9 1550.9 617.7 1552.2 620.6 1553.5 623.4 1554.8 626.3 1556.1 629.1 1557.4 632.0 1561.7 634.8 1561.7 637.7 1561.7 640.5 1559.3 643.4 1556.3 646.2 1554.6 649.1 1553.0 651.9 1551.3 654.8 1549.6 657.6 1547.9 660.5 1546.3 663.3 1544.6 666.2 1543.9 669.0 1545.2 671.9 1546.5 674.7 1547.8 677.6 1549.1 680.4 1550.4 683.3 1551.7 686.1 1553.0 689.0 1554.3 691.8 1555.7 694.7 1557.0 697.5 1561.7 700.4 1561.7 703.2 1561.7 706.1 1560.5 708.9 1556.9 711.8 1555.2 714.6 1553.5 717.5 1551.9 720.3 1550.2 723.2 1548.5 726.0 1546.8 728.9 1545.2 731.7 1543.5 734.6 1544.8 737.4 1546.1 740.3 1547.4 743.1 1548.7 743.1 1563.4 740.3 1562.3 737.4 1561.1 734.6 1560.0 731.7 1558.8 728.9 1560.3 726.0 1561.8 723.2 1563.2 720.3 1564.7 717.5 1566.2 714.6 1567.6 711.8 1569.1 708.9 1570.5 706.1 1573.7 703.2 1574.8 700.4 1574.8 697.5 1574.8 694.7 1570.6 691.8 1569.5 689.0 1568.3 686.1 1567.2 683.3 1566.1 680.4 1564.9 677.6 1563.8 674.7 1562.6 671.9 1561.5 669.0 1560.4 666.2 1559.2 663.3 1559.8 660.5 1561.3 657.6 1562.7 654.8 1564.2 651.9 1565.7 649.1 1567.1 646.2 1568.6 643.4 1570.1 640.5 1572.7 637.7 1574.8 634.8 1574.8 632.0 1574.8 629.1 1571.0 626.3 1569.9 623.4 1568.7 620.6 1567.6 617.7 1566.4 614.9 1565.3 612.0 1564.2 609.2 1563.0 606.3 1561.9 603.5 1560.7 600.6 1559.6 597.8 1559.3 594.9 1560.8 592.1 1562.3 589.2 1563.7 586.4 1565.2 583.5 1566.6 580.7 1568.1 577.8 1569.6 575.0 1571.6 572.1 1574.8 569.3 1574.8 566.4 1574.8 563.6 1571.4 560.7 1570.2 557.9 1569.1 555.0 1568.0 552.2 1566.8 549.3 1565.7 546.5 1564.5 543.6 1563.4 540.8 1562.3 537.9 1561.1 535.1 1560.0 532.2 1558.8 529.4 1560.3 526.5 1561.8 523.7 1563.2 520.8 1564.7 518.0 1566.2 515.1 1567.6 512.3 1569.1 509.4 1570.5 506.6 1573.7 503.7 1574.8 500.9 1574.8 498.0 1574.8 495.2 1570.6 492.3 1569.5 489.5 1568.3 486.6 1567.2 483.8 1566.1 480.9 1564.9 478.1 1563.8 475.2 1562.6 472.4 1561.5 469.5 1560.4 466.7 1559.2 463.8 1559.8 461.0 1561.3 458.1 1562.7 455.3 1564.2 452.4 1565.7 449.6 1567.1 446.7 1568.6 443.9 1570.1 441.0 1572.7 438.2 1574.8 435.3 1574.8 432.5 1574.8 429.6 1571.0 426.8 1569.9 423.9 1568.7 421.1 1567.6 418.2 1566.4 415.4 1565.3 412.5 1564.2 409.7 1563.0 406.8 1561.9 404.0 1560.7 401.1 1559.6 398.3 1559.3 395.4 1560.8 392.6 1562.3 389.7 1563.7 386.9 1565.2 384.0 1566.6 381.2 1568.1 378.3 1569.6 375.5 1571.6 372.6 1574.8 369.8 1574.8 366.9 1574.8 364.0 1571.4 361.2 1570.2Z" fill="#f7f7f7"/><path d="M361.2 1570.2 364.0 1571.4 366.9 1574.8 369.8 1574.8 372.6 1574.8 375.5 1571.6 378.3 1569.6 381.2 1568.1 384.0 1566.6 386.9 1565.2 389.7 1563.7 392.6 1562.3 395.4 1560.8 398.3 1559.3 401.1 1559.6 404.0 1560.7 406.8 1561.9 409.7 1563.0 412.5 1564.2 415.4 1565.3 418.2 1566.4 421.1 1567.6 423.9 1568.7 426.8 1569.9 429.6 1571.0 432.5 1574.8 435.3 1574.8 438.2 1574.8 441.0 1572.7 443.9 1570.1 446.7 1568.6 449.6 1567.1 452.4 1565.7 455.3 1564.2 458.1 1562.7 461.0 1561.3 463.8 1559.8 466.7 1559.2 469.5 1560.4 472.4 1561.5 475.2 1562.6 478.1 1563.8 480.9 1564.9 483.8 1566.1 486.6 1567.2 489.5 1568.3 492.3 1569.5 495.2 1570.6 498.0 1574.8 500.9 1574.8 503.7 1574.8 506.6 1573.7 509.4 1570.5 512.3 1569.1 515.1 1567.6 518.0 1566.2 520.8 1564.7 523.7 1563.2 526.5 1561.8 529.4 1560.3 532.2 1558.8 535.1 1560.0 537.9 1561.1 540.8 1562.3 543.6 1563.4 546.5 1564.5 549.3 1565.7 552.2 1566.8 555.0 1568.0 557.9 1569.1 560.7 1570.2 563.6 1571.4 566.4 1574.8 569.3 1574.8 572.1 1574.8 575.0 1571.6 577.8 1569.6 580.7 1568.1 583.5 1566.6 586.4 1565.2 589.2 1563.7 592.1 1562.3 594.9 1560.8 597.8 1559.3 600.6 1559.6 603.5 1560.7 606.3 1561.9 609.2 1563.0 612.0 1564.2 614.9 1565.3 617.7 1566.4 620.6 1567.6 623.4 1568.7 626.3 1569.9 629.1 1571.0 632.0 1574.8 634.8 1574.8 637.7 1574.8 640.5 1572.7 643.4 1570.1 646.2 1568.6 649.1 1567.1 651.9 1565.7 654.8 1564.2 657.6 1562.7 660.5 1561.3 663.3 1559.8 666.2 1559.2 669.0 1560.4 671.9 1561.5 674.7 1562.6 677.6 1563.8 680.4 1564.9 683.3 1566.1 686.1 1567.2 689.0 1568.3 691.8 1569.5 694.7 1570.6 697.5 1574.8 700.4 1574.8 703.2 1574.8 706.1 1573.7 708.9 1570.5 711.8 1569.1 714.6 1567.6 717.5 1566.2 720.3 1564.7 723.2 1563.2 726.0 1561.8 728.9 1560.3 731.7 1558.8 734.6 1560.0 737.4 1561.1 740.3 1562.3 743.1 1563.4 743.1 1584.3 740.3 1583.4 737.4 1582.6 734.6 1581.8 731.7 1581.0 728.9 1582.0 726.0 1583.1 723.2 1584.1 720.3 1585.2 717.5 1586.2 714.6 1587.3 711.8 1588.3 708.9 1589.4 706.1 1591.6 703.2 1592.4 700.4 1592.4 697.5 1592.4 694.7 1589.4 691.8 1588.6 689.0 1587.8 686.1 1587.0 683.3 1586.2 680.4 1585.3 677.6 1584.5 674.7 1583.7 671.9 1582.9 669.0 1582.1 666.2 1581.3 663.3 1581.7 660.5 1582.7 657.6 1583.8 654.8 1584.8 651.9 1585.9 649.1 1586.9 646.2 1588.0 643.4 1589.0 640.5 1590.9 637.7 1592.4 634.8 1592.4 632.0 1592.4 629.1 1589.7 626.3 1588.9 623.4 1588.1 620.6 1587.2 617.7 1586.4 614.9 1585.6 612.0 1584.8 609.2 1584.0 606.3 1583.2 603.5 1582.4 600.6 1581.5 597.8 1581.3 594.9 1582.4 592.1 1583.4 589.2 1584.5 586.4 1585.5 583.5 1586.6 580.7 1587.6 577.8 1588.7 575.0 1590.1 572.1 1592.4 569.3 1592.4 566.4 1592.4 563.6 1590.0 560.7 1589.1 557.9 1588.3 555.0 1587.5 552.2 1586.7 549.3 1585.9 546.5 1585.1 543.6 1584.3 540.8 1583.4 537.9 1582.6 535.1 1581.8 532.2 1581.0 529.4 1582.0 526.5 1583.1 523.7 1584.1 520.8 1585.2 518.0 1586.2 515.1 1587.3 512.3 1588.3 509.4 1589.4 506.6 1591.6 503.7 1592.4 500.9 1592.4 498.0 1592.4 495.2 1589.4 492.3 1588.6 489.5 1587.8 486.6 1587.0 483.8 1586.2 480.9 1585.3 478.1 1584.5 475.2 1583.7 472.4 1582.9 469.5 1582.1 466.7 1581.3 463.8 1581.7 461.0 1582.7 458.1 1583.8 455.3 1584.8 452.4 1585.9 449.6 1586.9 446.7 1588.0 443.9 1589.0 441.0 1590.9 438.2 1592.4 435.3 1592.4 432.5 1592.4 429.6 1589.7 426.8 1588.9 423.9 1588.1 421.1 1587.2 418.2 1586.4 415.4 1585.6 412.5 1584.8 409.7 1584.0 406.8 1583.2 404.0 1582.4 401.1 1581.5 398.3 1581.3 395.4 1582.4 392.6 1583.4 389.7 1584.5 386.9 1585.5 384.0 1586.6 381.2 1587.6 378.3 1588.7 375.5 1590.1 372.6 1592.4 369.8 1592.4 366.9 1592.4 364.0 1590.0 361.2 1589.1Z" fill="#858585"/><path d="M361.2 1589.1 364.0 1590.0 366.9 1592.4 369.8 1592.4 372.6 1592.4 375.5 1590.1 378.3 1588.7 381.2 1587.6 384.0 1586.6 386.9 1585.5 389.7 1584.5 392.6 1583.4 395.4 1582.4 398.3 1581.3 401.1 1581.5 404.0 1582.4 406.8 1583.2 409.7 1584.0 412.5 1584.8 415.4 1585.6 418.2 1586.4 421.1 1587.2 423.9 1588.1 426.8 1588.9 429.6 1589.7 432.5 1592.4 435.3 1592.4 438.2 1592.4 441.0 1590.9 443.9 1589.0 446.7 1588.0 449.6 1586.9 452.4 1585.9 455.3 1584.8 458.1 1583.8 461.0 1582.7 463.8 1581.7 466.7 1581.3 469.5 1582.1 472.4 1582.9 475.2 1583.7 478.1 1584.5 480.9 1585.3 483.8 1586.2 486.6 1587.0 489.5 1587.8 492.3 1588.6 495.2 1589.4 498.0 1592.4 500.9 1592.4 503.7 1592.4 506.6 1591.6 509.4 1589.4 512.3 1588.3 515.1 1587.3 518.0 1586.2 520.8 1585.2 523.7 1584.1 526.5 1583.1 529.4 1582.0 532.2 1581.0 535.1 1581.8 537.9 1582.6 540.8 1583.4 543.6 1584.3 546.5 1585.1 549.3 1585.9 552.2 1586.7 555.0 1587.5 557.9 1588.3 560.7 1589.1 563.6 1590.0 566.4 1592.4 569.3 1592.4 572.1 1592.4 575.0 1590.1 577.8 1588.7 580.7 1587.6 583.5 1586.6 586.4 1585.5 589.2 1584.5 592.1 1583.4 594.9 1582.4 597.8 1581.3 600.6 1581.5 603.5 1582.4 606.3 1583.2 609.2 1584.0 612.0 1584.8 614.9 1585.6 617.7 1586.4 620.6 1587.2 623.4 1588.1 626.3 1588.9 629.1 1589.7 632.0 1592.4 634.8 1592.4 637.7 1592.4 640.5 1590.9 643.4 1589.0 646.2 1588.0 649.1 1586.9 651.9 1585.9 654.8 1584.8 657.6 1583.8 660.5 1582.7 663.3 1581.7 666.2 1581.3 669.0 1582.1 671.9 1582.9 674.7 1583.7 677.6 1584.5 680.4 1585.3 683.3 1586.2 686.1 1587.0 689.0 1587.8 691.8 1588.6 694.7 1589.4 697.5 1592.4 700.4 1592.4 703.2 1592.4 706.1 1591.6 708.9 1589.4 711.8 1588.3 714.6 1587.3 717.5 1586.2 720.3 1585.2 723.2 1584.1 726.0 1583.1 728.9 1582.0 731.7 1581.0 734.6 1581.8 737.4 1582.6 740.3 1583.4 743.1 1584.3 743.1 1615.0 740.3 1615.0 737.4 1615.0 734.6 1615.0 731.7 1615.0 728.9 1615.0 726.0 1615.0 723.2 1615.0 720.3 1615.0 717.5 1615.0 714.6 1615.0 711.8 1615.0 708.9 1615.0 706.1 1615.0 703.2 1615.0 700.4 1615.0 697.5 1615.0 694.7 1615.0 691.8 1615.0 689.0 1615.0 686.1 1615.0 683.3 1615.0 680.4 1615.0 677.6 1615.0 674.7 1615.0 671.9 1615.0 669.0 1615.0 666.2 1615.0 663.3 1615.0 660.5 1615.0 657.6 1615.0 654.8 1615.0 651.9 1615.0 649.1 1615.0 646.2 1615.0 643.4 1615.0 640.5 1615.0 637.7 1615.0 634.8 1615.0 632.0 1615.0 629.1 1615.0 626.3 1615.0 623.4 1615.0 620.6 1615.0 617.7 1615.0 614.9 1615.0 612.0 1615.0 609.2 1615.0 606.3 1615.0 603.5 1615.0 600.6 1615.0 597.8 1615.0 594.9 1615.0 592.1 1615.0 589.2 1615.0 586.4 1615.0 583.5 1615.0 580.7 1615.0 577.8 1615.0 575.0 1615.0 572.1 1615.0 569.3 1615.0 566.4 1615.0 563.6 1615.0 560.7 1615.0 557.9 1615.0 555.0 1615.0 552.2 1615.0 549.3 1615.0 546.5 1615.0 543.6 1615.0 540.8 1615.0 537.9 1615.0 535.1 1615.0 532.2 1615.0 529.4 1615.0 526.5 1615.0 523.7 1615.0 520.8 1615.0 518.0 1615.0 515.1 1615.0 512.3 1615.0 509.4 1615.0 506.6 1615.0 503.7 1615.0 500.9 1615.0 498.0 1615.0 495.2 1615.0 492.3 1615.0 489.5 1615.0 486.6 1615.0 483.8 1615.0 480.9 1615.0 478.1 1615.0 475.2 1615.0 472.4 1615.0 469.5 1615.0 466.7 1615.0 463.8 1615.0 461.0 1615.0 458.1 1615.0 455.3 1615.0 452.4 1615.0 449.6 1615.0 446.7 1615.0 443.9 1615.0 441.0 1615.0 438.2 1615.0 435.3 1615.0 432.5 1615.0 429.6 1615.0 426.8 1615.0 423.9 1615.0 421.1 1615.0 418.2 1615.0 415.4 1615.0 412.5 1615.0 409.7 1615.0 406.8 1615.0 404.0 1615.0 401.1 1615.0 398.3 1615.0 395.4 1615.0 392.6 1615.0 389.7 1615.0 386.9 1615.0 384.0 1615.0 381.2 1615.0 378.3 1615.0 375.5 1615.0 372.6 1615.0 369.8 1615.0 366.9 1615.0 364.0 1615.0 361.2 1615.0Z" fill="#545454"/><path d="M361.2 1576.4 364.0 1577.3 366.9 1580.3 369.8 1580.3 372.6 1580.3 375.5 1577.5 378.3 1575.8 381.2 1574.5 384.0 1573.3 386.9 1572.0 389.7 1570.8 392.6 1569.5 395.4 1568.3 398.3 1567.0 401.1 1567.2 404.0 1568.2 406.8 1569.2 409.7 1570.2 412.5 1571.2 415.4 1572.1 418.2 1573.1 421.1 1574.1 423.9 1575.1 426.8 1576.0 429.6 1577.0 432.5 1580.3 435.3 1580.3 438.2 1580.3 441.0 1578.5 443.9 1576.2 446.7 1575.0 449.6 1573.7 452.4 1572.4 455.3 1571.2 458.1 1569.9 461.0 1568.7 463.8 1567.4 466.7 1566.9 469.5 1567.9 472.4 1568.9 475.2 1569.9 478.1 1570.8 480.9 1571.8 483.8 1572.8 486.6 1573.8 489.5 1574.7 492.3 1575.7 495.2 1576.7 498.0 1580.3 500.9 1580.3 503.7 1580.3 506.6 1579.4 509.4 1576.6 512.3 1575.4 515.1 1574.1 518.0 1572.9 520.8 1571.6 523.7 1570.4 526.5 1569.1 529.4 1567.8 532.2 1566.6 535.1 1567.6 537.9 1568.5 540.8 1569.5 543.6 1570.5 546.5 1571.5 549.3 1572.5 552.2 1573.4 555.0 1574.4 557.9 1575.4 560.7 1576.4 563.6 1577.3 566.4 1580.3 569.3 1580.3 572.1 1580.3 575.0 1577.5 577.8 1575.8 580.7 1574.5 583.5 1573.3 586.4 1572.0 589.2 1570.8 592.1 1569.5 594.9 1568.3 597.8 1567.0 600.6 1567.2 603.5 1568.2 606.3 1569.2 609.2 1570.2 612.0 1571.2 614.9 1572.1 617.7 1573.1 620.6 1574.1 623.4 1575.1 626.3 1576.0 629.1 1577.0 632.0 1580.3 634.8 1580.3 637.7 1580.3 640.5 1578.5 643.4 1576.2 646.2 1575.0 649.1 1573.7 651.9 1572.4 654.8 1571.2 657.6 1569.9 660.5 1568.7 663.3 1567.4 666.2 1566.9 669.0 1567.9 671.9 1568.9 674.7 1569.9 677.6 1570.8 680.4 1571.8 683.3 1572.8 686.1 1573.8 689.0 1574.7 691.8 1575.7 694.7 1576.7 697.5 1580.3 700.4 1580.3 703.2 1580.3 706.1 1579.4 708.9 1576.6 711.8 1575.4 714.6 1574.1 717.5 1572.9 720.3 1571.6 723.2 1570.4 726.0 1569.1 728.9 1567.8 731.7 1566.6 734.6 1567.6 737.4 1568.5 740.3 1569.5 743.1 1570.5" fill="none" stroke="#b8b8b8" stroke-width="2.2" stroke-opacity="0.8"/><path d="M361.2 1584.0 364.0 1584.9 366.9 1587.9 369.8 1587.9 372.6 1587.9 375.5 1585.1 378.3 1583.4 381.2 1582.1 384.0 1580.9 386.9 1579.6 389.7 1578.4 392.6 1577.1 395.4 1575.9 398.3 1574.6 401.1 1574.8 404.0 1575.8 406.8 1576.8 409.7 1577.8 412.5 1578.8 415.4 1579.7 418.2 1580.7 421.1 1581.7 423.9 1582.7 426.8 1583.6 429.6 1584.6 432.5 1587.9 435.3 1587.9 438.2 1587.9 441.0 1586.1 443.9 1583.8 446.7 1582.6 449.6 1581.3 452.4 1580.0 455.3 1578.8 458.1 1577.5 461.0 1576.3 463.8 1575.0 466.7 1574.5 469.5 1575.5 472.4 1576.5 475.2 1577.5 478.1 1578.4 480.9 1579.4 483.8 1580.4 486.6 1581.4 489.5 1582.3 492.3 1583.3 495.2 1584.3 498.0 1587.9 500.9 1587.9 503.7 1587.9 506.6 1587.0 509.4 1584.2 512.3 1583.0 515.1 1581.7 518.0 1580.5 520.8 1579.2 523.7 1578.0 526.5 1576.7 529.4 1575.4 532.2 1574.2 535.1 1575.2 537.9 1576.1 540.8 1577.1 543.6 1578.1 546.5 1579.1 549.3 1580.1 552.2 1581.0 555.0 1582.0 557.9 1583.0 560.7 1584.0 563.6 1584.9 566.4 1587.9 569.3 1587.9 572.1 1587.9 575.0 1585.1 577.8 1583.4 580.7 1582.1 583.5 1580.9 586.4 1579.6 589.2 1578.4 592.1 1577.1 594.9 1575.9 597.8 1574.6 600.6 1574.8 603.5 1575.8 606.3 1576.8 609.2 1577.8 612.0 1578.8 614.9 1579.7 617.7 1580.7 620.6 1581.7 623.4 1582.7 626.3 1583.6 629.1 1584.6 632.0 1587.9 634.8 1587.9 637.7 1587.9 640.5 1586.1 643.4 1583.8 646.2 1582.6 649.1 1581.3 651.9 1580.0 654.8 1578.8 657.6 1577.5 660.5 1576.3 663.3 1575.0 666.2 1574.5 669.0 1575.5 671.9 1576.5 674.7 1577.5 677.6 1578.4 680.4 1579.4 683.3 1580.4 686.1 1581.4 689.0 1582.3 691.8 1583.3 694.7 1584.3 697.5 1587.9 700.4 1587.9 703.2 1587.9 706.1 1587.0 708.9 1584.2 711.8 1583.0 714.6 1581.7 717.5 1580.5 720.3 1579.2 723.2 1578.0 726.0 1576.7 728.9 1575.4 731.7 1574.2 734.6 1575.2 737.4 1576.1 740.3 1577.1 743.1 1578.1" fill="none" stroke="#9e9e9e" stroke-width="2.0" stroke-opacity="0.8"/></g></g></g>
<rect x="1.3" y="1342.9" width="358.8" height="267.5" fill="none" stroke="#000" stroke-width="3.0"/>
<rect x="374.5" y="1342.9" width="358.6" height="267.5" fill="none" stroke="#000" stroke-width="3.0"/>
<path d="M179.6 1417.5 V1535.2" stroke="#ffff00" stroke-width="2.7" fill="none"/><path d="M179.6 1407.0 L186.5 1420.5 L179.6 1418.3 L172.7 1420.5 Z M179.6 1545.7 L186.5 1532.2 L179.6 1534.4 L172.7 1532.2 Z" fill="#ffff00"/>
<path d="M205.8 1425.1 V1521.3" stroke="#ffff00" stroke-width="2.7" fill="none"/><path d="M205.8 1414.6 L212.70000000000002 1428.1 L205.8 1425.8999999999999 L198.9 1428.1 Z M205.8 1531.8 L212.70000000000002 1518.3 L205.8 1520.5 L198.9 1518.3 Z" fill="#ffff00"/>
<path d="M505.6 1411.2 V1529.1" stroke="#ffff00" stroke-width="2.7" fill="none"/><path d="M505.6 1400.7 L512.5 1414.2 L505.6 1412.0 L498.70000000000005 1414.2 Z M505.6 1539.6 L512.5 1526.1 L505.6 1528.3 L498.70000000000005 1526.1 Z" fill="#ffff00"/>
<path d="M535.05 1426.4 V1503.4" stroke="#ffff00" stroke-width="2.7" fill="none"/><path d="M535.05 1415.9 L541.9499999999999 1429.4 L535.05 1427.2 L528.15 1429.4 Z M535.05 1513.9 L541.9499999999999 1500.4 L535.05 1502.6000000000001 L528.15 1500.4 Z" fill="#ffff00"/>
<path d="M0 1623 H734.5" stroke="#000" stroke-width="2.8" fill="none"/>
<text x="366.50" y="1659.80" font-size="32.6" text-anchor="middle">Day 29</text>
</g>
</svg>
</body>
</html>
